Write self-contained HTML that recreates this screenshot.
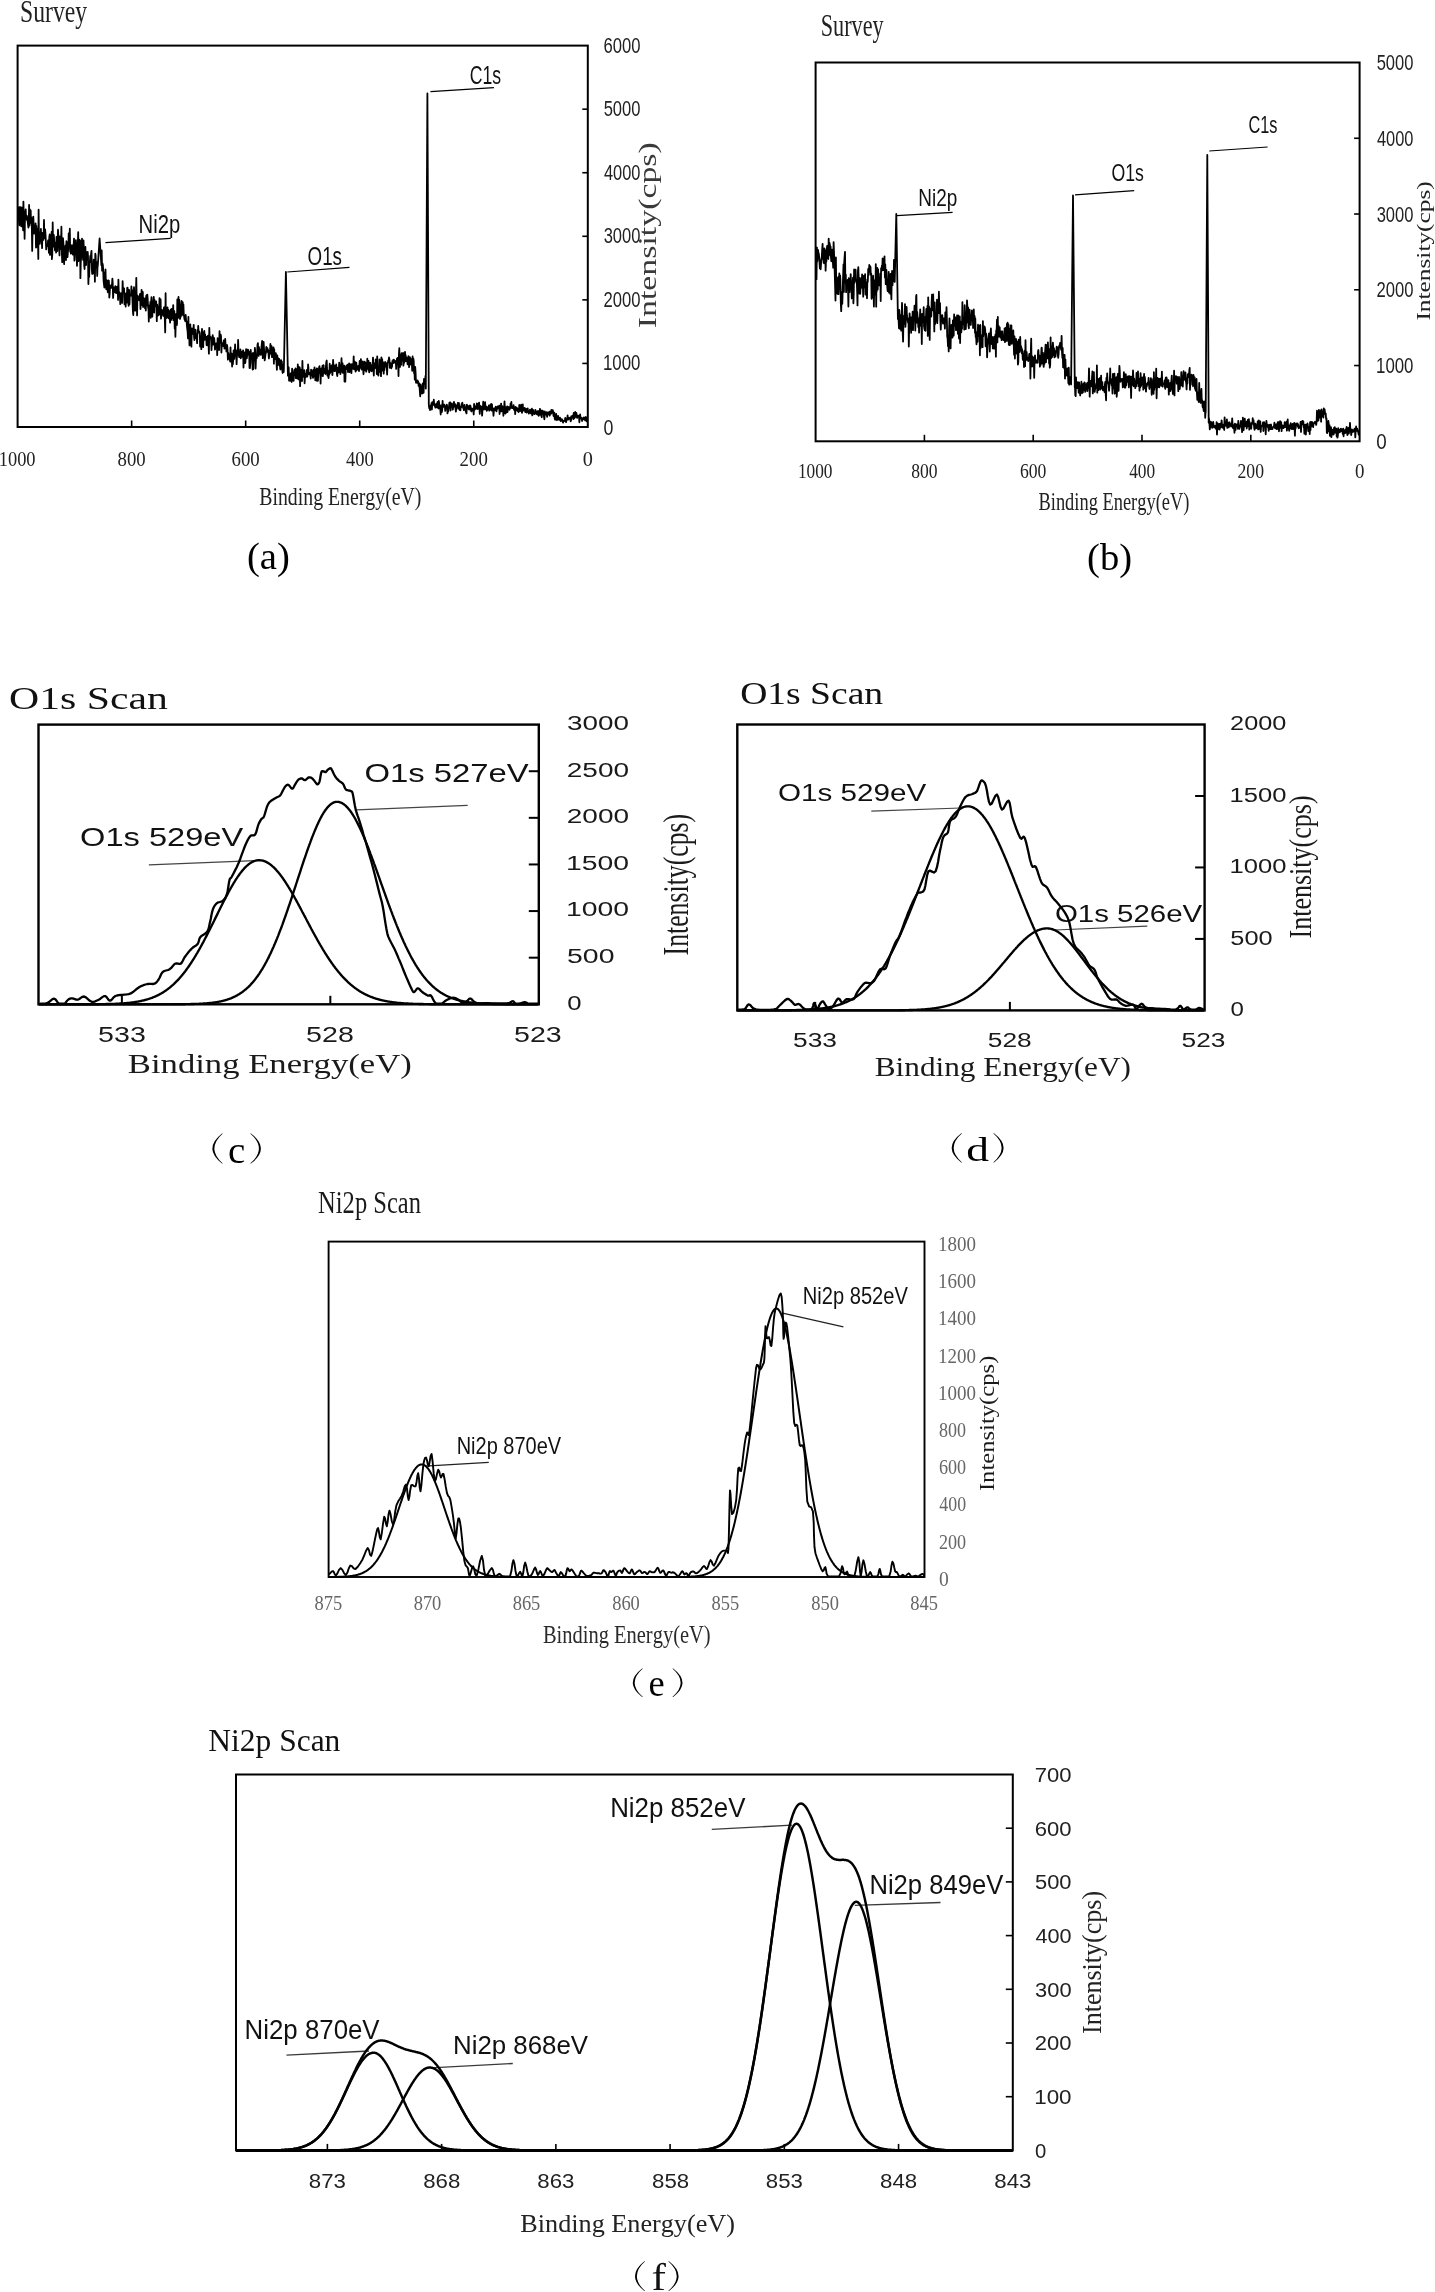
<!DOCTYPE html>
<html><head><meta charset="utf-8"><title>XPS spectra</title>
<style>
html,body{margin:0;padding:0;background:#fff;}
body{width:1435px;height:2292px;overflow:hidden;}
svg{display:block;}
text{font-kerning:none;}
svg{will-change:transform;}
</style></head>
<body>
<svg width="1435" height="2292" viewBox="0 0 1435 2292">
<rect x="0" y="0" width="1435" height="2292" fill="#fff"/>
<rect x="17.60" y="45.60" width="570.20" height="381.40" fill="none" stroke="#000" stroke-width="2.00"/>
<line x1="131.64" y1="427.00" x2="131.64" y2="420.50" stroke="#000" stroke-width="1.60"/>
<line x1="245.68" y1="427.00" x2="245.68" y2="420.50" stroke="#000" stroke-width="1.60"/>
<line x1="359.72" y1="427.00" x2="359.72" y2="420.50" stroke="#000" stroke-width="1.60"/>
<line x1="473.76" y1="427.00" x2="473.76" y2="420.50" stroke="#000" stroke-width="1.60"/>
<line x1="587.80" y1="363.43" x2="582.30" y2="363.43" stroke="#000" stroke-width="1.60"/>
<line x1="587.80" y1="299.87" x2="582.30" y2="299.87" stroke="#000" stroke-width="1.60"/>
<line x1="587.80" y1="236.30" x2="582.30" y2="236.30" stroke="#000" stroke-width="1.60"/>
<line x1="587.80" y1="172.73" x2="582.30" y2="172.73" stroke="#000" stroke-width="1.60"/>
<line x1="587.80" y1="109.17" x2="582.30" y2="109.17" stroke="#000" stroke-width="1.60"/>
<text x="603.46" y="52.60" font-family='"Liberation Sans", sans-serif' font-size="22.00" textLength="36.99" lengthAdjust="spacingAndGlyphs" fill="#222">6000</text>
<text x="603.64" y="116.17" font-family='"Liberation Sans", sans-serif' font-size="22.00" textLength="36.81" lengthAdjust="spacingAndGlyphs" fill="#222">5000</text>
<text x="603.92" y="179.73" font-family='"Liberation Sans", sans-serif' font-size="22.00" textLength="36.52" lengthAdjust="spacingAndGlyphs" fill="#222">4000</text>
<text x="603.67" y="243.30" font-family='"Liberation Sans", sans-serif' font-size="22.00" textLength="36.78" lengthAdjust="spacingAndGlyphs" fill="#222">3000</text>
<text x="603.46" y="306.87" font-family='"Liberation Sans", sans-serif' font-size="22.00" textLength="36.99" lengthAdjust="spacingAndGlyphs" fill="#222">2000</text>
<text x="603.02" y="370.43" font-family='"Liberation Sans", sans-serif' font-size="22.00" textLength="37.44" lengthAdjust="spacingAndGlyphs" fill="#222">1000</text>
<text x="603.61" y="435.20" font-family='"Liberation Sans", sans-serif' font-size="22.00" textLength="9.89" lengthAdjust="spacingAndGlyphs" fill="#222">0</text>
<text x="-1.27" y="466.00" font-family='"Liberation Serif", serif' font-size="21.56" textLength="36.82" lengthAdjust="spacingAndGlyphs" fill="#222">1000</text>
<text x="117.58" y="466.00" font-family='"Liberation Serif", serif' font-size="21.56" textLength="28.13" lengthAdjust="spacingAndGlyphs" fill="#222">800</text>
<text x="231.52" y="466.00" font-family='"Liberation Serif", serif' font-size="21.56" textLength="28.23" lengthAdjust="spacingAndGlyphs" fill="#222">600</text>
<text x="346.01" y="466.00" font-family='"Liberation Serif", serif' font-size="21.56" textLength="27.77" lengthAdjust="spacingAndGlyphs" fill="#222">400</text>
<text x="459.58" y="466.00" font-family='"Liberation Serif", serif' font-size="21.56" textLength="28.24" lengthAdjust="spacingAndGlyphs" fill="#222">200</text>
<text x="582.73" y="466.00" font-family='"Liberation Serif", serif' font-size="21.56" textLength="10.15" lengthAdjust="spacingAndGlyphs" fill="#222">0</text>
<text x="259.23" y="505.40" font-family='"Liberation Serif", serif' font-size="25.19" textLength="162.24" lengthAdjust="spacingAndGlyphs" fill="#222">Binding Energy(eV)</text>
<text transform="translate(655.60 328.22) rotate(-90)" x="0" y="0" font-family='"Liberation Serif", serif' font-size="25.34" textLength="186.01" lengthAdjust="spacingAndGlyphs" fill="#3a3a3a">Intensity(cps)</text>
<text x="20.02" y="22.30" font-family='"Liberation Serif", serif' font-size="30.69" textLength="67.08" lengthAdjust="spacingAndGlyphs" fill="#222">Survey</text>
<text x="246.90" y="569.30" font-family='"Liberation Serif", serif' font-size="37.10" textLength="42.90" lengthAdjust="spacingAndGlyphs" fill="#000">(a)</text>
<text x="138.54" y="233.40" font-family='"Liberation Sans", sans-serif' font-size="26.16" textLength="41.61" lengthAdjust="spacingAndGlyphs" fill="#111">Ni2p</text>
<text x="307.61" y="264.90" font-family='"Liberation Sans", sans-serif' font-size="24.85" textLength="34.36" lengthAdjust="spacingAndGlyphs" fill="#111">O1s</text>
<text x="469.81" y="84.20" font-family='"Liberation Sans", sans-serif' font-size="26.45" textLength="31.33" lengthAdjust="spacingAndGlyphs" fill="#111">C1s</text>
<line x1="105.40" y1="242.70" x2="170.70" y2="238.30" stroke="#000" stroke-width="1.20"/>
<line x1="287.30" y1="272.00" x2="349.50" y2="267.30" stroke="#000" stroke-width="1.20"/>
<line x1="430.50" y1="91.70" x2="494.00" y2="87.60" stroke="#000" stroke-width="1.20"/>
<path d="M18.5 207.3 L18.9 220.3 L19.3 225.3 L19.6 213.2 L20.0 206.8 L20.4 217.0 L20.8 221.4 L21.2 226.4 L21.5 207.9 L21.9 207.4 L22.3 223.5 L22.7 221.7 L23.1 230.3 L23.4 201.6 L23.8 217.3 L24.2 216.0 L24.6 238.8 L25.0 216.0 L25.3 212.1 L25.7 209.3 L26.1 219.3 L26.5 219.7 L26.9 215.9 L27.2 218.2 L27.6 220.9 L28.0 224.4 L28.4 227.7 L28.8 220.6 L29.1 205.0 L29.5 225.6 L29.9 209.4 L30.3 220.0 L30.7 210.4 L31.0 222.8 L31.4 217.3 L31.8 225.9 L32.2 250.9 L32.6 225.2 L32.9 232.9 L33.3 216.6 L33.7 225.5 L34.1 233.6 L34.5 228.4 L34.8 232.7 L35.2 231.4 L35.6 223.4 L36.0 247.5 L36.4 225.9 L36.7 246.9 L37.1 228.7 L37.5 238.2 L37.9 233.1 L38.3 258.9 L38.6 209.7 L39.0 241.4 L39.4 233.0 L39.8 243.9 L40.2 239.2 L40.5 235.7 L40.9 228.8 L41.3 240.9 L41.7 238.8 L42.1 248.1 L42.4 232.8 L42.8 240.2 L43.2 240.0 L43.6 238.5 L44.0 219.9 L44.3 238.2 L44.7 232.4 L45.1 229.4 L45.5 234.4 L45.9 242.1 L46.2 249.4 L46.6 245.5 L47.0 246.3 L47.4 244.4 L47.8 244.0 L48.1 240.3 L48.5 245.0 L48.9 252.8 L49.3 237.1 L49.7 234.5 L50.0 254.9 L50.4 242.0 L50.8 247.7 L51.2 247.1 L51.6 232.0 L51.9 259.2 L52.3 254.3 L52.7 222.5 L53.1 246.9 L53.5 242.3 L53.8 234.8 L54.2 240.8 L54.6 244.6 L55.0 250.4 L55.4 247.5 L55.7 242.7 L56.1 252.6 L56.5 236.8 L56.9 248.7 L57.3 251.2 L57.6 240.8 L58.0 229.7 L58.4 236.5 L58.8 245.2 L59.2 247.6 L59.5 255.4 L59.9 236.4 L60.3 244.1 L60.7 249.1 L61.1 243.2 L61.4 226.7 L61.8 250.7 L62.2 262.1 L62.6 252.5 L63.0 238.2 L63.3 242.2 L63.7 247.0 L64.1 264.1 L64.5 250.3 L64.9 246.6 L65.2 257.5 L65.6 245.4 L66.0 260.0 L66.4 241.2 L66.8 242.8 L67.1 251.9 L67.5 257.2 L67.9 251.6 L68.3 249.1 L68.7 233.4 L69.0 241.8 L69.4 242.7 L69.8 228.7 L70.2 251.8 L70.6 245.1 L70.9 253.6 L71.3 248.5 L71.7 245.5 L72.1 249.0 L72.5 251.4 L72.8 254.7 L73.2 244.9 L73.6 246.9 L74.0 238.6 L74.4 260.7 L74.7 259.7 L75.1 247.8 L75.5 245.7 L75.9 240.2 L76.3 250.7 L76.6 251.1 L77.0 265.8 L77.4 251.6 L77.8 244.2 L78.2 232.1 L78.5 261.0 L78.9 252.4 L79.3 239.6 L79.7 253.2 L80.1 240.5 L80.4 278.2 L80.8 261.3 L81.2 257.7 L81.6 252.6 L82.0 238.7 L82.3 253.8 L82.7 243.8 L83.1 259.9 L83.5 240.5 L83.9 249.8 L84.2 265.6 L84.6 269.1 L85.0 249.1 L85.4 247.0 L85.8 264.8 L86.1 265.0 L86.5 252.2 L86.9 254.7 L87.3 255.2 L87.7 252.0 L88.0 256.1 L88.4 284.0 L88.8 266.7 L89.2 276.8 L89.6 261.7 L89.9 261.6 L90.3 255.8 L90.7 262.1 L91.1 253.9 L91.5 250.8 L91.8 268.6 L92.2 274.0 L92.6 270.0 L93.0 273.7 L93.4 266.3 L93.7 259.6 L94.1 265.5 L94.5 262.5 L94.9 281.7 L95.3 253.6 L95.6 255.4 L96.0 266.0 L96.4 267.0 L96.8 262.5 L97.2 275.9 L97.5 267.0 L97.8 265.7 L99.6 238.5 L101.4 265.1 L101.7 250.4 L102.1 270.7 L102.5 263.5 L102.9 265.5 L103.2 270.3 L103.6 281.0 L104.0 284.3 L104.4 287.6 L104.8 272.4 L105.1 281.1 L105.5 269.4 L105.9 284.6 L106.3 289.3 L106.7 280.4 L107.0 287.1 L107.4 287.1 L107.8 292.3 L108.2 280.4 L108.6 280.4 L108.9 281.0 L109.3 297.6 L109.7 293.4 L110.1 285.5 L110.5 287.8 L110.8 287.2 L111.2 287.9 L111.6 285.3 L112.0 284.5 L112.4 278.6 L112.7 282.7 L113.1 298.0 L113.5 291.2 L113.9 288.7 L114.3 287.4 L114.6 289.8 L115.0 292.2 L115.4 286.2 L115.8 292.2 L116.2 293.1 L116.5 287.2 L116.9 287.5 L117.3 286.7 L117.7 286.9 L118.1 299.9 L118.4 279.7 L118.8 293.6 L119.2 292.0 L119.6 292.5 L120.0 297.6 L120.3 304.2 L120.7 297.5 L121.1 296.2 L121.5 293.2 L121.9 296.3 L122.2 302.9 L122.6 281.1 L123.0 290.0 L123.4 289.3 L123.8 290.3 L124.1 288.5 L124.5 304.3 L124.9 299.6 L125.3 295.9 L125.7 306.6 L126.0 293.3 L126.4 302.2 L126.8 302.5 L127.2 287.8 L127.6 287.7 L127.9 291.7 L128.3 303.3 L128.7 305.8 L129.1 289.9 L129.5 304.3 L129.8 295.3 L130.2 295.2 L130.6 294.3 L131.0 295.7 L131.4 286.3 L131.7 291.5 L132.1 290.1 L132.5 301.0 L132.9 311.1 L133.3 315.2 L133.6 295.9 L134.0 287.2 L134.4 295.5 L134.8 292.3 L135.2 310.7 L135.5 301.9 L135.9 293.9 L136.3 277.8 L136.7 302.0 L137.1 315.4 L137.4 295.5 L137.8 297.4 L138.2 299.1 L138.6 299.9 L139.0 297.0 L139.3 300.4 L139.7 295.6 L140.1 293.8 L140.5 309.0 L140.9 301.8 L141.2 302.4 L141.6 289.8 L142.0 298.8 L142.4 305.1 L142.8 292.0 L143.1 307.0 L143.5 297.8 L143.9 302.8 L144.3 299.5 L144.7 301.8 L145.0 308.1 L145.4 298.1 L145.8 310.5 L146.2 295.9 L146.6 295.1 L146.9 305.4 L147.3 294.6 L147.7 299.2 L148.1 307.4 L148.5 309.5 L148.8 321.5 L149.2 305.7 L149.6 314.5 L150.0 310.5 L150.4 301.9 L150.7 317.8 L151.1 302.1 L151.5 297.1 L151.9 302.9 L152.3 316.7 L152.6 304.1 L153.0 312.5 L153.4 304.2 L153.8 296.9 L154.2 312.5 L154.5 299.9 L154.9 303.9 L155.3 306.1 L155.7 305.1 L156.1 301.4 L156.4 306.2 L156.8 321.2 L157.2 304.6 L157.6 307.7 L158.0 315.6 L158.3 313.6 L158.7 314.0 L159.1 314.8 L159.5 298.1 L159.9 305.0 L160.2 311.2 L160.6 299.3 L161.0 318.7 L161.4 314.0 L161.8 309.9 L162.1 311.7 L162.5 310.4 L162.9 313.2 L163.3 315.9 L163.7 310.0 L164.0 307.4 L164.4 307.3 L164.8 319.0 L165.2 332.4 L165.6 293.2 L165.9 318.1 L166.3 318.1 L166.7 313.3 L167.1 317.4 L167.5 307.4 L167.8 312.5 L168.2 309.6 L168.6 318.3 L169.0 310.8 L169.4 313.7 L169.7 316.9 L170.1 322.6 L170.5 310.1 L170.9 309.4 L171.3 319.9 L171.6 308.8 L172.0 318.1 L172.4 312.2 L172.8 315.1 L173.2 305.2 L173.5 320.2 L173.9 313.2 L174.3 311.1 L174.7 328.6 L175.1 320.7 L175.4 336.8 L175.8 318.5 L176.2 313.9 L176.6 316.3 L177.0 324.9 L177.3 299.5 L177.7 317.7 L178.1 317.9 L178.5 297.0 L178.9 315.1 L179.2 299.6 L179.6 306.6 L180.0 318.9 L180.4 317.4 L180.8 313.7 L181.1 307.7 L181.5 301.0 L181.9 315.5 L182.3 311.8 L182.7 302.2 L183.0 311.8 L183.4 304.5 L183.8 314.6 L184.2 317.0 L184.6 319.5 L184.9 320.0 L185.3 321.1 L185.7 315.0 L186.1 320.6 L186.5 321.2 L186.8 324.1 L187.2 328.3 L187.6 331.5 L188.0 338.4 L188.4 316.8 L188.7 334.3 L189.1 332.0 L189.5 345.4 L189.9 338.3 L190.3 324.5 L190.6 335.7 L191.0 330.9 L191.4 346.7 L191.8 328.3 L192.2 333.5 L192.5 333.5 L192.9 333.8 L193.3 331.3 L193.7 324.8 L194.1 337.1 L194.4 340.1 L194.8 334.6 L195.2 329.7 L195.6 336.3 L196.0 338.3 L196.3 334.5 L196.7 335.5 L197.1 343.2 L197.5 329.9 L197.9 333.0 L198.2 326.0 L198.6 332.6 L199.0 332.6 L199.4 331.6 L199.8 333.2 L200.1 346.5 L200.5 336.2 L200.9 336.9 L201.3 349.2 L201.7 337.5 L202.0 328.9 L202.4 340.3 L202.8 333.5 L203.2 347.1 L203.6 332.3 L203.9 335.9 L204.3 330.8 L204.7 339.9 L205.1 334.3 L205.5 339.4 L205.8 338.0 L206.2 336.9 L206.6 345.2 L207.0 345.3 L207.4 341.0 L207.7 336.2 L208.1 335.6 L208.5 342.6 L208.9 353.7 L209.3 327.8 L209.6 337.8 L210.0 338.4 L210.4 336.6 L210.8 337.4 L211.2 341.5 L211.5 350.1 L211.9 343.0 L212.3 340.6 L212.7 335.1 L213.1 344.6 L213.4 343.6 L213.8 337.7 L214.2 338.6 L214.6 344.1 L215.0 349.6 L215.3 347.8 L215.7 345.9 L216.1 343.3 L216.5 346.3 L216.9 344.3 L217.2 355.1 L217.6 338.1 L218.0 341.7 L218.4 349.7 L218.8 341.7 L219.1 350.0 L219.5 331.2 L219.9 343.0 L220.3 340.0 L220.7 334.6 L221.0 336.4 L221.4 352.5 L221.8 344.2 L222.2 343.7 L222.6 345.2 L222.9 343.0 L223.3 346.1 L223.7 340.4 L224.1 341.6 L224.5 348.6 L224.8 342.8 L225.2 338.9 L225.6 345.4 L226.0 344.8 L226.4 351.4 L226.7 345.8 L227.1 345.1 L227.5 349.6 L227.9 359.6 L228.3 352.9 L228.6 354.9 L229.0 355.0 L229.4 356.4 L229.8 359.4 L230.2 361.6 L230.5 347.4 L230.9 361.5 L231.3 355.1 L231.7 353.7 L232.1 366.5 L232.4 354.4 L232.8 364.4 L233.2 359.8 L233.6 350.5 L234.0 357.6 L234.3 358.8 L234.7 354.8 L235.1 344.5 L235.5 353.8 L235.9 354.6 L236.2 350.3 L236.6 364.1 L237.0 354.4 L237.4 353.8 L237.8 354.2 L238.1 339.9 L238.5 352.0 L238.9 356.1 L239.3 357.2 L239.7 353.4 L240.0 355.4 L240.4 349.3 L240.8 358.3 L241.2 352.4 L241.6 356.9 L241.9 351.7 L242.3 353.5 L242.7 357.0 L243.1 350.3 L243.5 367.5 L243.8 355.7 L244.2 355.5 L244.6 352.3 L245.0 363.2 L245.4 362.1 L245.7 357.0 L246.1 349.1 L246.5 353.1 L246.9 358.3 L247.3 352.9 L247.6 349.7 L248.0 349.6 L248.4 351.5 L248.8 355.2 L249.2 352.0 L249.5 367.9 L249.9 368.1 L250.3 363.2 L250.7 349.9 L251.1 356.4 L251.4 355.1 L251.8 354.0 L252.2 359.5 L252.6 369.5 L253.0 352.9 L253.3 369.1 L253.7 353.9 L254.1 360.4 L254.5 357.9 L254.9 347.8 L255.2 352.0 L255.6 368.5 L256.0 357.9 L256.4 355.0 L256.8 358.1 L257.1 353.5 L257.5 344.7 L257.9 343.1 L258.3 354.7 L258.7 355.9 L259.0 347.2 L259.4 353.7 L259.8 350.0 L260.2 349.9 L260.6 354.8 L260.9 354.8 L261.3 348.7 L261.7 344.8 L262.1 341.0 L262.5 350.0 L262.8 358.1 L263.2 352.4 L263.6 341.8 L264.0 348.4 L264.4 354.5 L264.7 360.4 L265.1 357.9 L265.5 354.0 L265.9 353.1 L266.3 347.0 L266.6 349.8 L267.0 350.3 L267.4 348.1 L267.8 352.1 L268.2 349.8 L268.5 353.3 L268.9 358.5 L269.3 355.1 L269.7 353.5 L270.1 350.2 L270.4 344.0 L270.8 350.7 L271.2 353.8 L271.6 346.2 L272.0 357.1 L272.3 349.9 L272.7 353.9 L273.1 351.2 L273.5 347.4 L273.9 363.7 L274.2 349.1 L274.6 359.5 L275.0 353.1 L275.4 357.6 L275.8 353.2 L276.1 355.6 L276.5 362.4 L276.9 369.8 L277.3 355.5 L277.7 360.0 L278.0 364.8 L278.4 358.3 L278.8 364.9 L279.2 358.8 L279.6 365.6 L279.9 365.5 L280.3 369.5 L280.7 366.3 L281.1 360.1 L281.5 368.8 L281.8 361.4 L282.2 369.5 L282.6 373.0 L283.0 369.2 L283.4 364.4 L283.7 372.0 L283.9 367.0 L285.9 272.0 L287.9 374.8 L287.9 375.7 L288.3 374.9 L288.7 367.5 L289.1 380.7 L289.4 378.7 L289.8 379.8 L290.2 380.8 L290.6 373.8 L291.0 373.1 L291.3 376.7 L291.7 382.0 L292.1 368.6 L292.5 374.3 L292.9 372.3 L293.2 377.3 L293.6 380.9 L294.0 373.7 L294.4 369.9 L294.8 375.0 L295.1 373.6 L295.5 368.4 L295.9 378.1 L296.3 372.4 L296.7 377.2 L297.0 369.0 L297.4 378.7 L297.8 364.3 L298.2 378.4 L298.6 366.7 L298.9 379.5 L299.3 372.4 L299.7 367.5 L300.1 386.2 L300.5 375.0 L300.8 369.6 L301.2 371.5 L301.6 374.5 L302.0 381.0 L302.4 360.8 L302.7 371.5 L303.1 374.9 L303.5 374.3 L303.9 377.1 L304.3 370.1 L304.6 383.3 L305.0 376.1 L305.4 374.0 L305.8 377.1 L306.2 376.5 L306.5 372.9 L306.9 369.9 L307.3 376.6 L307.7 374.1 L308.1 364.5 L308.4 367.7 L308.8 374.1 L309.2 372.6 L309.6 373.3 L310.0 374.7 L310.3 372.7 L310.7 378.5 L311.1 369.6 L311.5 370.3 L311.9 373.2 L312.2 374.9 L312.6 375.1 L313.0 377.9 L313.4 369.8 L313.8 376.5 L314.1 373.6 L314.5 367.3 L314.9 371.0 L315.3 380.2 L315.7 374.8 L316.0 369.6 L316.4 380.7 L316.8 368.4 L317.2 368.5 L317.6 371.7 L317.9 380.9 L318.3 374.4 L318.7 372.5 L319.1 367.3 L319.5 366.2 L319.8 370.3 L320.2 369.1 L320.6 383.5 L321.0 369.3 L321.4 368.4 L321.7 375.6 L322.1 371.2 L322.5 365.7 L322.9 376.2 L323.3 369.5 L323.6 365.2 L324.0 372.0 L324.4 372.7 L324.8 369.2 L325.2 373.5 L325.5 374.0 L325.9 366.8 L326.3 361.9 L326.7 360.5 L327.1 369.9 L327.4 375.5 L327.8 374.5 L328.2 376.1 L328.6 378.0 L329.0 370.3 L329.3 374.6 L329.7 363.7 L330.1 373.0 L330.5 371.7 L330.9 369.6 L331.2 368.1 L331.6 365.3 L332.0 370.5 L332.4 375.2 L332.8 368.3 L333.1 359.9 L333.5 367.0 L333.9 370.8 L334.3 365.4 L334.7 371.2 L335.0 368.7 L335.4 370.9 L335.8 367.0 L336.2 364.5 L336.6 368.1 L336.9 373.8 L337.3 376.0 L337.7 368.0 L338.1 372.7 L338.5 372.5 L338.8 370.9 L339.2 362.6 L339.6 370.5 L340.0 365.0 L340.4 374.0 L340.7 372.4 L341.1 371.6 L341.5 358.2 L341.9 371.5 L342.3 371.8 L342.6 363.4 L343.0 372.9 L343.4 369.1 L343.8 367.9 L344.2 365.7 L344.5 381.6 L344.9 366.8 L345.3 381.7 L345.7 369.4 L346.1 369.4 L346.4 365.7 L346.8 365.8 L347.2 366.0 L347.6 364.6 L348.0 372.0 L348.3 367.1 L348.7 371.9 L349.1 363.3 L349.5 372.1 L349.9 368.0 L350.2 370.9 L350.6 367.6 L351.0 364.2 L351.4 373.1 L351.8 366.1 L352.1 367.3 L352.5 364.1 L352.9 368.7 L353.3 366.1 L353.7 356.4 L354.0 369.2 L354.4 364.7 L354.8 361.6 L355.2 369.4 L355.6 371.5 L355.9 370.5 L356.3 362.6 L356.7 370.0 L357.1 369.0 L357.5 368.6 L357.8 369.2 L358.2 365.9 L358.6 368.2 L359.0 371.2 L359.4 365.0 L359.7 360.9 L360.1 366.6 L360.5 367.9 L360.9 359.1 L361.3 364.1 L361.6 369.5 L362.0 366.2 L362.4 367.2 L362.8 361.4 L363.2 370.7 L363.5 374.3 L363.9 365.8 L364.3 363.5 L364.7 361.6 L365.1 370.4 L365.4 367.0 L365.8 363.0 L366.2 371.7 L366.6 369.7 L367.0 368.9 L367.3 358.7 L367.7 365.8 L368.1 368.9 L368.5 360.9 L368.9 370.1 L369.2 372.3 L369.6 370.5 L370.0 362.9 L370.4 362.9 L370.8 370.0 L371.1 370.2 L371.5 371.2 L371.9 371.0 L372.3 365.3 L372.7 363.9 L373.0 357.6 L373.4 369.0 L373.8 375.5 L374.2 363.5 L374.6 363.4 L374.9 368.3 L375.3 367.0 L375.7 359.4 L376.1 362.2 L376.5 360.5 L376.8 374.1 L377.2 356.4 L377.6 368.9 L378.0 373.5 L378.4 375.7 L378.7 371.3 L379.1 372.1 L379.5 359.5 L379.9 363.4 L380.3 361.7 L380.6 363.5 L381.0 376.2 L381.4 357.4 L381.8 367.1 L382.2 359.2 L382.5 370.5 L382.9 370.3 L383.3 362.3 L383.7 373.6 L384.1 364.8 L384.4 370.1 L384.8 365.7 L385.2 361.9 L385.6 362.6 L386.0 363.7 L386.3 366.9 L386.7 364.7 L387.1 374.5 L387.5 363.2 L387.9 362.0 L388.2 360.8 L388.6 360.5 L389.0 357.5 L389.4 359.5 L389.8 367.8 L390.1 364.0 L390.5 363.0 L390.9 365.2 L391.3 368.3 L391.7 366.3 L392.0 367.0 L392.4 361.0 L392.8 362.3 L393.2 360.0 L393.6 363.0 L393.9 359.7 L394.3 361.6 L394.7 362.5 L395.1 362.3 L395.5 362.0 L395.8 360.9 L396.2 368.9 L396.6 361.5 L397.0 358.5 L397.4 363.8 L397.7 358.0 L398.1 358.0 L398.5 376.1 L398.9 355.2 L399.3 348.2 L399.6 363.8 L400.0 367.0 L400.4 354.9 L400.8 358.2 L401.2 364.7 L401.5 353.2 L401.9 358.1 L402.3 356.6 L402.7 361.0 L403.1 353.0 L403.4 365.7 L403.8 361.0 L404.2 362.9 L404.6 360.0 L405.0 351.9 L405.3 360.6 L405.7 355.2 L406.1 361.2 L406.5 357.3 L406.9 359.6 L407.2 360.0 L407.6 364.4 L408.0 364.3 L408.4 356.2 L408.8 360.6 L409.1 367.2 L409.5 362.7 L409.9 357.1 L410.3 359.8 L410.7 358.7 L411.0 364.5 L411.4 360.3 L411.8 361.7 L412.2 370.8 L412.6 356.4 L412.9 359.8 L413.3 358.5 L413.7 361.0 L414.1 373.1 L414.5 372.5 L414.8 379.6 L415.2 366.8 L415.6 372.7 L416.0 382.7 L416.4 381.9 L416.7 382.1 L417.1 382.9 L417.5 380.5 L417.9 381.2 L418.3 382.1 L418.6 386.0 L419.0 383.1 L419.4 385.7 L419.8 390.5 L420.2 396.3 L420.5 384.4 L420.9 389.8 L421.3 386.6 L421.7 386.3 L422.1 393.6 L422.4 387.0 L422.8 383.4 L423.2 388.2 L423.6 392.8 L424.0 378.8 L424.3 379.8 L424.7 383.6 L425.1 382.8 L425.5 375.9 L425.8 388.6 L427.4 93.4 L428.8 404.0 L428.9 405.6 L429.3 408.5 L429.7 407.0 L430.0 410.1 L430.4 406.3 L430.8 405.5 L431.2 404.9 L431.6 403.0 L431.9 409.5 L432.3 402.2 L432.7 405.0 L433.1 404.0 L433.5 403.4 L433.8 399.7 L434.2 404.5 L434.6 405.8 L435.0 405.9 L435.4 407.7 L435.7 405.2 L436.1 404.0 L436.5 406.4 L436.9 407.4 L437.3 403.4 L437.6 401.9 L438.0 403.2 L438.4 408.5 L438.8 401.0 L439.2 403.6 L439.5 406.2 L439.9 408.1 L440.3 409.4 L440.7 414.5 L441.1 405.4 L441.4 409.7 L441.8 412.2 L442.2 410.0 L442.6 400.9 L443.0 407.4 L443.3 405.5 L443.7 406.1 L444.1 404.6 L444.5 405.1 L444.9 406.4 L445.2 410.9 L445.6 408.2 L446.0 407.5 L446.4 406.5 L446.8 404.6 L447.1 405.9 L447.5 413.4 L447.9 408.6 L448.3 411.5 L448.7 407.2 L449.0 406.5 L449.4 402.6 L449.8 407.6 L450.2 402.3 L450.6 410.5 L450.9 405.1 L451.3 406.7 L451.7 403.3 L452.1 405.5 L452.5 404.4 L452.8 409.6 L453.2 407.4 L453.6 403.9 L454.0 402.0 L454.4 406.7 L454.7 405.7 L455.1 404.1 L455.5 408.4 L455.9 411.6 L456.3 407.2 L456.6 405.5 L457.0 405.6 L457.4 405.9 L457.8 403.0 L458.2 408.6 L458.5 408.0 L458.9 402.8 L459.3 407.3 L459.7 410.0 L460.1 407.7 L460.4 410.3 L460.8 406.5 L461.2 407.2 L461.6 404.0 L462.0 405.0 L462.3 402.7 L462.7 405.0 L463.1 407.9 L463.5 408.6 L463.9 410.2 L464.2 407.6 L464.6 404.9 L465.0 408.4 L465.4 407.0 L465.8 411.8 L466.1 412.2 L466.5 413.4 L466.9 404.7 L467.3 406.2 L467.7 408.0 L468.0 405.8 L468.4 408.8 L468.8 409.2 L469.2 409.6 L469.6 408.1 L469.9 405.4 L470.3 405.5 L470.7 407.3 L471.1 410.8 L471.5 411.4 L471.8 410.0 L472.2 408.5 L472.6 409.3 L473.0 409.6 L473.4 410.8 L473.7 414.5 L474.1 403.8 L474.5 409.9 L474.9 408.5 L475.3 406.5 L475.6 408.9 L476.0 408.3 L476.4 407.5 L476.8 403.5 L477.2 407.9 L477.5 409.0 L477.9 407.5 L478.3 403.7 L478.7 408.7 L479.1 402.6 L479.4 408.0 L479.8 413.9 L480.2 406.7 L480.6 406.0 L481.0 408.9 L481.3 406.7 L481.7 408.0 L482.1 415.6 L482.5 409.3 L482.9 407.9 L483.2 401.7 L483.6 407.8 L484.0 409.5 L484.4 405.9 L484.8 407.0 L485.1 402.1 L485.5 409.0 L485.9 406.1 L486.3 409.3 L486.7 410.9 L487.0 407.2 L487.4 410.0 L487.8 408.2 L488.2 407.1 L488.6 406.9 L488.9 405.5 L489.3 410.7 L489.7 409.8 L490.1 405.1 L490.5 409.7 L490.8 405.8 L491.2 403.9 L491.6 410.5 L492.0 404.5 L492.4 410.5 L492.7 408.1 L493.1 409.8 L493.5 415.8 L493.9 410.4 L494.3 408.4 L494.6 409.0 L495.0 408.2 L495.4 410.3 L495.8 406.7 L496.2 410.1 L496.5 411.4 L496.9 407.6 L497.3 408.8 L497.7 406.5 L498.1 407.1 L498.4 408.4 L498.8 407.0 L499.2 405.7 L499.6 414.0 L500.0 408.3 L500.3 408.7 L500.7 409.6 L501.1 403.6 L501.5 411.4 L501.9 407.6 L502.2 406.1 L502.6 407.1 L503.0 409.1 L503.4 415.8 L503.8 407.2 L504.1 408.5 L504.5 401.5 L504.9 408.6 L505.3 413.6 L505.7 407.2 L506.0 410.3 L506.4 412.5 L506.8 410.7 L507.2 406.4 L507.6 412.0 L507.9 407.5 L508.3 408.2 L508.7 407.0 L509.1 409.5 L509.5 409.7 L509.8 408.8 L510.2 408.0 L510.6 403.4 L511.0 407.5 L511.4 402.0 L511.7 407.3 L512.1 408.2 L512.5 408.1 L512.9 406.8 L513.3 408.1 L513.6 405.2 L514.0 409.6 L514.4 410.0 L514.8 408.0 L515.2 414.1 L515.5 406.8 L515.9 410.1 L516.3 409.9 L516.7 407.6 L517.1 408.3 L517.4 411.0 L517.8 409.0 L518.2 409.6 L518.6 412.2 L519.0 409.5 L519.3 405.0 L519.7 407.3 L520.1 411.0 L520.5 408.8 L520.9 406.7 L521.2 404.6 L521.6 410.1 L522.0 412.9 L522.4 406.6 L522.8 404.5 L523.1 410.8 L523.5 408.4 L523.9 409.1 L524.3 409.1 L524.7 407.9 L525.0 411.0 L525.4 412.1 L525.8 411.0 L526.2 408.9 L526.6 412.6 L526.9 410.1 L527.3 411.7 L527.7 408.4 L528.1 412.0 L528.5 412.3 L528.8 413.6 L529.2 410.9 L529.6 411.9 L530.0 409.7 L530.4 413.0 L530.7 412.8 L531.1 413.5 L531.5 410.4 L531.9 408.7 L532.3 415.4 L532.6 411.0 L533.0 409.9 L533.4 412.9 L533.8 413.7 L534.2 412.6 L534.5 414.2 L534.9 412.8 L535.3 409.9 L535.7 410.8 L536.1 411.4 L536.4 413.7 L536.8 414.2 L537.2 412.6 L537.6 414.6 L538.0 410.8 L538.3 412.3 L538.7 415.8 L539.1 413.6 L539.5 414.9 L539.9 408.8 L540.2 409.3 L540.6 411.0 L541.0 414.8 L541.4 416.1 L541.8 417.2 L542.1 410.7 L542.5 410.7 L542.9 411.0 L543.3 413.9 L543.7 412.2 L544.0 416.7 L544.4 419.3 L544.8 411.4 L545.2 413.3 L545.6 412.5 L545.9 414.5 L546.3 414.7 L546.7 412.2 L547.1 416.8 L547.5 414.1 L547.8 412.7 L548.2 413.4 L548.6 414.3 L549.0 412.3 L549.4 411.6 L549.7 415.6 L550.1 413.0 L550.5 411.8 L550.9 413.9 L551.3 410.0 L551.6 413.1 L552.0 410.2 L552.4 412.5 L552.8 410.1 L553.2 412.5 L553.5 416.0 L553.9 414.2 L554.3 412.6 L554.7 418.5 L555.1 419.7 L555.4 418.5 L555.8 415.2 L556.2 413.9 L556.6 420.0 L557.0 416.4 L557.3 418.7 L557.7 419.7 L558.1 415.9 L558.5 418.5 L558.9 417.8 L559.2 419.9 L559.6 419.3 L560.0 417.7 L560.4 420.0 L560.8 421.1 L561.1 419.5 L561.5 420.7 L561.9 419.1 L562.3 419.8 L562.7 420.3 L563.0 422.7 L563.4 421.6 L563.8 421.1 L564.2 420.9 L564.6 420.7 L564.9 419.8 L565.3 417.8 L565.7 421.1 L566.1 422.1 L566.5 419.8 L566.8 419.0 L567.2 419.3 L567.6 415.3 L568.0 419.7 L568.4 417.7 L568.7 418.9 L569.1 418.0 L569.5 418.8 L569.9 417.7 L570.3 417.7 L570.6 421.3 L571.0 420.4 L571.4 416.1 L571.8 416.8 L572.2 417.5 L572.5 417.4 L572.9 415.5 L573.3 419.1 L573.7 413.0 L574.1 418.4 L574.4 418.2 L574.8 416.2 L575.2 412.0 L575.6 416.5 L576.0 416.8 L576.3 413.0 L576.7 414.6 L577.1 417.8 L577.5 416.8 L577.9 416.4 L578.2 415.6 L578.6 416.2 L579.0 416.2 L579.4 422.3 L579.8 415.7 L580.1 414.4 L580.5 418.7 L580.9 418.4 L581.3 418.5 L581.7 417.7 L582.0 421.0 L582.4 419.4 L582.8 418.6 L583.2 418.6 L583.6 419.2 L583.9 417.3 L584.3 418.7 L584.7 418.3 L585.1 420.3 L585.5 420.4 L585.8 416.9 L586.2 419.4 L586.6 421.3 L587.0 418.1" fill="none" stroke="#000" stroke-width="1.80" stroke-linejoin="round" stroke-linecap="round"/>
<rect x="815.60" y="62.50" width="544.00" height="378.80" fill="none" stroke="#000" stroke-width="2.00"/>
<line x1="924.40" y1="441.30" x2="924.40" y2="434.80" stroke="#000" stroke-width="1.60"/>
<line x1="1033.20" y1="441.30" x2="1033.20" y2="434.80" stroke="#000" stroke-width="1.60"/>
<line x1="1142.00" y1="441.30" x2="1142.00" y2="434.80" stroke="#000" stroke-width="1.60"/>
<line x1="1250.80" y1="441.30" x2="1250.80" y2="434.80" stroke="#000" stroke-width="1.60"/>
<line x1="1359.60" y1="365.54" x2="1354.10" y2="365.54" stroke="#000" stroke-width="1.60"/>
<line x1="1359.60" y1="289.78" x2="1354.10" y2="289.78" stroke="#000" stroke-width="1.60"/>
<line x1="1359.60" y1="214.02" x2="1354.10" y2="214.02" stroke="#000" stroke-width="1.60"/>
<line x1="1359.60" y1="138.26" x2="1354.10" y2="138.26" stroke="#000" stroke-width="1.60"/>
<text x="1376.64" y="70.10" font-family='"Liberation Sans", sans-serif' font-size="21.71" textLength="36.81" lengthAdjust="spacingAndGlyphs" fill="#222">5000</text>
<text x="1376.92" y="145.86" font-family='"Liberation Sans", sans-serif' font-size="21.71" textLength="36.52" lengthAdjust="spacingAndGlyphs" fill="#222">4000</text>
<text x="1376.67" y="221.62" font-family='"Liberation Sans", sans-serif' font-size="21.71" textLength="36.78" lengthAdjust="spacingAndGlyphs" fill="#222">3000</text>
<text x="1376.46" y="297.38" font-family='"Liberation Sans", sans-serif' font-size="21.71" textLength="36.99" lengthAdjust="spacingAndGlyphs" fill="#222">2000</text>
<text x="1376.02" y="373.14" font-family='"Liberation Sans", sans-serif' font-size="21.71" textLength="37.44" lengthAdjust="spacingAndGlyphs" fill="#222">1000</text>
<text x="1376.36" y="449.10" font-family='"Liberation Sans", sans-serif' font-size="22.29" textLength="10.47" lengthAdjust="spacingAndGlyphs" fill="#222">0</text>
<text x="797.88" y="477.50" font-family='"Liberation Serif", serif' font-size="20.21" textLength="34.58" lengthAdjust="spacingAndGlyphs" fill="#222">1000</text>
<text x="911.23" y="477.50" font-family='"Liberation Serif", serif' font-size="20.21" textLength="26.34" lengthAdjust="spacingAndGlyphs" fill="#222">800</text>
<text x="1019.94" y="477.50" font-family='"Liberation Serif", serif' font-size="20.21" textLength="26.43" lengthAdjust="spacingAndGlyphs" fill="#222">600</text>
<text x="1129.16" y="477.50" font-family='"Liberation Serif", serif' font-size="20.21" textLength="26.00" lengthAdjust="spacingAndGlyphs" fill="#222">400</text>
<text x="1237.53" y="477.50" font-family='"Liberation Serif", serif' font-size="20.21" textLength="26.45" lengthAdjust="spacingAndGlyphs" fill="#222">200</text>
<text x="1354.88" y="477.50" font-family='"Liberation Serif", serif' font-size="20.21" textLength="9.44" lengthAdjust="spacingAndGlyphs" fill="#222">0</text>
<text x="1038.47" y="509.60" font-family='"Liberation Serif", serif' font-size="25.65" textLength="150.94" lengthAdjust="spacingAndGlyphs" fill="#222">Binding Energy(eV)</text>
<text transform="translate(1430.30 320.62) rotate(-90)" x="0" y="0" font-family='"Liberation Serif", serif' font-size="18.63" textLength="139.43" lengthAdjust="spacingAndGlyphs" fill="#222">Intensity(cps)</text>
<text x="820.72" y="36.00" font-family='"Liberation Serif", serif' font-size="31.30" textLength="62.87" lengthAdjust="spacingAndGlyphs" fill="#222">Survey</text>
<text x="1087.10" y="569.50" font-family='"Liberation Serif", serif' font-size="37.40" textLength="44.99" lengthAdjust="spacingAndGlyphs" fill="#000">(b)</text>
<text x="918.25" y="205.50" font-family='"Liberation Sans", sans-serif' font-size="23.69" textLength="38.95" lengthAdjust="spacingAndGlyphs" fill="#111">Ni2p</text>
<text x="1111.46" y="180.80" font-family='"Liberation Sans", sans-serif' font-size="23.40" textLength="32.37" lengthAdjust="spacingAndGlyphs" fill="#111">O1s</text>
<text x="1248.47" y="132.80" font-family='"Liberation Sans", sans-serif' font-size="23.84" textLength="29.02" lengthAdjust="spacingAndGlyphs" fill="#111">C1s</text>
<line x1="896.80" y1="215.60" x2="952.60" y2="212.40" stroke="#000" stroke-width="1.20"/>
<line x1="1075.00" y1="194.80" x2="1134.20" y2="190.60" stroke="#000" stroke-width="1.20"/>
<line x1="1209.30" y1="151.00" x2="1267.60" y2="147.00" stroke="#000" stroke-width="1.20"/>
<path d="M816.5 279.2 L816.9 247.5 L817.3 261.4 L817.6 255.8 L818.0 249.9 L818.4 252.9 L818.8 253.5 L819.2 257.6 L819.5 262.4 L819.9 268.5 L820.3 260.7 L820.7 269.3 L821.1 262.9 L821.4 259.5 L821.8 256.5 L822.2 249.4 L822.6 243.8 L823.0 258.5 L823.3 257.9 L823.7 262.9 L824.1 263.2 L824.5 248.3 L824.9 253.8 L825.2 250.2 L825.6 270.7 L826.0 260.3 L826.4 261.4 L826.8 250.5 L827.1 245.8 L827.5 251.2 L827.9 254.7 L828.3 259.0 L828.7 238.6 L829.0 255.4 L829.4 242.7 L829.8 244.8 L830.2 246.6 L830.6 246.6 L830.9 256.3 L831.3 261.3 L831.7 257.1 L832.1 249.7 L832.5 259.9 L832.8 260.5 L833.2 267.7 L833.6 242.1 L834.0 252.1 L834.4 264.0 L834.7 271.1 L835.1 286.8 L835.5 300.5 L835.9 257.5 L836.3 290.3 L836.6 277.8 L837.0 289.1 L837.4 293.9 L837.8 293.1 L838.2 277.2 L838.5 294.2 L838.9 286.0 L839.3 273.3 L839.7 287.1 L840.1 275.3 L840.4 280.4 L840.8 303.0 L841.2 311.1 L841.6 298.1 L842.0 291.8 L842.3 303.8 L842.7 289.4 L843.1 276.9 L843.5 264.4 L843.9 291.9 L844.2 263.1 L844.6 256.8 L845.0 251.8 L845.4 282.5 L845.8 274.7 L846.1 292.2 L846.5 282.6 L846.9 285.8 L847.3 288.4 L847.7 279.8 L848.0 287.3 L848.4 306.5 L848.8 278.2 L849.2 288.5 L849.6 292.1 L849.9 283.3 L850.3 288.1 L850.7 274.1 L851.1 285.6 L851.5 289.4 L851.8 298.4 L852.2 296.6 L852.6 282.8 L853.0 277.7 L853.4 303.3 L853.7 294.6 L854.1 269.5 L854.5 283.0 L854.9 277.6 L855.3 279.9 L855.6 269.6 L856.0 280.8 L856.4 279.5 L856.8 281.6 L857.2 292.7 L857.5 305.4 L857.9 271.7 L858.3 267.1 L858.7 278.1 L859.1 293.3 L859.4 291.6 L859.8 278.1 L860.2 293.9 L860.6 287.6 L861.0 278.4 L861.3 287.9 L861.7 283.5 L862.1 274.4 L862.5 280.7 L862.9 286.2 L863.2 296.7 L863.6 275.8 L864.0 287.4 L864.4 285.6 L864.8 285.1 L865.1 274.1 L865.5 294.6 L865.9 293.2 L866.3 294.2 L866.7 282.2 L867.0 298.3 L867.4 279.4 L867.8 281.9 L868.2 269.0 L868.6 275.1 L868.9 270.9 L869.3 265.0 L869.7 271.6 L870.1 266.2 L870.5 267.1 L870.8 274.7 L871.2 273.6 L871.6 298.8 L872.0 297.0 L872.4 291.5 L872.7 289.7 L873.1 275.7 L873.5 286.8 L873.9 306.6 L874.3 280.5 L874.6 282.7 L875.0 284.5 L875.4 294.5 L875.8 264.1 L876.2 306.7 L876.5 279.5 L876.9 290.9 L877.3 267.9 L877.7 289.6 L878.1 269.2 L878.4 281.4 L878.8 278.6 L879.2 285.3 L879.6 282.4 L880.0 279.5 L880.3 273.4 L880.7 301.1 L881.1 268.1 L881.5 271.3 L881.9 265.6 L882.2 270.1 L882.6 258.5 L883.0 262.5 L883.4 270.1 L883.8 258.6 L884.1 267.4 L884.5 256.3 L884.9 277.4 L885.3 264.4 L885.7 284.2 L886.0 274.1 L886.4 270.0 L886.8 282.0 L887.2 285.8 L887.6 290.9 L887.9 291.4 L888.3 288.7 L888.7 271.8 L889.1 292.7 L889.5 284.8 L889.8 287.6 L890.2 293.7 L890.6 274.0 L891.0 291.1 L891.4 299.3 L891.7 280.7 L892.1 271.0 L892.5 285.1 L892.9 272.3 L893.3 278.8 L893.6 281.3 L894.0 259.8 L894.4 281.2 L894.7 281.9 L896.3 214.0 L897.9 319.0 L898.2 318.4 L898.6 319.9 L899.0 328.3 L899.3 310.0 L899.7 317.7 L900.1 328.9 L900.5 316.7 L900.9 315.2 L901.2 330.7 L901.6 320.9 L902.0 303.0 L902.4 314.1 L902.8 335.0 L903.1 341.6 L903.5 316.1 L903.9 323.5 L904.3 323.9 L904.7 320.8 L905.0 304.1 L905.4 326.9 L905.8 321.4 L906.2 317.7 L906.6 307.0 L906.9 315.2 L907.3 319.6 L907.7 318.8 L908.1 322.9 L908.5 318.4 L908.8 346.5 L909.2 327.0 L909.6 313.3 L910.0 318.0 L910.4 325.7 L910.7 317.8 L911.1 332.8 L911.5 317.3 L911.9 323.2 L912.3 325.7 L912.6 311.7 L913.0 330.2 L913.4 318.4 L913.8 314.1 L914.2 314.0 L914.5 305.7 L914.9 308.1 L915.3 330.5 L915.7 317.3 L916.1 296.8 L916.4 295.0 L916.8 322.5 L917.2 311.8 L917.6 316.8 L918.0 320.9 L918.3 327.0 L918.7 321.3 L919.1 332.6 L919.5 318.1 L919.9 317.4 L920.2 309.4 L920.6 320.3 L921.0 325.9 L921.4 319.2 L921.8 344.0 L922.1 314.0 L922.5 317.4 L922.9 318.7 L923.3 321.8 L923.7 307.2 L924.0 326.0 L924.4 328.7 L924.8 330.4 L925.2 317.0 L925.6 330.8 L925.9 320.1 L926.3 308.9 L926.7 314.1 L927.1 317.8 L927.5 305.8 L927.8 335.9 L928.2 297.3 L928.6 323.5 L929.0 306.5 L929.4 316.5 L929.7 339.9 L930.1 308.7 L930.5 316.4 L930.9 313.9 L931.3 316.5 L931.6 303.2 L932.0 294.6 L932.4 310.2 L932.8 305.5 L933.2 294.5 L933.5 310.7 L933.9 309.2 L934.3 331.4 L934.7 302.3 L935.1 324.1 L935.4 322.1 L935.8 315.2 L936.2 313.8 L936.6 315.8 L937.0 299.6 L937.3 323.1 L937.7 309.5 L938.1 306.7 L938.5 313.2 L938.9 291.7 L939.2 303.8 L939.6 305.6 L940.0 303.1 L940.4 320.9 L940.8 329.6 L941.1 317.5 L941.5 315.5 L941.9 321.2 L942.3 315.2 L942.7 320.8 L943.0 323.6 L943.4 319.2 L943.8 318.4 L944.2 322.7 L944.6 323.2 L944.9 328.6 L945.3 312.3 L945.7 315.9 L946.1 321.4 L946.5 307.1 L946.8 316.4 L947.2 336.2 L947.6 338.5 L948.0 346.2 L948.4 337.2 L948.7 351.4 L949.1 329.1 L949.5 318.4 L949.9 339.1 L950.3 338.0 L950.6 348.4 L951.0 328.5 L951.4 325.0 L951.8 336.2 L952.2 329.0 L952.5 337.6 L952.9 320.4 L953.3 335.2 L953.7 335.6 L954.1 314.4 L954.4 321.6 L954.8 325.5 L955.2 326.0 L955.6 317.3 L956.0 330.1 L956.3 321.2 L956.7 328.8 L957.1 315.3 L957.5 319.9 L957.9 333.8 L958.2 315.3 L958.6 327.6 L959.0 338.5 L959.4 333.1 L959.8 316.4 L960.1 343.1 L960.5 321.4 L960.9 332.4 L961.3 332.2 L961.7 321.9 L962.0 328.8 L962.4 302.1 L962.8 323.7 L963.2 323.8 L963.6 319.5 L963.9 322.7 L964.3 329.6 L964.7 305.2 L965.1 315.5 L965.5 326.3 L965.8 329.2 L966.2 320.8 L966.6 322.8 L967.0 300.4 L967.4 307.2 L967.7 322.4 L968.1 307.5 L968.5 325.9 L968.9 328.3 L969.3 311.2 L969.6 309.7 L970.0 317.2 L970.4 320.4 L970.8 325.0 L971.2 316.6 L971.5 318.6 L971.9 310.3 L972.3 320.3 L972.7 313.0 L973.1 328.0 L973.4 326.7 L973.8 309.5 L974.2 326.0 L974.6 315.9 L975.0 332.8 L975.3 318.5 L975.7 337.1 L976.1 336.6 L976.5 344.3 L976.9 333.1 L977.2 332.0 L977.6 341.8 L978.0 324.7 L978.4 334.5 L978.8 333.5 L979.1 336.5 L979.5 325.6 L979.9 355.3 L980.3 324.9 L980.7 348.0 L981.0 335.0 L981.4 342.1 L981.8 336.7 L982.2 336.0 L982.6 347.2 L982.9 321.1 L983.3 336.3 L983.7 332.3 L984.1 331.4 L984.5 326.5 L984.8 327.2 L985.2 329.7 L985.6 346.3 L986.0 333.5 L986.4 335.2 L986.7 337.4 L987.1 357.3 L987.5 346.3 L987.9 340.3 L988.3 339.0 L988.6 342.8 L989.0 333.4 L989.4 340.8 L989.8 351.5 L990.2 334.7 L990.5 333.3 L990.9 328.5 L991.3 340.0 L991.7 344.2 L992.1 336.8 L992.4 337.6 L992.8 348.4 L993.2 340.3 L993.6 344.8 L994.0 337.0 L994.3 348.7 L994.7 345.6 L995.1 337.8 L995.5 334.3 L995.9 356.7 L996.2 330.4 L996.6 330.9 L997.0 319.6 L997.4 342.4 L997.8 317.0 L998.1 336.3 L998.5 325.6 L998.9 336.5 L999.3 330.4 L999.7 327.4 L1000.0 333.9 L1000.4 337.7 L1000.8 334.1 L1001.2 331.3 L1001.6 340.1 L1001.9 336.2 L1002.3 331.5 L1002.7 338.2 L1003.1 335.9 L1003.5 340.2 L1003.8 339.3 L1004.2 338.4 L1004.6 328.4 L1005.0 342.2 L1005.4 339.7 L1005.7 328.0 L1006.1 341.0 L1006.5 332.2 L1006.9 323.8 L1007.3 331.3 L1007.6 322.7 L1008.0 341.1 L1008.4 324.2 L1008.8 344.8 L1009.2 328.4 L1009.5 334.3 L1009.9 345.2 L1010.3 339.1 L1010.7 325.3 L1011.1 336.8 L1011.4 325.3 L1011.8 343.8 L1012.2 332.3 L1012.6 339.5 L1013.0 339.7 L1013.3 330.5 L1013.7 344.1 L1014.1 354.8 L1014.5 336.4 L1014.9 358.6 L1015.2 346.5 L1015.6 352.9 L1016.0 339.0 L1016.4 347.0 L1016.8 348.6 L1017.1 353.9 L1017.5 341.6 L1017.9 364.6 L1018.3 362.2 L1018.7 339.6 L1019.0 344.0 L1019.4 352.2 L1019.8 345.7 L1020.2 337.0 L1020.6 350.7 L1020.9 346.0 L1021.3 347.1 L1021.7 353.0 L1022.1 349.2 L1022.5 354.6 L1022.8 359.4 L1023.2 360.2 L1023.6 353.7 L1024.0 367.0 L1024.4 351.1 L1024.7 359.9 L1025.1 366.2 L1025.5 340.2 L1025.9 360.3 L1026.3 352.2 L1026.6 351.9 L1027.0 357.2 L1027.4 359.3 L1027.8 358.9 L1028.2 361.1 L1028.5 359.2 L1028.9 356.9 L1029.3 353.8 L1029.7 357.4 L1030.1 358.7 L1030.4 378.5 L1030.8 352.1 L1031.2 338.7 L1031.6 366.5 L1032.0 361.0 L1032.3 356.3 L1032.7 366.3 L1033.1 357.7 L1033.5 357.5 L1033.9 362.7 L1034.2 377.8 L1034.6 359.5 L1035.0 355.5 L1035.4 362.3 L1035.8 361.0 L1036.1 362.8 L1036.5 360.9 L1036.9 360.1 L1037.3 360.3 L1037.7 362.8 L1038.0 351.5 L1038.4 350.0 L1038.8 357.9 L1039.2 358.3 L1039.6 355.6 L1039.9 366.7 L1040.3 359.9 L1040.7 364.9 L1041.1 357.3 L1041.5 347.8 L1041.8 347.7 L1042.2 363.3 L1042.6 356.5 L1043.0 353.0 L1043.4 364.3 L1043.7 366.9 L1044.1 358.3 L1044.5 363.9 L1044.9 353.5 L1045.3 349.3 L1045.6 344.6 L1046.0 362.2 L1046.4 345.1 L1046.8 352.3 L1047.2 355.3 L1047.5 358.4 L1047.9 342.5 L1048.3 352.9 L1048.7 349.0 L1049.1 363.6 L1049.4 352.8 L1049.8 367.7 L1050.2 364.9 L1050.6 337.4 L1051.0 358.4 L1051.3 355.1 L1051.7 351.6 L1052.1 357.2 L1052.5 347.3 L1052.9 342.6 L1053.2 347.0 L1053.6 355.2 L1054.0 348.2 L1054.4 357.4 L1054.8 354.8 L1055.1 351.1 L1055.5 356.7 L1055.9 351.6 L1056.3 350.9 L1056.7 346.6 L1057.0 347.4 L1057.4 347.3 L1057.8 354.5 L1058.2 357.8 L1058.6 354.1 L1058.9 348.2 L1059.3 345.4 L1059.7 347.6 L1060.1 342.8 L1060.5 347.7 L1060.8 346.8 L1061.2 349.9 L1061.6 335.8 L1062.0 352.5 L1062.4 357.9 L1062.7 348.0 L1063.1 367.2 L1063.5 358.1 L1063.9 354.8 L1064.3 368.4 L1064.6 354.8 L1065.0 378.6 L1065.4 359.4 L1065.8 371.1 L1066.2 375.7 L1066.5 373.1 L1066.9 371.6 L1067.3 368.5 L1067.7 373.5 L1068.1 377.4 L1068.4 383.3 L1068.8 367.7 L1069.2 384.7 L1069.6 377.0 L1070.0 380.0 L1070.3 383.1 L1070.7 380.7 L1071.1 384.5 L1073.0 195.4 L1074.8 387.8 L1074.9 383.2 L1075.3 395.4 L1075.7 396.1 L1076.0 377.3 L1076.4 385.7 L1076.8 383.4 L1077.2 388.2 L1077.6 386.8 L1077.9 382.1 L1078.3 384.9 L1078.7 392.7 L1079.1 382.3 L1079.5 388.1 L1079.8 390.1 L1080.2 395.5 L1080.6 388.9 L1081.0 387.9 L1081.4 381.7 L1081.7 387.8 L1082.1 393.2 L1082.5 388.7 L1082.9 392.5 L1083.3 383.8 L1083.6 390.1 L1084.0 384.7 L1084.4 382.4 L1084.8 382.7 L1085.2 391.9 L1085.5 388.7 L1085.9 384.7 L1086.3 384.3 L1086.7 389.7 L1087.1 383.1 L1087.4 391.2 L1087.8 386.9 L1088.2 382.3 L1088.6 384.2 L1089.0 368.4 L1089.3 379.4 L1089.7 396.7 L1090.1 382.3 L1090.5 382.9 L1090.9 380.8 L1091.2 381.2 L1091.6 386.4 L1092.0 377.7 L1092.4 371.5 L1092.8 393.4 L1093.1 385.1 L1093.5 385.5 L1093.9 372.1 L1094.3 390.3 L1094.7 391.9 L1095.0 389.3 L1095.4 388.3 L1095.8 386.8 L1096.2 383.6 L1096.6 383.6 L1096.9 365.5 L1097.3 392.7 L1097.7 383.5 L1098.1 378.9 L1098.5 390.0 L1098.8 380.3 L1099.2 385.9 L1099.6 379.4 L1100.0 377.8 L1100.4 389.7 L1100.7 384.5 L1101.1 375.6 L1101.5 387.2 L1101.9 388.4 L1102.3 382.1 L1102.6 387.3 L1103.0 390.4 L1103.4 389.7 L1103.8 386.8 L1104.2 387.5 L1104.5 392.0 L1104.9 384.5 L1105.3 381.9 L1105.7 394.0 L1106.1 400.3 L1106.4 377.9 L1106.8 383.3 L1107.2 373.4 L1107.6 382.9 L1108.0 382.1 L1108.3 382.6 L1108.7 387.1 L1109.1 390.8 L1109.5 384.1 L1109.9 378.7 L1110.2 368.5 L1110.6 382.9 L1111.0 379.0 L1111.4 382.4 L1111.8 385.6 L1112.1 383.9 L1112.5 393.5 L1112.9 373.9 L1113.3 383.4 L1113.7 388.3 L1114.0 376.8 L1114.4 373.6 L1114.8 393.7 L1115.2 387.7 L1115.6 385.4 L1115.9 388.9 L1116.3 377.2 L1116.7 396.8 L1117.1 390.8 L1117.5 383.1 L1117.8 373.8 L1118.2 381.7 L1118.6 390.8 L1119.0 376.7 L1119.4 365.9 L1119.7 369.9 L1120.1 381.5 L1120.5 381.8 L1120.9 378.8 L1121.3 379.2 L1121.6 380.7 L1122.0 378.8 L1122.4 379.1 L1122.8 387.4 L1123.2 382.3 L1123.5 384.9 L1123.9 372.2 L1124.3 377.2 L1124.7 387.5 L1125.1 382.8 L1125.4 387.5 L1125.8 374.2 L1126.2 385.4 L1126.6 378.9 L1127.0 382.0 L1127.3 378.2 L1127.7 376.8 L1128.1 376.2 L1128.5 381.1 L1128.9 387.4 L1129.2 376.1 L1129.6 378.6 L1130.0 376.5 L1130.4 377.3 L1130.8 385.4 L1131.1 397.9 L1131.5 376.7 L1131.9 385.6 L1132.3 383.8 L1132.7 383.8 L1133.0 370.5 L1133.4 378.8 L1133.8 386.3 L1134.2 378.7 L1134.6 383.2 L1134.9 382.9 L1135.3 388.2 L1135.7 381.2 L1136.1 386.4 L1136.5 373.0 L1136.8 382.8 L1137.2 383.2 L1137.6 382.7 L1138.0 371.4 L1138.4 386.2 L1138.7 378.9 L1139.1 378.6 L1139.5 390.6 L1139.9 381.1 L1140.3 387.3 L1140.6 373.2 L1141.0 386.1 L1141.4 383.4 L1141.8 384.0 L1142.2 377.3 L1142.5 384.3 L1142.9 381.4 L1143.3 389.7 L1143.7 379.8 L1144.1 374.0 L1144.4 388.2 L1144.8 376.8 L1145.2 381.4 L1145.6 386.6 L1146.0 391.6 L1146.3 385.6 L1146.7 386.5 L1147.1 383.7 L1147.5 383.4 L1147.9 382.4 L1148.2 384.5 L1148.6 378.0 L1149.0 383.9 L1149.4 389.0 L1149.8 383.7 L1150.1 382.1 L1150.5 386.8 L1150.9 378.2 L1151.3 381.7 L1151.7 394.8 L1152.0 387.1 L1152.4 386.8 L1152.8 382.1 L1153.2 378.9 L1153.6 393.8 L1153.9 372.2 L1154.3 389.6 L1154.7 382.3 L1155.1 387.1 L1155.5 381.1 L1155.8 383.2 L1156.2 368.7 L1156.6 398.3 L1157.0 383.3 L1157.4 377.8 L1157.7 387.5 L1158.1 382.5 L1158.5 385.4 L1158.9 378.7 L1159.3 387.3 L1159.6 378.8 L1160.0 384.6 L1160.4 380.3 L1160.8 378.5 L1161.2 385.6 L1161.5 384.6 L1161.9 371.6 L1162.3 386.1 L1162.7 386.6 L1163.1 383.3 L1163.4 384.1 L1163.8 383.8 L1164.2 383.9 L1164.6 380.4 L1165.0 387.8 L1165.3 388.8 L1165.7 377.7 L1166.1 382.5 L1166.5 377.3 L1166.9 379.7 L1167.2 387.2 L1167.6 382.2 L1168.0 383.2 L1168.4 380.1 L1168.8 394.6 L1169.1 388.2 L1169.5 384.1 L1169.9 383.1 L1170.3 391.2 L1170.7 388.3 L1171.0 383.4 L1171.4 380.8 L1171.8 375.6 L1172.2 388.8 L1172.6 390.6 L1172.9 394.0 L1173.3 382.9 L1173.7 386.0 L1174.1 370.7 L1174.5 395.4 L1174.8 377.0 L1175.2 376.6 L1175.6 376.4 L1176.0 376.1 L1176.4 378.0 L1176.7 383.6 L1177.1 376.8 L1177.5 378.6 L1177.9 379.6 L1178.3 391.2 L1178.6 384.5 L1179.0 376.8 L1179.4 384.4 L1179.8 389.0 L1180.2 379.2 L1180.5 383.8 L1180.9 385.6 L1181.3 372.1 L1181.7 380.5 L1182.1 378.9 L1182.4 384.0 L1182.8 386.6 L1183.2 376.8 L1183.6 371.1 L1184.0 376.5 L1184.3 379.2 L1184.7 375.5 L1185.1 380.3 L1185.5 372.5 L1185.9 381.6 L1186.2 382.6 L1186.6 389.4 L1187.0 377.8 L1187.4 383.8 L1187.8 374.4 L1188.1 374.3 L1188.5 373.6 L1188.9 377.2 L1189.3 370.7 L1189.7 367.8 L1190.0 389.8 L1190.4 375.7 L1190.8 377.3 L1191.2 378.2 L1191.6 374.7 L1191.9 376.4 L1192.3 384.6 L1192.7 380.9 L1193.1 386.3 L1193.5 375.0 L1193.8 384.7 L1194.2 378.4 L1194.6 377.4 L1195.0 388.8 L1195.4 387.2 L1195.7 390.4 L1196.1 391.0 L1196.5 379.0 L1196.9 392.4 L1197.3 399.8 L1197.6 392.2 L1198.0 396.8 L1198.4 399.8 L1198.8 402.2 L1199.2 383.0 L1199.5 394.0 L1199.9 395.6 L1200.3 396.0 L1200.7 402.9 L1201.1 393.2 L1201.4 388.8 L1201.8 401.6 L1202.2 400.1 L1202.6 406.6 L1203.0 407.6 L1203.3 405.7 L1203.7 411.0 L1204.1 401.5 L1204.5 407.8 L1204.9 404.3 L1205.2 417.8 L1205.6 411.1 L1205.7 412.3 L1207.3 155.0 L1208.7 422.7 L1209.0 418.5 L1209.4 422.7 L1209.8 429.4 L1210.2 427.0 L1210.6 421.7 L1210.9 422.1 L1211.3 422.2 L1211.7 424.4 L1212.1 427.8 L1212.5 425.4 L1212.8 427.6 L1213.2 422.0 L1213.6 425.2 L1214.0 425.9 L1214.4 426.6 L1214.7 427.4 L1215.1 425.8 L1215.5 427.7 L1215.9 428.8 L1216.3 426.8 L1216.6 422.2 L1217.0 434.5 L1217.4 423.2 L1217.8 429.7 L1218.2 427.6 L1218.5 425.7 L1218.9 423.9 L1219.3 423.9 L1219.7 429.5 L1220.1 425.0 L1220.4 423.9 L1220.8 423.4 L1221.2 427.3 L1221.6 420.4 L1222.0 424.0 L1222.3 427.2 L1222.7 427.7 L1223.1 427.1 L1223.5 424.7 L1223.9 427.7 L1224.2 430.0 L1224.6 417.3 L1225.0 423.2 L1225.4 424.5 L1225.8 425.8 L1226.1 424.1 L1226.5 423.8 L1226.9 419.4 L1227.3 427.9 L1227.7 422.7 L1228.0 425.6 L1228.4 424.1 L1228.8 427.4 L1229.2 422.2 L1229.6 422.5 L1229.9 425.7 L1230.3 425.7 L1230.7 424.1 L1231.1 426.5 L1231.5 424.1 L1231.8 424.5 L1232.2 418.3 L1232.6 425.4 L1233.0 428.0 L1233.4 425.1 L1233.7 425.3 L1234.1 428.1 L1234.5 432.8 L1234.9 423.7 L1235.3 425.7 L1235.6 430.0 L1236.0 424.4 L1236.4 425.3 L1236.8 426.3 L1237.2 424.3 L1237.5 424.5 L1237.9 428.9 L1238.3 420.8 L1238.7 426.8 L1239.1 428.0 L1239.4 428.8 L1239.8 426.1 L1240.2 426.8 L1240.6 423.9 L1241.0 420.8 L1241.3 426.1 L1241.7 426.0 L1242.1 432.2 L1242.5 429.0 L1242.9 417.6 L1243.2 426.9 L1243.6 430.2 L1244.0 426.0 L1244.4 426.4 L1244.8 418.7 L1245.1 426.2 L1245.5 423.9 L1245.9 426.1 L1246.3 421.8 L1246.7 428.5 L1247.0 421.4 L1247.4 426.8 L1247.8 420.0 L1248.2 425.5 L1248.6 426.2 L1248.9 419.1 L1249.3 429.7 L1249.7 422.2 L1250.1 425.1 L1250.5 424.9 L1250.8 425.6 L1251.2 428.8 L1251.6 423.8 L1252.0 422.6 L1252.4 423.8 L1252.7 418.2 L1253.1 423.4 L1253.5 420.1 L1253.9 424.3 L1254.3 428.7 L1254.6 429.8 L1255.0 423.7 L1255.4 423.7 L1255.8 427.5 L1256.2 428.3 L1256.5 425.5 L1256.9 425.7 L1257.3 427.6 L1257.7 421.3 L1258.1 429.4 L1258.4 422.7 L1258.8 420.3 L1259.2 429.0 L1259.6 425.6 L1260.0 427.7 L1260.3 421.3 L1260.7 431.9 L1261.1 426.3 L1261.5 426.1 L1261.9 426.0 L1262.2 425.4 L1262.6 425.4 L1263.0 422.4 L1263.4 431.0 L1263.8 424.2 L1264.1 422.2 L1264.5 426.4 L1264.9 424.9 L1265.3 423.6 L1265.7 434.3 L1266.0 426.8 L1266.4 420.8 L1266.8 424.4 L1267.2 424.6 L1267.6 425.5 L1267.9 427.4 L1268.3 427.0 L1268.7 430.9 L1269.1 424.7 L1269.5 425.0 L1269.8 428.8 L1270.2 429.1 L1270.6 425.2 L1271.0 424.5 L1271.4 429.0 L1271.7 427.7 L1272.1 429.1 L1272.5 429.0 L1272.9 427.4 L1273.3 426.6 L1273.6 426.5 L1274.0 426.1 L1274.4 422.7 L1274.8 427.5 L1275.2 428.4 L1275.5 428.0 L1275.9 424.3 L1276.3 425.6 L1276.7 429.2 L1277.1 429.1 L1277.4 423.7 L1277.8 422.2 L1278.2 426.8 L1278.6 422.2 L1279.0 431.3 L1279.3 425.9 L1279.7 428.1 L1280.1 421.2 L1280.5 426.6 L1280.9 426.8 L1281.2 422.2 L1281.6 431.2 L1282.0 426.3 L1282.4 427.5 L1282.8 425.5 L1283.1 426.9 L1283.5 428.1 L1283.9 427.4 L1284.3 427.4 L1284.7 422.1 L1285.0 426.3 L1285.4 423.0 L1285.8 427.1 L1286.2 424.4 L1286.6 421.6 L1286.9 430.7 L1287.3 425.7 L1287.7 419.3 L1288.1 426.5 L1288.5 426.0 L1288.8 428.2 L1289.2 430.8 L1289.6 425.4 L1290.0 428.2 L1290.4 428.3 L1290.7 423.1 L1291.1 428.4 L1291.5 429.0 L1291.9 426.1 L1292.3 425.7 L1292.6 423.9 L1293.0 429.2 L1293.4 424.8 L1293.8 427.0 L1294.2 423.0 L1294.5 425.7 L1294.9 435.7 L1295.3 424.3 L1295.7 428.5 L1296.1 423.5 L1296.4 423.7 L1296.8 424.5 L1297.2 425.3 L1297.6 423.4 L1298.0 426.9 L1298.3 424.9 L1298.7 428.3 L1299.1 427.7 L1299.5 427.1 L1299.9 427.4 L1300.2 427.7 L1300.6 421.8 L1301.0 431.9 L1301.4 421.9 L1301.8 421.4 L1302.1 424.4 L1302.5 421.0 L1302.9 422.9 L1303.3 421.3 L1303.7 427.2 L1304.0 425.8 L1304.4 433.8 L1304.8 427.0 L1305.2 424.7 L1305.6 430.2 L1305.9 434.5 L1306.3 424.6 L1306.7 424.5 L1307.1 426.5 L1307.5 423.4 L1307.8 424.7 L1308.2 431.0 L1308.6 429.7 L1309.0 429.7 L1309.4 427.0 L1309.7 434.0 L1310.1 422.2 L1310.5 430.1 L1310.9 422.0 L1311.3 423.1 L1311.6 426.4 L1312.0 421.8 L1312.4 425.4 L1312.8 425.2 L1313.2 427.1 L1313.5 423.4 L1313.9 423.7 L1314.3 422.3 L1314.7 422.5 L1315.1 421.7 L1315.4 421.9 L1315.8 423.4 L1316.2 424.9 L1316.6 422.0 L1317.0 410.7 L1317.3 421.1 L1317.7 413.9 L1318.1 415.7 L1318.5 420.5 L1318.9 409.8 L1319.2 415.2 L1319.6 417.7 L1320.0 416.3 L1320.4 414.2 L1320.8 410.4 L1321.1 421.7 L1321.5 409.3 L1321.9 411.1 L1322.3 416.2 L1322.7 413.8 L1323.0 415.8 L1323.4 417.6 L1323.8 408.4 L1324.2 414.2 L1324.6 409.3 L1324.9 412.1 L1325.3 413.4 L1325.7 413.4 L1326.1 418.9 L1326.5 418.4 L1326.8 432.3 L1327.2 433.1 L1327.6 428.1 L1328.0 424.0 L1328.4 421.0 L1328.7 423.6 L1329.1 431.4 L1329.5 425.1 L1329.9 435.8 L1330.3 427.1 L1330.6 427.1 L1331.0 427.3 L1331.4 437.1 L1331.8 432.7 L1332.2 429.6 L1332.5 434.4 L1332.9 429.8 L1333.3 429.7 L1333.7 434.5 L1334.1 427.6 L1334.4 432.8 L1334.8 427.1 L1335.2 432.5 L1335.6 430.0 L1336.0 431.0 L1336.3 428.7 L1336.7 436.4 L1337.1 431.5 L1337.5 437.7 L1337.9 435.2 L1338.2 428.2 L1338.6 431.9 L1339.0 432.5 L1339.4 430.4 L1339.8 432.1 L1340.1 429.4 L1340.5 431.6 L1340.9 428.6 L1341.3 429.2 L1341.7 429.4 L1342.0 431.3 L1342.4 429.7 L1342.8 434.2 L1343.2 428.7 L1343.6 436.3 L1343.9 430.6 L1344.3 430.6 L1344.7 430.3 L1345.1 433.1 L1345.5 429.4 L1345.8 432.5 L1346.2 430.3 L1346.6 426.9 L1347.0 430.6 L1347.4 435.2 L1347.7 428.4 L1348.1 432.8 L1348.5 427.9 L1348.9 433.5 L1349.3 428.1 L1349.6 429.2 L1350.0 422.9 L1350.4 431.4 L1350.8 430.3 L1351.2 435.1 L1351.5 432.7 L1351.9 429.5 L1352.3 432.0 L1352.7 431.4 L1353.1 431.8 L1353.4 430.2 L1353.8 429.9 L1354.2 431.2 L1354.6 428.6 L1355.0 430.8 L1355.3 437.4 L1355.7 430.1 L1356.1 426.5 L1356.5 430.8 L1356.9 429.7 L1357.2 428.6 L1357.6 431.0 L1358.0 430.3 L1358.4 433.1 L1358.8 434.7" fill="none" stroke="#000" stroke-width="1.80" stroke-linejoin="round" stroke-linecap="round"/>
<rect x="38.50" y="724.60" width="500.30" height="279.70" fill="none" stroke="#000" stroke-width="2.40"/>
<line x1="121.88" y1="1004.30" x2="121.88" y2="995.80" stroke="#000" stroke-width="2.00"/>
<line x1="330.34" y1="1004.30" x2="330.34" y2="995.80" stroke="#000" stroke-width="2.00"/>
<line x1="538.80" y1="957.68" x2="528.80" y2="957.68" stroke="#000" stroke-width="2.00"/>
<line x1="538.80" y1="911.07" x2="528.80" y2="911.07" stroke="#000" stroke-width="2.00"/>
<line x1="538.80" y1="864.45" x2="528.80" y2="864.45" stroke="#000" stroke-width="2.00"/>
<line x1="538.80" y1="817.83" x2="528.80" y2="817.83" stroke="#000" stroke-width="2.00"/>
<line x1="538.80" y1="771.22" x2="528.80" y2="771.22" stroke="#000" stroke-width="2.00"/>
<text x="567.14" y="730.00" font-family='"Liberation Sans", sans-serif' font-size="20.86" textLength="61.95" lengthAdjust="spacingAndGlyphs" fill="#1a1a1a">3000</text>
<text x="566.79" y="776.62" font-family='"Liberation Sans", sans-serif' font-size="20.86" textLength="62.30" lengthAdjust="spacingAndGlyphs" fill="#1a1a1a">2500</text>
<text x="566.79" y="823.23" font-family='"Liberation Sans", sans-serif' font-size="20.86" textLength="62.30" lengthAdjust="spacingAndGlyphs" fill="#1a1a1a">2000</text>
<text x="566.04" y="869.85" font-family='"Liberation Sans", sans-serif' font-size="20.86" textLength="63.07" lengthAdjust="spacingAndGlyphs" fill="#1a1a1a">1500</text>
<text x="566.04" y="916.47" font-family='"Liberation Sans", sans-serif' font-size="20.86" textLength="63.07" lengthAdjust="spacingAndGlyphs" fill="#1a1a1a">1000</text>
<text x="567.06" y="963.08" font-family='"Liberation Sans", sans-serif' font-size="20.86" textLength="47.45" lengthAdjust="spacingAndGlyphs" fill="#1a1a1a">500</text>
<text x="567.19" y="1009.70" font-family='"Liberation Sans", sans-serif' font-size="20.86" textLength="14.31" lengthAdjust="spacingAndGlyphs" fill="#1a1a1a">0</text>
<text x="98.11" y="1041.60" font-family='"Liberation Sans", sans-serif' font-size="21.43" textLength="47.70" lengthAdjust="spacingAndGlyphs" fill="#1a1a1a">533</text>
<text x="306.11" y="1041.60" font-family='"Liberation Sans", sans-serif' font-size="21.43" textLength="47.69" lengthAdjust="spacingAndGlyphs" fill="#1a1a1a">528</text>
<text x="514.01" y="1041.60" font-family='"Liberation Sans", sans-serif' font-size="21.43" textLength="47.70" lengthAdjust="spacingAndGlyphs" fill="#1a1a1a">523</text>
<text x="127.80" y="1072.60" font-family='"Liberation Serif", serif' font-size="27.63" textLength="284.02" lengthAdjust="spacingAndGlyphs" fill="#1a1a1a">Binding Energy(eV)</text>
<text transform="translate(687.80 955.43) rotate(-90)" x="0" y="0" font-family='"Liberation Serif", serif' font-size="35.11" textLength="141.56" lengthAdjust="spacingAndGlyphs" fill="#1a1a1a">Intensity(cps)</text>
<text x="9.09" y="709.20" font-family='"Liberation Serif", serif' font-size="31.15" textLength="158.74" lengthAdjust="spacingAndGlyphs" fill="#111">O1s Scan</text>
<path d="M222.00 1133.60 Q202.80 1148.60 222.00 1163.60 L222.80 1163.60 Q206.00 1148.60 222.80 1133.60 Z" fill="#000"/>
<text x="227.92" y="1162.50" font-family='"Liberation Serif", serif' font-size="38.51" textLength="17.28" lengthAdjust="spacingAndGlyphs" fill="#000">c</text>
<path d="M251.00 1133.60 Q270.80 1148.60 251.00 1163.60 L250.20 1163.60 Q267.60 1148.60 250.20 1133.60 Z" fill="#000"/>
<text x="80.06" y="846.30" font-family='"Liberation Sans", sans-serif' font-size="25.29" textLength="163.09" lengthAdjust="spacingAndGlyphs" fill="#111">O1s 529eV</text>
<text x="364.44" y="781.80" font-family='"Liberation Sans", sans-serif' font-size="26.31" textLength="164.30" lengthAdjust="spacingAndGlyphs" fill="#111">O1s 527eV</text>
<line x1="148.90" y1="864.90" x2="255.00" y2="860.60" stroke="#444" stroke-width="1.25"/>
<line x1="356.20" y1="809.90" x2="467.70" y2="805.40" stroke="#444" stroke-width="1.25"/>
<path d="M39.5 1004.3 L87.0 1004.3 L87.5 1004.2 L88.0 1004.2 L88.5 1004.2 L89.0 1004.2 L89.5 1004.2 L90.0 1004.2 L90.5 1004.2 L91.0 1004.2 L91.5 1004.2 L92.0 1004.2 L92.5 1004.2 L93.0 1004.2 L93.5 1004.2 L94.0 1004.2 L94.5 1004.2 L95.0 1004.2 L95.5 1004.2 L96.0 1004.2 L96.5 1004.2 L97.0 1004.2 L97.5 1004.2 L98.0 1004.2 L98.5 1004.2 L99.0 1004.2 L99.5 1004.2 L100.0 1004.1 L100.5 1004.1 L101.0 1004.1 L101.5 1004.1 L102.0 1004.1 L102.5 1004.1 L103.0 1004.1 L103.5 1004.1 L104.0 1004.1 L104.5 1004.1 L105.0 1004.1 L105.5 1004.1 L106.0 1004.0 L106.5 1004.0 L107.0 1004.0 L107.5 1004.0 L108.0 1004.0 L108.5 1004.0 L109.0 1004.0 L109.5 1004.0 L110.0 1003.9 L110.5 1003.9 L111.0 1003.9 L111.5 1003.9 L112.0 1003.9 L112.5 1003.9 L113.0 1003.8 L113.5 1003.8 L114.0 1003.8 L114.5 1003.8 L115.0 1003.8 L115.5 1003.8 L116.0 1003.7 L116.5 1003.7 L117.0 1003.7 L117.5 1003.7 L118.0 1003.6 L118.5 1003.6 L119.0 1003.6 L119.5 1003.6 L120.0 1003.5 L120.5 1003.5 L121.0 1003.5 L121.5 1003.4 L122.0 1003.4 L122.5 1003.4 L123.0 1003.3 L123.5 1003.3 L124.0 1003.3 L124.5 1003.2 L125.0 1003.2 L125.5 1003.1 L126.0 1003.1 L126.5 1003.1 L127.0 1003.0 L127.5 1003.0 L128.0 1002.9 L128.5 1002.9 L129.0 1002.8 L129.5 1002.8 L130.0 1002.7 L130.5 1002.6 L131.0 1002.6 L131.5 1002.5 L132.0 1002.5 L132.5 1002.4 L133.0 1002.3 L133.5 1002.3 L134.0 1002.2 L134.5 1002.1 L135.0 1002.0 L135.5 1002.0 L136.0 1001.9 L136.5 1001.8 L137.0 1001.7 L137.5 1001.6 L138.0 1001.6 L138.5 1001.5 L139.0 1001.4 L139.5 1001.3 L140.0 1001.2 L140.5 1001.1 L141.0 1001.0 L141.5 1000.9 L142.0 1000.7 L142.5 1000.6 L143.0 1000.5 L143.5 1000.4 L144.0 1000.3 L144.5 1000.1 L145.0 1000.0 L145.5 999.9 L146.0 999.7 L146.5 999.6 L147.0 999.5 L147.5 999.3 L148.0 999.2 L148.5 999.0 L149.0 998.8 L149.5 998.7 L150.0 998.5 L150.5 998.3 L151.0 998.2 L151.5 998.0 L152.0 997.8 L152.5 997.6 L153.0 997.4 L153.5 997.2 L154.0 997.0 L154.5 996.8 L155.0 996.6 L155.5 996.3 L156.0 996.1 L156.5 995.9 L157.0 995.7 L157.5 995.4 L158.0 995.2 L158.5 994.9 L159.0 994.7 L159.5 994.4 L160.0 994.1 L160.5 993.8 L161.0 993.6 L161.5 993.3 L162.0 993.0 L162.5 992.7 L163.0 992.4 L163.5 992.1 L164.0 991.7 L164.5 991.4 L165.0 991.1 L165.5 990.7 L166.0 990.4 L166.5 990.1 L167.0 989.7 L167.5 989.3 L168.0 988.9 L168.5 988.6 L169.0 988.2 L169.5 987.8 L170.0 987.4 L170.5 987.0 L171.0 986.5 L171.5 986.1 L172.0 985.7 L172.5 985.2 L173.0 984.8 L173.5 984.3 L174.0 983.9 L174.5 983.4 L175.0 982.9 L175.5 982.4 L176.0 981.9 L176.5 981.4 L177.0 980.9 L177.5 980.4 L178.0 979.9 L178.5 979.3 L179.0 978.8 L179.5 978.2 L180.0 977.6 L180.5 977.1 L181.0 976.5 L181.5 975.9 L182.0 975.3 L182.5 974.7 L183.0 974.1 L183.5 973.5 L184.0 972.8 L184.5 972.2 L185.0 971.5 L185.5 970.9 L186.0 970.2 L186.5 969.5 L187.0 968.8 L187.5 968.1 L188.0 967.4 L188.5 966.7 L189.0 966.0 L189.5 965.3 L190.0 964.5 L190.5 963.8 L191.0 963.0 L191.5 962.3 L192.0 961.5 L192.5 960.7 L193.0 959.9 L193.5 959.1 L194.0 958.3 L194.5 957.5 L195.0 956.7 L195.5 955.9 L196.0 955.0 L196.5 954.2 L197.0 953.3 L197.5 952.5 L198.0 951.6 L198.5 950.7 L199.0 949.9 L199.5 949.0 L200.0 948.1 L200.5 947.2 L201.0 946.3 L201.5 945.4 L202.0 944.4 L202.5 943.5 L203.0 942.6 L203.5 941.7 L204.0 940.7 L204.5 939.8 L205.0 938.8 L205.5 937.8 L206.0 936.9 L206.5 935.9 L207.0 934.9 L207.5 934.0 L208.0 933.0 L208.5 932.0 L209.0 931.0 L209.5 930.0 L210.0 929.0 L210.5 928.0 L211.0 927.0 L211.5 926.0 L212.0 925.0 L212.5 924.0 L213.0 923.0 L213.5 922.0 L214.0 921.0 L214.5 919.9 L215.0 918.9 L215.5 917.9 L216.0 916.9 L216.5 915.9 L217.0 914.9 L217.5 913.9 L218.0 912.8 L218.5 911.8 L219.0 910.8 L219.5 909.8 L220.0 908.8 L220.5 907.8 L221.0 906.8 L221.5 905.8 L222.0 904.8 L222.5 903.8 L223.0 902.8 L223.5 901.8 L224.0 900.8 L224.5 899.9 L225.0 898.9 L225.5 897.9 L226.0 897.0 L226.5 896.0 L227.0 895.1 L227.5 894.1 L228.0 893.2 L228.5 892.2 L229.0 891.3 L229.5 890.4 L230.0 889.5 L230.5 888.6 L231.0 887.7 L231.5 886.9 L232.0 886.0 L232.5 885.1 L233.0 884.3 L233.5 883.4 L234.0 882.6 L234.5 881.8 L235.0 881.0 L235.5 880.2 L236.0 879.4 L236.5 878.6 L237.0 877.9 L237.5 877.1 L238.0 876.4 L238.5 875.7 L239.0 875.0 L239.5 874.3 L240.0 873.6 L240.5 872.9 L241.0 872.3 L241.5 871.7 L242.0 871.0 L242.5 870.4 L243.0 869.8 L243.5 869.3 L244.0 868.7 L244.5 868.2 L245.0 867.6 L245.5 867.1 L246.0 866.6 L246.5 866.2 L247.0 865.7 L247.5 865.3 L248.0 864.8 L248.5 864.4 L249.0 864.0 L249.5 863.7 L250.0 863.3 L250.5 863.0 L251.0 862.7 L251.5 862.4 L252.0 862.1 L252.5 861.8 L253.0 861.6 L253.5 861.4 L254.0 861.2 L254.5 861.0 L255.0 860.8 L255.5 860.7 L256.0 860.6 L256.5 860.4 L257.0 860.4 L257.5 860.3 L258.0 860.2 L258.5 860.2 L259.0 860.2 L259.5 860.2 L260.0 860.2 L260.5 860.3 L261.0 860.3 L261.5 860.4 L262.0 860.5 L262.5 860.6 L263.0 860.7 L263.5 860.9 L264.0 861.0 L264.5 861.2 L265.0 861.4 L265.5 861.6 L266.0 861.9 L266.5 862.1 L267.0 862.4 L267.5 862.6 L268.0 862.9 L268.5 863.2 L269.0 863.6 L269.5 863.9 L270.0 864.3 L270.5 864.6 L271.0 865.0 L271.5 865.4 L272.0 865.8 L272.5 866.3 L273.0 866.7 L273.5 867.2 L274.0 867.7 L274.5 868.2 L275.0 868.7 L275.5 869.2 L276.0 869.7 L276.5 870.3 L277.0 870.8 L277.5 871.4 L278.0 872.0 L278.5 872.6 L279.0 873.2 L279.5 873.8 L280.0 874.5 L280.5 875.1 L281.0 875.8 L281.5 876.4 L282.0 877.1 L282.5 877.8 L283.0 878.5 L283.5 879.3 L284.0 880.0 L284.5 880.7 L285.0 881.5 L285.5 882.2 L286.0 883.0 L286.5 883.8 L287.0 884.6 L287.5 885.4 L288.0 886.2 L288.5 887.0 L289.0 887.8 L289.5 888.6 L290.0 889.5 L290.5 890.3 L291.0 891.2 L291.5 892.0 L292.0 892.9 L292.5 893.8 L293.0 894.6 L293.5 895.5 L294.0 896.4 L294.5 897.3 L295.0 898.2 L295.5 899.1 L296.0 900.0 L296.5 900.9 L297.0 901.9 L297.5 902.8 L298.0 903.7 L298.5 904.6 L299.0 905.6 L299.5 906.5 L300.0 907.4 L300.5 908.4 L301.0 909.3 L301.5 910.3 L302.0 911.2 L302.5 912.2 L303.0 913.1 L303.5 914.0 L304.0 915.0 L304.5 915.9 L305.0 916.9 L305.5 917.8 L306.0 918.8 L306.5 919.7 L307.0 920.7 L307.5 921.6 L308.0 922.6 L308.5 923.5 L309.0 924.5 L309.5 925.4 L310.0 926.4 L310.5 927.3 L311.0 928.2 L311.5 929.2 L312.0 930.1 L312.5 931.0 L313.0 932.0 L313.5 932.9 L314.0 933.8 L314.5 934.7 L315.0 935.6 L315.5 936.5 L316.0 937.4 L316.5 938.3 L317.0 939.2 L317.5 940.1 L318.0 941.0 L318.5 941.9 L319.0 942.8 L319.5 943.6 L320.0 944.5 L320.5 945.3 L321.0 946.2 L321.5 947.0 L322.0 947.9 L322.5 948.7 L323.0 949.6 L323.5 950.4 L324.0 951.2 L324.5 952.0 L325.0 952.8 L325.5 953.6 L326.0 954.4 L326.5 955.2 L327.0 956.0 L327.5 956.8 L328.0 957.5 L328.5 958.3 L329.0 959.0 L329.5 959.8 L330.0 960.5 L330.5 961.2 L331.0 962.0 L331.5 962.7 L332.0 963.4 L332.5 964.1 L333.0 964.8 L333.5 965.5 L334.0 966.2 L334.5 966.8 L335.0 967.5 L335.5 968.2 L336.0 968.8 L336.5 969.4 L337.0 970.1 L337.5 970.7 L338.0 971.3 L338.5 971.9 L339.0 972.5 L339.5 973.1 L340.0 973.7 L340.5 974.3 L341.0 974.9 L341.5 975.4 L342.0 976.0 L342.5 976.6 L343.0 977.1 L343.5 977.6 L344.0 978.2 L344.5 978.7 L345.0 979.2 L345.5 979.7 L346.0 980.2 L346.5 980.7 L347.0 981.2 L347.5 981.7 L348.0 982.1 L348.5 982.6 L349.0 983.0 L349.5 983.5 L350.0 983.9 L350.5 984.4 L351.0 984.8 L351.5 985.2 L352.0 985.6 L352.5 986.0 L353.0 986.4 L353.5 986.8 L354.0 987.2 L354.5 987.6 L355.0 988.0 L355.5 988.3 L356.0 988.7 L356.5 989.1 L357.0 989.4 L357.5 989.7 L358.0 990.1 L358.5 990.4 L359.0 990.7 L359.5 991.1 L360.0 991.4 L360.5 991.7 L361.0 992.0 L361.5 992.3 L362.0 992.6 L362.5 992.8 L363.0 993.1 L363.5 993.4 L364.0 993.7 L364.5 993.9 L365.0 994.2 L365.5 994.4 L366.0 994.7 L366.5 994.9 L367.0 995.1 L367.5 995.4 L368.0 995.6 L368.5 995.8 L369.0 996.0 L369.5 996.3 L370.0 996.5 L370.5 996.7 L371.0 996.9 L371.5 997.1 L372.0 997.2 L372.5 997.4 L373.0 997.6 L373.5 997.8 L374.0 998.0 L374.5 998.1 L375.0 998.3 L375.5 998.5 L376.0 998.6 L376.5 998.8 L377.0 998.9 L377.5 999.1 L378.0 999.2 L378.5 999.4 L379.0 999.5 L379.5 999.6 L380.0 999.8 L380.5 999.9 L381.0 1000.0 L381.5 1000.1 L382.0 1000.3 L382.5 1000.4 L383.0 1000.5 L383.5 1000.6 L384.0 1000.7 L384.5 1000.8 L385.0 1000.9 L385.5 1001.0 L386.0 1001.1 L386.5 1001.2 L387.0 1001.3 L387.5 1001.4 L388.0 1001.5 L388.5 1001.6 L389.0 1001.6 L389.5 1001.7 L390.0 1001.8 L390.5 1001.9 L391.0 1002.0 L391.5 1002.0 L392.0 1002.1 L392.5 1002.2 L393.0 1002.2 L393.5 1002.3 L394.0 1002.4 L394.5 1002.4 L395.0 1002.5 L395.5 1002.5 L396.0 1002.6 L396.5 1002.6 L397.0 1002.7 L397.5 1002.8 L398.0 1002.8 L398.5 1002.8 L399.0 1002.9 L399.5 1002.9 L400.0 1003.0 L400.5 1003.0 L401.0 1003.1 L401.5 1003.1 L402.0 1003.2 L402.5 1003.2 L403.0 1003.2 L403.5 1003.3 L404.0 1003.3 L404.5 1003.3 L405.0 1003.4 L405.5 1003.4 L406.0 1003.4 L406.5 1003.5 L407.0 1003.5 L407.5 1003.5 L408.0 1003.5 L408.5 1003.6 L409.0 1003.6 L409.5 1003.6 L410.0 1003.6 L410.5 1003.7 L411.0 1003.7 L411.5 1003.7 L412.0 1003.7 L412.5 1003.7 L413.0 1003.8 L413.5 1003.8 L414.0 1003.8 L414.5 1003.8 L415.0 1003.8 L415.5 1003.9 L416.0 1003.9 L416.5 1003.9 L417.0 1003.9 L417.5 1003.9 L418.0 1003.9 L418.5 1003.9 L419.0 1004.0 L419.5 1004.0 L420.0 1004.0 L420.5 1004.0 L421.0 1004.0 L421.5 1004.0 L422.0 1004.0 L422.5 1004.0 L423.0 1004.0 L423.5 1004.1 L424.0 1004.1 L424.5 1004.1 L425.0 1004.1 L425.5 1004.1 L426.0 1004.1 L426.5 1004.1 L427.0 1004.1 L427.5 1004.1 L428.0 1004.1 L428.5 1004.1 L429.0 1004.1 L429.5 1004.2 L430.0 1004.2 L430.5 1004.2 L431.0 1004.2 L431.5 1004.2 L432.0 1004.2 L432.5 1004.2 L433.0 1004.2 L433.5 1004.2 L434.0 1004.2 L434.5 1004.2 L435.0 1004.2 L435.5 1004.2 L436.0 1004.2 L436.5 1004.2 L437.0 1004.2 L437.5 1004.2 L438.0 1004.2 L438.5 1004.2 L439.0 1004.2 L439.5 1004.2 L440.0 1004.2 L440.5 1004.2 L441.0 1004.2 L441.5 1004.2 L442.0 1004.2 L442.5 1004.2 L443.0 1004.3 L537.5 1004.3" fill="none" stroke="#000" stroke-width="2.35" stroke-linejoin="round" stroke-linecap="round"/>
<path d="M39.5 1004.3 L173.5 1004.3 L174.0 1004.2 L174.5 1004.2 L175.0 1004.2 L175.5 1004.2 L176.0 1004.2 L176.5 1004.2 L177.0 1004.2 L177.5 1004.2 L178.0 1004.2 L178.5 1004.2 L179.0 1004.2 L179.5 1004.2 L180.0 1004.2 L180.5 1004.2 L181.0 1004.2 L181.5 1004.2 L182.0 1004.2 L182.5 1004.2 L183.0 1004.2 L183.5 1004.2 L184.0 1004.2 L184.5 1004.2 L185.0 1004.2 L185.5 1004.1 L186.0 1004.1 L186.5 1004.1 L187.0 1004.1 L187.5 1004.1 L188.0 1004.1 L188.5 1004.1 L189.0 1004.1 L189.5 1004.1 L190.0 1004.1 L190.5 1004.1 L191.0 1004.0 L191.5 1004.0 L192.0 1004.0 L192.5 1004.0 L193.0 1004.0 L193.5 1004.0 L194.0 1004.0 L194.5 1003.9 L195.0 1003.9 L195.5 1003.9 L196.0 1003.9 L196.5 1003.9 L197.0 1003.9 L197.5 1003.8 L198.0 1003.8 L198.5 1003.8 L199.0 1003.8 L199.5 1003.7 L200.0 1003.7 L200.5 1003.7 L201.0 1003.7 L201.5 1003.6 L202.0 1003.6 L202.5 1003.6 L203.0 1003.6 L203.5 1003.5 L204.0 1003.5 L204.5 1003.5 L205.0 1003.4 L205.5 1003.4 L206.0 1003.4 L206.5 1003.3 L207.0 1003.3 L207.5 1003.2 L208.0 1003.2 L208.5 1003.1 L209.0 1003.1 L209.5 1003.0 L210.0 1003.0 L210.5 1002.9 L211.0 1002.9 L211.5 1002.8 L212.0 1002.8 L212.5 1002.7 L213.0 1002.6 L213.5 1002.6 L214.0 1002.5 L214.5 1002.4 L215.0 1002.4 L215.5 1002.3 L216.0 1002.2 L216.5 1002.1 L217.0 1002.1 L217.5 1002.0 L218.0 1001.9 L218.5 1001.8 L219.0 1001.7 L219.5 1001.6 L220.0 1001.5 L220.5 1001.4 L221.0 1001.3 L221.5 1001.2 L222.0 1001.1 L222.5 1000.9 L223.0 1000.8 L223.5 1000.7 L224.0 1000.6 L224.5 1000.4 L225.0 1000.3 L225.5 1000.1 L226.0 1000.0 L226.5 999.8 L227.0 999.7 L227.5 999.5 L228.0 999.4 L228.5 999.2 L229.0 999.0 L229.5 998.8 L230.0 998.6 L230.5 998.5 L231.0 998.3 L231.5 998.1 L232.0 997.8 L232.5 997.6 L233.0 997.4 L233.5 997.2 L234.0 996.9 L234.5 996.7 L235.0 996.5 L235.5 996.2 L236.0 995.9 L236.5 995.7 L237.0 995.4 L237.5 995.1 L238.0 994.8 L238.5 994.5 L239.0 994.2 L239.5 993.9 L240.0 993.6 L240.5 993.3 L241.0 992.9 L241.5 992.6 L242.0 992.2 L242.5 991.9 L243.0 991.5 L243.5 991.1 L244.0 990.7 L244.5 990.3 L245.0 989.9 L245.5 989.5 L246.0 989.1 L246.5 988.6 L247.0 988.2 L247.5 987.7 L248.0 987.3 L248.5 986.8 L249.0 986.3 L249.5 985.8 L250.0 985.3 L250.5 984.8 L251.0 984.2 L251.5 983.7 L252.0 983.1 L252.5 982.6 L253.0 982.0 L253.5 981.4 L254.0 980.8 L254.5 980.2 L255.0 979.5 L255.5 978.9 L256.0 978.2 L256.5 977.6 L257.0 976.9 L257.5 976.2 L258.0 975.5 L258.5 974.8 L259.0 974.1 L259.5 973.3 L260.0 972.5 L260.5 971.8 L261.0 971.0 L261.5 970.2 L262.0 969.4 L262.5 968.6 L263.0 967.7 L263.5 966.9 L264.0 966.0 L264.5 965.1 L265.0 964.2 L265.5 963.3 L266.0 962.4 L266.5 961.5 L267.0 960.5 L267.5 959.5 L268.0 958.6 L268.5 957.6 L269.0 956.6 L269.5 955.5 L270.0 954.5 L270.5 953.5 L271.0 952.4 L271.5 951.3 L272.0 950.2 L272.5 949.1 L273.0 948.0 L273.5 946.9 L274.0 945.7 L274.5 944.6 L275.0 943.4 L275.5 942.2 L276.0 941.0 L276.5 939.8 L277.0 938.6 L277.5 937.3 L278.0 936.1 L278.5 934.8 L279.0 933.5 L279.5 932.2 L280.0 930.9 L280.5 929.6 L281.0 928.3 L281.5 927.0 L282.0 925.6 L282.5 924.3 L283.0 922.9 L283.5 921.5 L284.0 920.1 L284.5 918.7 L285.0 917.3 L285.5 915.9 L286.0 914.5 L286.5 913.0 L287.0 911.6 L287.5 910.1 L288.0 908.7 L288.5 907.2 L289.0 905.7 L289.5 904.3 L290.0 902.8 L290.5 901.3 L291.0 899.8 L291.5 898.3 L292.0 896.8 L292.5 895.2 L293.0 893.7 L293.5 892.2 L294.0 890.7 L294.5 889.1 L295.0 887.6 L295.5 886.1 L296.0 884.5 L296.5 883.0 L297.0 881.5 L297.5 879.9 L298.0 878.4 L298.5 876.9 L299.0 875.3 L299.5 873.8 L300.0 872.3 L300.5 870.8 L301.0 869.2 L301.5 867.7 L302.0 866.2 L302.5 864.7 L303.0 863.2 L303.5 861.7 L304.0 860.2 L304.5 858.7 L305.0 857.3 L305.5 855.8 L306.0 854.3 L306.5 852.9 L307.0 851.4 L307.5 850.0 L308.0 848.6 L308.5 847.2 L309.0 845.8 L309.5 844.4 L310.0 843.1 L310.5 841.7 L311.0 840.4 L311.5 839.0 L312.0 837.7 L312.5 836.4 L313.0 835.2 L313.5 833.9 L314.0 832.7 L314.5 831.4 L315.0 830.2 L315.5 829.0 L316.0 827.9 L316.5 826.7 L317.0 825.6 L317.5 824.5 L318.0 823.4 L318.5 822.3 L319.0 821.3 L319.5 820.3 L320.0 819.3 L320.5 818.3 L321.0 817.4 L321.5 816.4 L322.0 815.5 L322.5 814.7 L323.0 813.8 L323.5 813.0 L324.0 812.2 L324.5 811.5 L325.0 810.7 L325.5 810.0 L326.0 809.3 L326.5 808.7 L327.0 808.0 L327.5 807.4 L328.0 806.9 L328.5 806.3 L329.0 805.8 L329.5 805.3 L330.0 804.9 L330.5 804.5 L331.0 804.1 L331.5 803.7 L332.0 803.4 L332.5 803.1 L333.0 802.8 L333.5 802.6 L334.0 802.4 L334.5 802.2 L335.0 802.1 L335.5 801.9 L336.0 801.9 L336.5 801.8 L337.0 801.8 L337.5 801.8 L338.0 801.9 L338.5 801.9 L339.0 802.0 L339.5 802.1 L340.0 802.3 L340.5 802.5 L341.0 802.7 L341.5 802.9 L342.0 803.1 L342.5 803.4 L343.0 803.7 L343.5 804.0 L344.0 804.4 L344.5 804.8 L345.0 805.2 L345.5 805.6 L346.0 806.1 L346.5 806.6 L347.0 807.1 L347.5 807.6 L348.0 808.2 L348.5 808.8 L349.0 809.4 L349.5 810.0 L350.0 810.6 L350.5 811.3 L351.0 812.0 L351.5 812.7 L352.0 813.5 L352.5 814.3 L353.0 815.0 L353.5 815.9 L354.0 816.7 L354.5 817.5 L355.0 818.4 L355.5 819.3 L356.0 820.2 L356.5 821.2 L357.0 822.1 L357.5 823.1 L358.0 824.1 L358.5 825.1 L359.0 826.1 L359.5 827.2 L360.0 828.2 L360.5 829.3 L361.0 830.4 L361.5 831.5 L362.0 832.6 L362.5 833.8 L363.0 834.9 L363.5 836.1 L364.0 837.3 L364.5 838.5 L365.0 839.7 L365.5 840.9 L366.0 842.2 L366.5 843.4 L367.0 844.7 L367.5 845.9 L368.0 847.2 L368.5 848.5 L369.0 849.8 L369.5 851.1 L370.0 852.4 L370.5 853.8 L371.0 855.1 L371.5 856.4 L372.0 857.8 L372.5 859.2 L373.0 860.5 L373.5 861.9 L374.0 863.3 L374.5 864.6 L375.0 866.0 L375.5 867.4 L376.0 868.8 L376.5 870.2 L377.0 871.6 L377.5 873.0 L378.0 874.4 L378.5 875.8 L379.0 877.2 L379.5 878.7 L380.0 880.1 L380.5 881.5 L381.0 882.9 L381.5 884.3 L382.0 885.7 L382.5 887.1 L383.0 888.5 L383.5 889.9 L384.0 891.3 L384.5 892.7 L385.0 894.1 L385.5 895.5 L386.0 896.9 L386.5 898.3 L387.0 899.7 L387.5 901.1 L388.0 902.5 L388.5 903.8 L389.0 905.2 L389.5 906.5 L390.0 907.9 L390.5 909.2 L391.0 910.6 L391.5 911.9 L392.0 913.2 L392.5 914.6 L393.0 915.9 L393.5 917.2 L394.0 918.5 L394.5 919.8 L395.0 921.0 L395.5 922.3 L396.0 923.6 L396.5 924.8 L397.0 926.1 L397.5 927.3 L398.0 928.5 L398.5 929.8 L399.0 931.0 L399.5 932.2 L400.0 933.3 L400.5 934.5 L401.0 935.7 L401.5 936.8 L402.0 938.0 L402.5 939.1 L403.0 940.2 L403.5 941.4 L404.0 942.5 L404.5 943.5 L405.0 944.6 L405.5 945.7 L406.0 946.7 L406.5 947.8 L407.0 948.8 L407.5 949.8 L408.0 950.9 L408.5 951.8 L409.0 952.8 L409.5 953.8 L410.0 954.8 L410.5 955.7 L411.0 956.7 L411.5 957.6 L412.0 958.5 L412.5 959.4 L413.0 960.3 L413.5 961.2 L414.0 962.0 L414.5 962.9 L415.0 963.7 L415.5 964.6 L416.0 965.4 L416.5 966.2 L417.0 967.0 L417.5 967.8 L418.0 968.5 L418.5 969.3 L419.0 970.0 L419.5 970.8 L420.0 971.5 L420.5 972.2 L421.0 972.9 L421.5 973.6 L422.0 974.3 L422.5 975.0 L423.0 975.6 L423.5 976.3 L424.0 976.9 L424.5 977.5 L425.0 978.1 L425.5 978.7 L426.0 979.3 L426.5 979.9 L427.0 980.5 L427.5 981.0 L428.0 981.6 L428.5 982.1 L429.0 982.7 L429.5 983.2 L430.0 983.7 L430.5 984.2 L431.0 984.7 L431.5 985.2 L432.0 985.6 L432.5 986.1 L433.0 986.6 L433.5 987.0 L434.0 987.4 L434.5 987.9 L435.0 988.3 L435.5 988.7 L436.0 989.1 L436.5 989.5 L437.0 989.9 L437.5 990.3 L438.0 990.6 L438.5 991.0 L439.0 991.3 L439.5 991.7 L440.0 992.0 L440.5 992.4 L441.0 992.7 L441.5 993.0 L442.0 993.3 L442.5 993.6 L443.0 993.9 L443.5 994.2 L444.0 994.5 L444.5 994.7 L445.0 995.0 L445.5 995.3 L446.0 995.5 L446.5 995.8 L447.0 996.0 L447.5 996.3 L448.0 996.5 L448.5 996.7 L449.0 996.9 L449.5 997.2 L450.0 997.4 L450.5 997.6 L451.0 997.8 L451.5 998.0 L452.0 998.2 L452.5 998.3 L453.0 998.5 L453.5 998.7 L454.0 998.9 L454.5 999.0 L455.0 999.2 L455.5 999.3 L456.0 999.5 L456.5 999.6 L457.0 999.8 L457.5 999.9 L458.0 1000.1 L458.5 1000.2 L459.0 1000.3 L459.5 1000.5 L460.0 1000.6 L460.5 1000.7 L461.0 1000.8 L461.5 1000.9 L462.0 1001.0 L462.5 1001.1 L463.0 1001.2 L463.5 1001.3 L464.0 1001.4 L464.5 1001.5 L465.0 1001.6 L465.5 1001.7 L466.0 1001.8 L466.5 1001.9 L467.0 1002.0 L467.5 1002.1 L468.0 1002.1 L468.5 1002.2 L469.0 1002.3 L469.5 1002.3 L470.0 1002.4 L470.5 1002.5 L471.0 1002.5 L471.5 1002.6 L472.0 1002.7 L472.5 1002.7 L473.0 1002.8 L473.5 1002.8 L474.0 1002.9 L474.5 1002.9 L475.0 1003.0 L475.5 1003.0 L476.0 1003.1 L476.5 1003.1 L477.0 1003.2 L477.5 1003.2 L478.0 1003.2 L478.5 1003.3 L479.0 1003.3 L479.5 1003.4 L480.0 1003.4 L480.5 1003.4 L481.0 1003.5 L481.5 1003.5 L482.0 1003.5 L482.5 1003.5 L483.0 1003.6 L483.5 1003.6 L484.0 1003.6 L484.5 1003.7 L485.0 1003.7 L485.5 1003.7 L486.0 1003.7 L486.5 1003.7 L487.0 1003.8 L487.5 1003.8 L488.0 1003.8 L488.5 1003.8 L489.0 1003.8 L489.5 1003.9 L490.0 1003.9 L490.5 1003.9 L491.0 1003.9 L491.5 1003.9 L492.0 1003.9 L492.5 1004.0 L493.0 1004.0 L493.5 1004.0 L494.0 1004.0 L494.5 1004.0 L495.0 1004.0 L495.5 1004.0 L496.0 1004.0 L496.5 1004.1 L497.0 1004.1 L497.5 1004.1 L498.0 1004.1 L498.5 1004.1 L499.0 1004.1 L499.5 1004.1 L500.0 1004.1 L500.5 1004.1 L501.0 1004.1 L501.5 1004.1 L502.0 1004.1 L502.5 1004.2 L503.0 1004.2 L503.5 1004.2 L504.0 1004.2 L504.5 1004.2 L505.0 1004.2 L505.5 1004.2 L506.0 1004.2 L506.5 1004.2 L507.0 1004.2 L507.5 1004.2 L508.0 1004.2 L508.5 1004.2 L509.0 1004.2 L509.5 1004.2 L510.0 1004.2 L510.5 1004.2 L511.0 1004.2 L511.5 1004.2 L512.0 1004.2 L512.5 1004.2 L513.0 1004.2 L513.5 1004.2 L514.0 1004.2 L514.5 1004.3 L537.5 1004.3" fill="none" stroke="#000" stroke-width="2.35" stroke-linejoin="round" stroke-linecap="round"/>
<path d="M40.5 1003.7 L41.7 1003.7 L43.4 1003.7 L45.3 1003.7 L47.1 1003.2 L48.9 1002.1 L50.7 1000.6 L52.5 999.2 L54.1 998.7 L55.5 999.4 L56.7 1001.0 L57.8 1002.7 L59.0 1003.7 L60.2 1003.7 L61.5 1003.7 L62.7 1003.7 L63.9 1003.7 L65.0 1003.4 L66.0 1002.1 L67.1 1000.7 L68.1 999.7 L69.1 999.1 L70.1 998.6 L71.1 998.4 L72.2 998.3 L73.5 998.6 L74.9 999.1 L76.3 999.6 L77.8 999.7 L79.3 999.0 L80.8 997.9 L82.4 996.8 L84.1 996.5 L85.9 997.4 L87.9 999.1 L89.8 1000.8 L91.7 1001.8 L93.5 1001.8 L95.3 1001.3 L97.0 1000.5 L98.7 999.7 L100.4 998.7 L102.0 997.4 L103.5 996.4 L105.0 996.0 L106.3 996.8 L107.5 998.4 L108.7 1000.0 L109.9 1000.7 L111.2 1000.1 L112.5 998.7 L113.9 997.1 L115.4 996.0 L117.0 995.5 L118.7 995.2 L120.5 995.0 L122.4 994.8 L124.4 994.6 L126.5 994.4 L128.7 994.1 L130.8 993.4 L132.9 992.1 L135.0 990.4 L137.0 988.7 L139.1 987.2 L141.2 986.1 L143.4 985.2 L145.5 984.5 L147.5 984.0 L149.4 983.8 L151.3 983.9 L153.0 984.0 L154.5 983.7 L155.7 983.0 L156.7 982.1 L157.6 980.9 L158.6 979.5 L159.6 977.7 L160.5 975.7 L161.5 973.6 L162.7 972.0 L164.3 971.0 L166.1 970.5 L168.0 970.0 L169.7 969.2 L171.2 967.9 L172.6 966.2 L173.9 964.7 L175.3 963.6 L176.7 963.4 L178.1 963.7 L179.5 964.0 L180.8 963.6 L181.9 962.4 L182.8 960.7 L183.8 958.7 L185.0 956.7 L186.6 954.6 L188.4 952.3 L190.3 950.1 L192.0 948.3 L193.6 947.0 L195.1 946.1 L196.4 945.2 L197.6 944.1 L198.4 942.5 L198.9 940.7 L199.4 938.8 L200.3 937.1 L201.8 935.7 L203.8 934.5 L205.7 933.2 L207.3 931.6 L208.3 929.5 L209.0 927.1 L209.5 924.5 L210.1 921.8 L210.8 918.7 L211.4 915.3 L212.1 912.1 L212.9 909.3 L213.8 907.2 L214.8 905.5 L215.9 904.1 L217.1 903.0 L218.4 902.3 L219.8 902.0 L221.3 901.6 L222.6 900.9 L223.8 899.8 L224.9 898.5 L225.9 896.8 L226.8 894.5 L227.6 891.2 L228.3 887.0 L228.9 883.0 L229.5 880.0 L230.0 878.6 L230.3 878.3 L230.8 878.1 L231.7 876.8 L233.1 874.2 L234.8 870.9 L236.7 867.2 L238.5 863.2 L240.3 858.7 L242.1 853.7 L243.9 848.8 L245.5 844.8 L246.9 841.8 L248.1 839.3 L249.2 837.5 L250.4 836.0 L251.6 835.3 L252.9 835.3 L254.1 835.3 L255.2 834.5 L256.1 832.6 L256.8 830.1 L257.5 827.5 L258.2 825.2 L258.9 823.4 L259.7 821.9 L260.4 820.6 L261.1 819.4 L261.8 818.6 L262.5 818.2 L263.3 817.6 L264.0 816.5 L264.7 814.4 L265.5 811.7 L266.3 809.0 L267.0 806.7 L267.7 805.1 L268.3 803.9 L269.0 802.8 L269.9 801.8 L271.2 800.7 L272.7 799.7 L274.3 798.7 L275.7 797.9 L276.9 797.2 L278.1 796.7 L279.2 796.2 L280.1 795.5 L280.8 794.6 L281.4 793.5 L282.0 792.3 L282.6 791.1 L283.3 789.8 L284.0 788.5 L284.8 787.2 L285.5 786.2 L286.2 785.5 L286.9 785.0 L287.6 784.7 L288.4 784.8 L289.3 785.6 L290.3 786.9 L291.4 788.2 L292.3 788.7 L293.1 788.2 L293.8 787.0 L294.5 785.6 L295.2 784.3 L295.9 783.1 L296.7 781.9 L297.4 780.8 L298.2 779.9 L299.0 779.2 L299.9 778.8 L300.7 778.5 L301.6 778.4 L302.4 778.7 L303.3 779.4 L304.1 780.0 L305.0 780.2 L305.9 779.7 L306.9 778.8 L307.9 777.9 L308.9 777.4 L309.9 777.4 L310.8 777.6 L311.8 778.1 L312.8 778.9 L313.9 780.2 L315.1 781.9 L316.2 783.4 L317.2 784.3 L317.9 784.3 L318.5 783.7 L319.1 782.7 L319.6 781.3 L320.1 779.1 L320.5 776.2 L321.0 773.5 L321.6 771.6 L322.5 771.1 L323.6 771.4 L324.6 771.9 L325.5 772.1 L326.1 771.8 L326.5 771.2 L326.9 770.7 L327.4 770.1 L328.1 769.5 L328.9 768.9 L329.7 768.4 L330.4 768.2 L330.9 768.4 L331.4 768.9 L331.8 769.7 L332.3 770.6 L332.9 771.9 L333.6 773.4 L334.4 775.0 L335.2 776.5 L336.1 777.7 L337.1 778.9 L338.1 779.9 L339.1 780.9 L340.1 781.7 L341.1 782.3 L342.1 782.9 L343.0 783.8 L343.8 785.1 L344.4 786.8 L345.1 788.4 L346.0 789.6 L347.2 790.2 L348.5 790.5 L349.8 790.7 L350.9 791.1 L351.6 791.4 L352.0 791.7 L352.3 792.3 L352.8 794.0 L353.4 797.1 L354.1 801.2 L354.9 805.7 L355.7 809.6 L356.6 812.7 L357.5 815.4 L358.5 818.1 L359.6 821.3 L360.8 825.3 L362.2 829.9 L363.4 834.3 L364.5 837.9 L365.1 839.9 L365.4 840.8 L365.8 842.0 L366.6 844.9 L368.1 850.3 L370.1 857.4 L372.2 864.8 L373.9 871.2 L375.2 876.2 L376.3 880.6 L377.3 884.6 L378.3 888.8 L379.4 893.1 L380.5 897.3 L381.7 901.6 L382.7 906.3 L383.7 911.8 L384.6 917.8 L385.5 923.6 L386.3 928.3 L386.9 931.4 L387.3 933.3 L387.7 935.0 L388.5 937.1 L389.7 939.8 L391.2 942.7 L392.8 945.7 L394.4 948.8 L395.9 952.0 L397.3 955.2 L398.7 958.6 L400.2 962.0 L401.7 965.6 L403.1 969.3 L404.6 973.0 L406.1 976.6 L407.7 980.3 L409.3 984.0 L410.8 987.3 L412.0 989.8 L412.8 991.3 L413.2 992.0 L413.6 992.1 L414.2 992.0 L415.0 991.3 L415.9 990.1 L416.8 988.8 L417.8 988.3 L418.8 988.7 L419.9 989.7 L421.0 990.9 L422.2 992.0 L423.6 993.0 L425.2 994.0 L426.8 995.0 L428.1 995.6 L429.0 995.7 L429.6 995.4 L430.2 995.2 L431.0 995.6 L432.0 997.1 L433.0 999.3 L434.2 1001.4 L435.4 1003.0 L436.8 1003.7 L438.3 1003.7 L439.8 1003.7 L441.2 1003.7 L442.4 1003.2 L443.5 1002.4 L444.5 1001.5 L445.6 1000.7 L446.7 1000.1 L447.8 999.5 L448.9 998.9 L450.0 998.5 L451.1 998.2 L452.2 997.9 L453.3 997.7 L454.4 997.8 L455.5 998.1 L456.6 998.7 L457.7 999.3 L458.8 1000.0 L459.9 1000.8 L461.0 1001.8 L462.1 1002.6 L463.2 1003.0 L464.2 1002.9 L465.2 1002.3 L466.1 1001.6 L467.0 1001.0 L467.8 1000.3 L468.6 999.4 L469.5 998.7 L470.5 998.6 L471.7 999.3 L472.9 1000.6 L474.4 1002.0 L476.3 1003.0 L478.7 1003.3 L481.5 1003.4 L484.6 1003.2 L488.0 1003.2 L492.2 1003.3 L496.9 1003.4 L501.5 1003.4 L505.0 1003.4 L507.1 1003.3 L508.4 1003.0 L509.2 1002.8 L510.0 1002.5 L510.9 1002.1 L511.6 1001.6 L512.2 1001.3 L512.9 1001.2 L513.6 1001.6 L514.3 1002.4 L515.1 1003.2 L515.9 1003.7 L516.8 1003.7 L517.8 1003.7 L518.9 1003.7 L520.0 1003.5 L521.1 1003.2 L522.3 1002.7 L523.5 1002.4 L524.6 1002.2 L525.6 1002.4 L526.6 1002.9 L527.6 1003.4 L529.0 1003.7 L531.0 1003.7 L533.5 1003.7 L535.9 1003.7 L537.5 1003.7" fill="none" stroke="#000" stroke-width="2.30" stroke-linejoin="round" stroke-linecap="round"/>
<rect x="737.30" y="724.50" width="467.30" height="285.90" fill="none" stroke="#000" stroke-width="2.40"/>
<line x1="815.18" y1="1010.40" x2="815.18" y2="1001.90" stroke="#000" stroke-width="2.00"/>
<line x1="1009.89" y1="1010.40" x2="1009.89" y2="1001.90" stroke="#000" stroke-width="2.00"/>
<line x1="1204.60" y1="938.92" x2="1195.10" y2="938.92" stroke="#000" stroke-width="2.00"/>
<line x1="1204.60" y1="867.45" x2="1195.10" y2="867.45" stroke="#000" stroke-width="2.00"/>
<line x1="1204.60" y1="795.98" x2="1195.10" y2="795.98" stroke="#000" stroke-width="2.00"/>
<text x="1230.13" y="730.20" font-family='"Liberation Sans", sans-serif' font-size="20.14" textLength="56.26" lengthAdjust="spacingAndGlyphs" fill="#1a1a1a">2000</text>
<text x="1229.45" y="801.68" font-family='"Liberation Sans", sans-serif' font-size="20.14" textLength="56.95" lengthAdjust="spacingAndGlyphs" fill="#1a1a1a">1500</text>
<text x="1229.45" y="873.15" font-family='"Liberation Sans", sans-serif' font-size="20.14" textLength="56.95" lengthAdjust="spacingAndGlyphs" fill="#1a1a1a">1000</text>
<text x="1230.38" y="944.62" font-family='"Liberation Sans", sans-serif' font-size="20.14" textLength="42.31" lengthAdjust="spacingAndGlyphs" fill="#1a1a1a">500</text>
<text x="1230.46" y="1016.10" font-family='"Liberation Sans", sans-serif' font-size="20.14" textLength="13.38" lengthAdjust="spacingAndGlyphs" fill="#1a1a1a">0</text>
<text x="793.10" y="1047.00" font-family='"Liberation Sans", sans-serif' font-size="20.14" textLength="43.91" lengthAdjust="spacingAndGlyphs" fill="#1a1a1a">533</text>
<text x="987.80" y="1047.00" font-family='"Liberation Sans", sans-serif' font-size="20.14" textLength="43.90" lengthAdjust="spacingAndGlyphs" fill="#1a1a1a">528</text>
<text x="1181.50" y="1047.00" font-family='"Liberation Sans", sans-serif' font-size="20.14" textLength="43.91" lengthAdjust="spacingAndGlyphs" fill="#1a1a1a">523</text>
<text x="874.70" y="1076.20" font-family='"Liberation Serif", serif' font-size="26.26" textLength="256.28" lengthAdjust="spacingAndGlyphs" fill="#1a1a1a">Binding Energy(eV)</text>
<text transform="translate(1311.30 938.54) rotate(-90)" x="0" y="0" font-family='"Liberation Serif", serif' font-size="30.84" textLength="143.19" lengthAdjust="spacingAndGlyphs" fill="#1a1a1a">Intensity(cps)</text>
<text x="740.16" y="704.30" font-family='"Liberation Serif", serif' font-size="30.69" textLength="143.01" lengthAdjust="spacingAndGlyphs" fill="#111">O1s Scan</text>
<path d="M961.30 1133.30 Q942.10 1147.90 961.30 1162.50 L962.10 1162.50 Q945.30 1147.90 962.10 1133.30 Z" fill="#000"/>
<text x="966.36" y="1161.00" font-family='"Liberation Serif", serif' font-size="33.67" textLength="22.69" lengthAdjust="spacingAndGlyphs" fill="#000">d</text>
<path d="M994.00 1133.30 Q1013.20 1147.90 994.00 1162.50 L993.20 1162.50 Q1010.00 1147.90 993.20 1133.30 Z" fill="#000"/>
<text x="778.00" y="800.80" font-family='"Liberation Sans", sans-serif' font-size="23.69" textLength="148.33" lengthAdjust="spacingAndGlyphs" fill="#111">O1s 529eV</text>
<text x="1054.91" y="922.40" font-family='"Liberation Sans", sans-serif' font-size="24.13" textLength="147.32" lengthAdjust="spacingAndGlyphs" fill="#111">O1s 526eV</text>
<line x1="871.30" y1="811.10" x2="960.70" y2="808.00" stroke="#444" stroke-width="1.25"/>
<line x1="1054.80" y1="930.00" x2="1147.30" y2="926.20" stroke="#444" stroke-width="1.25"/>
<path d="M738.3 1010.4 L771.8 1010.4 L772.3 1010.3 L772.8 1010.3 L773.3 1010.3 L773.8 1010.3 L774.3 1010.3 L774.8 1010.3 L775.3 1010.3 L775.8 1010.3 L776.3 1010.3 L776.8 1010.3 L777.3 1010.3 L777.8 1010.3 L778.3 1010.3 L778.8 1010.3 L779.3 1010.3 L779.8 1010.3 L780.3 1010.3 L780.8 1010.3 L781.3 1010.3 L781.8 1010.3 L782.3 1010.3 L782.8 1010.3 L783.3 1010.3 L783.8 1010.3 L784.3 1010.3 L784.8 1010.3 L785.3 1010.3 L785.8 1010.2 L786.3 1010.2 L786.8 1010.2 L787.3 1010.2 L787.8 1010.2 L788.3 1010.2 L788.8 1010.2 L789.3 1010.2 L789.8 1010.2 L790.3 1010.2 L790.8 1010.2 L791.3 1010.2 L791.8 1010.2 L792.3 1010.1 L792.8 1010.1 L793.3 1010.1 L793.8 1010.1 L794.3 1010.1 L794.8 1010.1 L795.3 1010.1 L795.8 1010.1 L796.3 1010.1 L796.8 1010.0 L797.3 1010.0 L797.8 1010.0 L798.3 1010.0 L798.8 1010.0 L799.3 1010.0 L799.8 1010.0 L800.3 1009.9 L800.8 1009.9 L801.3 1009.9 L801.8 1009.9 L802.3 1009.9 L802.8 1009.8 L803.3 1009.8 L803.8 1009.8 L804.3 1009.8 L804.8 1009.8 L805.3 1009.7 L805.8 1009.7 L806.3 1009.7 L806.8 1009.7 L807.3 1009.6 L807.8 1009.6 L808.3 1009.6 L808.8 1009.6 L809.3 1009.5 L809.8 1009.5 L810.3 1009.5 L810.8 1009.4 L811.3 1009.4 L811.8 1009.4 L812.3 1009.3 L812.8 1009.3 L813.3 1009.3 L813.8 1009.2 L814.3 1009.2 L814.8 1009.1 L815.3 1009.1 L815.8 1009.0 L816.3 1009.0 L816.8 1009.0 L817.3 1008.9 L817.8 1008.9 L818.3 1008.8 L818.8 1008.8 L819.3 1008.7 L819.8 1008.6 L820.3 1008.6 L820.8 1008.5 L821.3 1008.5 L821.8 1008.4 L822.3 1008.3 L822.8 1008.3 L823.3 1008.2 L823.8 1008.1 L824.3 1008.1 L824.8 1008.0 L825.3 1007.9 L825.8 1007.8 L826.3 1007.8 L826.8 1007.7 L827.3 1007.6 L827.8 1007.5 L828.3 1007.4 L828.8 1007.3 L829.3 1007.2 L829.8 1007.1 L830.3 1007.0 L830.8 1006.9 L831.3 1006.8 L831.8 1006.7 L832.3 1006.6 L832.8 1006.5 L833.3 1006.4 L833.8 1006.3 L834.3 1006.1 L834.8 1006.0 L835.3 1005.9 L835.8 1005.7 L836.3 1005.6 L836.8 1005.5 L837.3 1005.3 L837.8 1005.2 L838.3 1005.0 L838.8 1004.9 L839.3 1004.7 L839.8 1004.6 L840.3 1004.4 L840.8 1004.2 L841.3 1004.1 L841.8 1003.9 L842.3 1003.7 L842.8 1003.5 L843.3 1003.3 L843.8 1003.1 L844.3 1002.9 L844.8 1002.7 L845.3 1002.5 L845.8 1002.3 L846.3 1002.1 L846.8 1001.9 L847.3 1001.7 L847.8 1001.4 L848.3 1001.2 L848.8 1001.0 L849.3 1000.7 L849.8 1000.5 L850.3 1000.2 L850.8 999.9 L851.3 999.7 L851.8 999.4 L852.3 999.1 L852.8 998.8 L853.3 998.5 L853.8 998.2 L854.3 997.9 L854.8 997.6 L855.3 997.3 L855.8 997.0 L856.3 996.7 L856.8 996.3 L857.3 996.0 L857.8 995.6 L858.3 995.3 L858.8 994.9 L859.3 994.5 L859.8 994.2 L860.3 993.8 L860.8 993.4 L861.3 993.0 L861.8 992.6 L862.3 992.2 L862.8 991.7 L863.3 991.3 L863.8 990.9 L864.3 990.4 L864.8 990.0 L865.3 989.5 L865.8 989.1 L866.3 988.6 L866.8 988.1 L867.3 987.6 L867.8 987.1 L868.3 986.6 L868.8 986.1 L869.3 985.5 L869.8 985.0 L870.3 984.5 L870.8 983.9 L871.3 983.3 L871.8 982.8 L872.3 982.2 L872.8 981.6 L873.3 981.0 L873.8 980.4 L874.3 979.8 L874.8 979.2 L875.3 978.5 L875.8 977.9 L876.3 977.2 L876.8 976.6 L877.3 975.9 L877.8 975.2 L878.3 974.5 L878.8 973.8 L879.3 973.1 L879.8 972.4 L880.3 971.7 L880.8 970.9 L881.3 970.2 L881.8 969.4 L882.3 968.6 L882.8 967.8 L883.3 967.1 L883.8 966.3 L884.3 965.5 L884.8 964.6 L885.3 963.8 L885.8 963.0 L886.3 962.1 L886.8 961.3 L887.3 960.4 L887.8 959.5 L888.3 958.6 L888.8 957.7 L889.3 956.8 L889.8 955.9 L890.3 955.0 L890.8 954.0 L891.3 953.1 L891.8 952.1 L892.3 951.2 L892.8 950.2 L893.3 949.2 L893.8 948.2 L894.3 947.2 L894.8 946.2 L895.3 945.2 L895.8 944.1 L896.3 943.1 L896.8 942.0 L897.3 941.0 L897.8 939.9 L898.3 938.9 L898.8 937.8 L899.3 936.7 L899.8 935.6 L900.3 934.5 L900.8 933.4 L901.3 932.2 L901.8 931.1 L902.3 930.0 L902.8 928.8 L903.3 927.7 L903.8 926.5 L904.3 925.3 L904.8 924.1 L905.3 923.0 L905.8 921.8 L906.3 920.6 L906.8 919.4 L907.3 918.2 L907.8 917.0 L908.3 915.7 L908.8 914.5 L909.3 913.3 L909.8 912.0 L910.3 910.8 L910.8 909.6 L911.3 908.3 L911.8 907.1 L912.3 905.8 L912.8 904.5 L913.3 903.3 L913.8 902.0 L914.3 900.7 L914.8 899.5 L915.3 898.2 L915.8 896.9 L916.3 895.6 L916.8 894.3 L917.3 893.0 L917.8 891.8 L918.3 890.5 L918.8 889.2 L919.3 887.9 L919.8 886.6 L920.3 885.3 L920.8 884.0 L921.3 882.7 L921.8 881.5 L922.3 880.2 L922.8 878.9 L923.3 877.6 L923.8 876.3 L924.3 875.0 L924.8 873.8 L925.3 872.5 L925.8 871.2 L926.3 869.9 L926.8 868.7 L927.3 867.4 L927.8 866.2 L928.3 864.9 L928.8 863.7 L929.3 862.4 L929.8 861.2 L930.3 860.0 L930.8 858.8 L931.3 857.5 L931.8 856.3 L932.3 855.1 L932.8 853.9 L933.3 852.8 L933.8 851.6 L934.3 850.4 L934.8 849.3 L935.3 848.1 L935.8 847.0 L936.3 845.8 L936.8 844.7 L937.3 843.6 L937.8 842.5 L938.3 841.4 L938.8 840.3 L939.3 839.3 L939.8 838.2 L940.3 837.2 L940.8 836.2 L941.3 835.2 L941.8 834.1 L942.3 833.2 L942.8 832.2 L943.3 831.2 L943.8 830.3 L944.3 829.4 L944.8 828.4 L945.3 827.5 L945.8 826.7 L946.3 825.8 L946.8 824.9 L947.3 824.1 L947.8 823.3 L948.3 822.5 L948.8 821.7 L949.3 820.9 L949.8 820.2 L950.3 819.4 L950.8 818.7 L951.3 818.0 L951.8 817.3 L952.3 816.7 L952.8 816.0 L953.3 815.4 L953.8 814.8 L954.3 814.2 L954.8 813.6 L955.3 813.1 L955.8 812.6 L956.3 812.1 L956.8 811.6 L957.3 811.1 L957.8 810.7 L958.3 810.3 L958.8 809.9 L959.3 809.5 L959.8 809.1 L960.3 808.8 L960.8 808.5 L961.3 808.2 L961.8 807.9 L962.3 807.6 L962.8 807.4 L963.3 807.2 L963.8 807.0 L964.3 806.8 L964.8 806.7 L965.3 806.6 L965.8 806.5 L966.3 806.4 L966.8 806.3 L967.3 806.3 L967.8 806.3 L968.3 806.3 L968.8 806.3 L969.3 806.4 L969.8 806.5 L970.3 806.6 L970.8 806.7 L971.3 806.8 L971.8 807.0 L972.3 807.2 L972.8 807.4 L973.3 807.6 L973.8 807.8 L974.3 808.1 L974.8 808.4 L975.3 808.7 L975.8 809.0 L976.3 809.3 L976.8 809.7 L977.3 810.1 L977.8 810.5 L978.3 810.9 L978.8 811.4 L979.3 811.8 L979.8 812.3 L980.3 812.8 L980.8 813.4 L981.3 813.9 L981.8 814.5 L982.3 815.0 L982.8 815.6 L983.3 816.3 L983.8 816.9 L984.3 817.5 L984.8 818.2 L985.3 818.9 L985.8 819.6 L986.3 820.3 L986.8 821.1 L987.3 821.8 L987.8 822.6 L988.3 823.4 L988.8 824.2 L989.3 825.0 L989.8 825.9 L990.3 826.7 L990.8 827.6 L991.3 828.5 L991.8 829.4 L992.3 830.3 L992.8 831.2 L993.3 832.1 L993.8 833.1 L994.3 834.1 L994.8 835.0 L995.3 836.0 L995.8 837.0 L996.3 838.1 L996.8 839.1 L997.3 840.1 L997.8 841.2 L998.3 842.2 L998.8 843.3 L999.3 844.4 L999.8 845.5 L1000.3 846.6 L1000.8 847.7 L1001.3 848.8 L1001.8 850.0 L1002.3 851.1 L1002.8 852.3 L1003.3 853.4 L1003.8 854.6 L1004.3 855.7 L1004.8 856.9 L1005.3 858.1 L1005.8 859.3 L1006.3 860.5 L1006.8 861.7 L1007.3 862.9 L1007.8 864.1 L1008.3 865.4 L1008.8 866.6 L1009.3 867.8 L1009.8 869.0 L1010.3 870.3 L1010.8 871.5 L1011.3 872.8 L1011.8 874.0 L1012.3 875.3 L1012.8 876.5 L1013.3 877.8 L1013.8 879.0 L1014.3 880.3 L1014.8 881.6 L1015.3 882.8 L1015.8 884.1 L1016.3 885.3 L1016.8 886.6 L1017.3 887.9 L1017.8 889.1 L1018.3 890.4 L1018.8 891.7 L1019.3 892.9 L1019.8 894.2 L1020.3 895.4 L1020.8 896.7 L1021.3 897.9 L1021.8 899.2 L1022.3 900.4 L1022.8 901.7 L1023.3 902.9 L1023.8 904.2 L1024.3 905.4 L1024.8 906.6 L1025.3 907.9 L1025.8 909.1 L1026.3 910.3 L1026.8 911.5 L1027.3 912.8 L1027.8 914.0 L1028.3 915.2 L1028.8 916.4 L1029.3 917.6 L1029.8 918.7 L1030.3 919.9 L1030.8 921.1 L1031.3 922.3 L1031.8 923.4 L1032.3 924.6 L1032.8 925.7 L1033.3 926.9 L1033.8 928.0 L1034.3 929.1 L1034.8 930.3 L1035.3 931.4 L1035.8 932.5 L1036.3 933.6 L1036.8 934.7 L1037.3 935.8 L1037.8 936.8 L1038.3 937.9 L1038.8 939.0 L1039.3 940.0 L1039.8 941.1 L1040.3 942.1 L1040.8 943.1 L1041.3 944.1 L1041.8 945.1 L1042.3 946.1 L1042.8 947.1 L1043.3 948.1 L1043.8 949.1 L1044.3 950.1 L1044.8 951.0 L1045.3 952.0 L1045.8 952.9 L1046.3 953.8 L1046.8 954.8 L1047.3 955.7 L1047.8 956.6 L1048.3 957.5 L1048.8 958.3 L1049.3 959.2 L1049.8 960.1 L1050.3 960.9 L1050.8 961.8 L1051.3 962.6 L1051.8 963.4 L1052.3 964.3 L1052.8 965.1 L1053.3 965.9 L1053.8 966.7 L1054.3 967.4 L1054.8 968.2 L1055.3 969.0 L1055.8 969.7 L1056.3 970.5 L1056.8 971.2 L1057.3 971.9 L1057.8 972.6 L1058.3 973.3 L1058.8 974.0 L1059.3 974.7 L1059.8 975.4 L1060.3 976.0 L1060.8 976.7 L1061.3 977.3 L1061.8 978.0 L1062.3 978.6 L1062.8 979.2 L1063.3 979.9 L1063.8 980.5 L1064.3 981.0 L1064.8 981.6 L1065.3 982.2 L1065.8 982.8 L1066.3 983.3 L1066.8 983.9 L1067.3 984.4 L1067.8 985.0 L1068.3 985.5 L1068.8 986.0 L1069.3 986.5 L1069.8 987.0 L1070.3 987.5 L1070.8 988.0 L1071.3 988.5 L1071.8 988.9 L1072.3 989.4 L1072.8 989.9 L1073.3 990.3 L1073.8 990.7 L1074.3 991.2 L1074.8 991.6 L1075.3 992.0 L1075.8 992.4 L1076.3 992.8 L1076.8 993.2 L1077.3 993.6 L1077.8 994.0 L1078.3 994.3 L1078.8 994.7 L1079.3 995.1 L1079.8 995.4 L1080.3 995.8 L1080.8 996.1 L1081.3 996.4 L1081.8 996.8 L1082.3 997.1 L1082.8 997.4 L1083.3 997.7 L1083.8 998.0 L1084.3 998.3 L1084.8 998.6 L1085.3 998.9 L1085.8 999.2 L1086.3 999.4 L1086.8 999.7 L1087.3 1000.0 L1087.8 1000.2 L1088.3 1000.5 L1088.8 1000.7 L1089.3 1001.0 L1089.8 1001.2 L1090.3 1001.4 L1090.8 1001.7 L1091.3 1001.9 L1091.8 1002.1 L1092.3 1002.3 L1092.8 1002.5 L1093.3 1002.7 L1093.8 1002.9 L1094.3 1003.1 L1094.8 1003.3 L1095.3 1003.5 L1095.8 1003.7 L1096.3 1003.8 L1096.8 1004.0 L1097.3 1004.2 L1097.8 1004.4 L1098.3 1004.5 L1098.8 1004.7 L1099.3 1004.8 L1099.8 1005.0 L1100.3 1005.1 L1100.8 1005.3 L1101.3 1005.4 L1101.8 1005.5 L1102.3 1005.7 L1102.8 1005.8 L1103.3 1005.9 L1103.8 1006.1 L1104.3 1006.2 L1104.8 1006.3 L1105.3 1006.4 L1105.8 1006.5 L1106.3 1006.6 L1106.8 1006.7 L1107.3 1006.9 L1107.8 1007.0 L1108.3 1007.1 L1108.8 1007.2 L1109.3 1007.2 L1109.8 1007.3 L1110.3 1007.4 L1110.8 1007.5 L1111.3 1007.6 L1111.8 1007.7 L1112.3 1007.8 L1112.8 1007.8 L1113.3 1007.9 L1113.8 1008.0 L1114.3 1008.1 L1114.8 1008.1 L1115.3 1008.2 L1115.8 1008.3 L1116.3 1008.3 L1116.8 1008.4 L1117.3 1008.5 L1117.8 1008.5 L1118.3 1008.6 L1118.8 1008.6 L1119.3 1008.7 L1119.8 1008.7 L1120.3 1008.8 L1120.8 1008.8 L1121.3 1008.9 L1121.8 1008.9 L1122.3 1009.0 L1122.8 1009.0 L1123.3 1009.1 L1123.8 1009.1 L1124.3 1009.2 L1124.8 1009.2 L1125.3 1009.2 L1125.8 1009.3 L1126.3 1009.3 L1126.8 1009.3 L1127.3 1009.4 L1127.8 1009.4 L1128.3 1009.4 L1128.8 1009.5 L1129.3 1009.5 L1129.8 1009.5 L1130.3 1009.6 L1130.8 1009.6 L1131.3 1009.6 L1131.8 1009.6 L1132.3 1009.7 L1132.8 1009.7 L1133.3 1009.7 L1133.8 1009.7 L1134.3 1009.8 L1134.8 1009.8 L1135.3 1009.8 L1135.8 1009.8 L1136.3 1009.8 L1136.8 1009.9 L1137.3 1009.9 L1137.8 1009.9 L1138.3 1009.9 L1138.8 1009.9 L1139.3 1010.0 L1139.8 1010.0 L1140.3 1010.0 L1140.8 1010.0 L1141.3 1010.0 L1141.8 1010.0 L1142.3 1010.0 L1142.8 1010.1 L1143.3 1010.1 L1143.8 1010.1 L1144.3 1010.1 L1144.8 1010.1 L1145.3 1010.1 L1145.8 1010.1 L1146.3 1010.1 L1146.8 1010.1 L1147.3 1010.2 L1147.8 1010.2 L1148.3 1010.2 L1148.8 1010.2 L1149.3 1010.2 L1149.8 1010.2 L1150.3 1010.2 L1150.8 1010.2 L1151.3 1010.2 L1151.8 1010.2 L1152.3 1010.2 L1152.8 1010.2 L1153.3 1010.2 L1153.8 1010.2 L1154.3 1010.3 L1154.8 1010.3 L1155.3 1010.3 L1155.8 1010.3 L1156.3 1010.3 L1156.8 1010.3 L1157.3 1010.3 L1157.8 1010.3 L1158.3 1010.3 L1158.8 1010.3 L1159.3 1010.3 L1159.8 1010.3 L1160.3 1010.3 L1160.8 1010.3 L1161.3 1010.3 L1161.8 1010.3 L1162.3 1010.3 L1162.8 1010.3 L1163.3 1010.3 L1163.8 1010.3 L1164.3 1010.3 L1164.8 1010.3 L1165.3 1010.3 L1165.8 1010.3 L1166.3 1010.3 L1166.8 1010.3 L1167.3 1010.3 L1167.8 1010.4 L1203.3 1010.4" fill="none" stroke="#000" stroke-width="2.35" stroke-linejoin="round" stroke-linecap="round"/>
<path d="M738.3 1010.4 L886.3 1010.4 L886.8 1010.3 L887.3 1010.3 L887.8 1010.3 L888.3 1010.3 L888.8 1010.3 L889.3 1010.3 L889.8 1010.3 L890.3 1010.3 L890.8 1010.3 L891.3 1010.3 L891.8 1010.3 L892.3 1010.3 L892.8 1010.3 L893.3 1010.3 L893.8 1010.3 L894.3 1010.3 L894.8 1010.3 L895.3 1010.3 L895.8 1010.3 L896.3 1010.3 L896.8 1010.3 L897.3 1010.3 L897.8 1010.3 L898.3 1010.3 L898.8 1010.3 L899.3 1010.2 L899.8 1010.2 L900.3 1010.2 L900.8 1010.2 L901.3 1010.2 L901.8 1010.2 L902.3 1010.2 L902.8 1010.2 L903.3 1010.2 L903.8 1010.2 L904.3 1010.2 L904.8 1010.2 L905.3 1010.1 L905.8 1010.1 L906.3 1010.1 L906.8 1010.1 L907.3 1010.1 L907.8 1010.1 L908.3 1010.1 L908.8 1010.1 L909.3 1010.0 L909.8 1010.0 L910.3 1010.0 L910.8 1010.0 L911.3 1010.0 L911.8 1010.0 L912.3 1010.0 L912.8 1009.9 L913.3 1009.9 L913.8 1009.9 L914.3 1009.9 L914.8 1009.9 L915.3 1009.8 L915.8 1009.8 L916.3 1009.8 L916.8 1009.8 L917.3 1009.7 L917.8 1009.7 L918.3 1009.7 L918.8 1009.7 L919.3 1009.6 L919.8 1009.6 L920.3 1009.6 L920.8 1009.6 L921.3 1009.5 L921.8 1009.5 L922.3 1009.5 L922.8 1009.4 L923.3 1009.4 L923.8 1009.4 L924.3 1009.3 L924.8 1009.3 L925.3 1009.2 L925.8 1009.2 L926.3 1009.2 L926.8 1009.1 L927.3 1009.1 L927.8 1009.0 L928.3 1009.0 L928.8 1008.9 L929.3 1008.9 L929.8 1008.8 L930.3 1008.8 L930.8 1008.7 L931.3 1008.7 L931.8 1008.6 L932.3 1008.5 L932.8 1008.5 L933.3 1008.4 L933.8 1008.3 L934.3 1008.3 L934.8 1008.2 L935.3 1008.1 L935.8 1008.1 L936.3 1008.0 L936.8 1007.9 L937.3 1007.8 L937.8 1007.7 L938.3 1007.7 L938.8 1007.6 L939.3 1007.5 L939.8 1007.4 L940.3 1007.3 L940.8 1007.2 L941.3 1007.1 L941.8 1007.0 L942.3 1006.9 L942.8 1006.8 L943.3 1006.7 L943.8 1006.6 L944.3 1006.4 L944.8 1006.3 L945.3 1006.2 L945.8 1006.1 L946.3 1006.0 L946.8 1005.8 L947.3 1005.7 L947.8 1005.6 L948.3 1005.4 L948.8 1005.3 L949.3 1005.1 L949.8 1005.0 L950.3 1004.8 L950.8 1004.7 L951.3 1004.5 L951.8 1004.3 L952.3 1004.2 L952.8 1004.0 L953.3 1003.8 L953.8 1003.7 L954.3 1003.5 L954.8 1003.3 L955.3 1003.1 L955.8 1002.9 L956.3 1002.7 L956.8 1002.5 L957.3 1002.3 L957.8 1002.1 L958.3 1001.9 L958.8 1001.6 L959.3 1001.4 L959.8 1001.2 L960.3 1001.0 L960.8 1000.7 L961.3 1000.5 L961.8 1000.2 L962.3 1000.0 L962.8 999.7 L963.3 999.5 L963.8 999.2 L964.3 998.9 L964.8 998.6 L965.3 998.4 L965.8 998.1 L966.3 997.8 L966.8 997.5 L967.3 997.2 L967.8 996.9 L968.3 996.6 L968.8 996.3 L969.3 995.9 L969.8 995.6 L970.3 995.3 L970.8 995.0 L971.3 994.6 L971.8 994.3 L972.3 993.9 L972.8 993.6 L973.3 993.2 L973.8 992.8 L974.3 992.5 L974.8 992.1 L975.3 991.7 L975.8 991.3 L976.3 990.9 L976.8 990.5 L977.3 990.1 L977.8 989.7 L978.3 989.3 L978.8 988.9 L979.3 988.4 L979.8 988.0 L980.3 987.6 L980.8 987.1 L981.3 986.7 L981.8 986.2 L982.3 985.8 L982.8 985.3 L983.3 984.9 L983.8 984.4 L984.3 983.9 L984.8 983.4 L985.3 983.0 L985.8 982.5 L986.3 982.0 L986.8 981.5 L987.3 981.0 L987.8 980.5 L988.3 980.0 L988.8 979.4 L989.3 978.9 L989.8 978.4 L990.3 977.9 L990.8 977.3 L991.3 976.8 L991.8 976.3 L992.3 975.7 L992.8 975.2 L993.3 974.6 L993.8 974.1 L994.3 973.5 L994.8 972.9 L995.3 972.4 L995.8 971.8 L996.3 971.2 L996.8 970.7 L997.3 970.1 L997.8 969.5 L998.3 968.9 L998.8 968.4 L999.3 967.8 L999.8 967.2 L1000.3 966.6 L1000.8 966.0 L1001.3 965.4 L1001.8 964.8 L1002.3 964.2 L1002.8 963.6 L1003.3 963.0 L1003.8 962.5 L1004.3 961.9 L1004.8 961.3 L1005.3 960.7 L1005.8 960.1 L1006.3 959.5 L1006.8 958.9 L1007.3 958.3 L1007.8 957.7 L1008.3 957.1 L1008.8 956.5 L1009.3 955.9 L1009.8 955.3 L1010.3 954.7 L1010.8 954.1 L1011.3 953.6 L1011.8 953.0 L1012.3 952.4 L1012.8 951.8 L1013.3 951.2 L1013.8 950.7 L1014.3 950.1 L1014.8 949.5 L1015.3 949.0 L1015.8 948.4 L1016.3 947.9 L1016.8 947.3 L1017.3 946.8 L1017.8 946.2 L1018.3 945.7 L1018.8 945.2 L1019.3 944.6 L1019.8 944.1 L1020.3 943.6 L1020.8 943.1 L1021.3 942.6 L1021.8 942.1 L1022.3 941.6 L1022.8 941.1 L1023.3 940.6 L1023.8 940.2 L1024.3 939.7 L1024.8 939.2 L1025.3 938.8 L1025.8 938.3 L1026.3 937.9 L1026.8 937.5 L1027.3 937.1 L1027.8 936.6 L1028.3 936.2 L1028.8 935.8 L1029.3 935.5 L1029.8 935.1 L1030.3 934.7 L1030.8 934.4 L1031.3 934.0 L1031.8 933.7 L1032.3 933.3 L1032.8 933.0 L1033.3 932.7 L1033.8 932.4 L1034.3 932.1 L1034.8 931.8 L1035.3 931.6 L1035.8 931.3 L1036.3 931.1 L1036.8 930.8 L1037.3 930.6 L1037.8 930.4 L1038.3 930.2 L1038.8 930.0 L1039.3 929.8 L1039.8 929.6 L1040.3 929.5 L1040.8 929.3 L1041.3 929.2 L1041.8 929.0 L1042.3 928.9 L1042.8 928.8 L1043.3 928.7 L1043.8 928.6 L1044.3 928.6 L1044.8 928.5 L1045.3 928.5 L1045.8 928.4 L1046.3 928.4 L1046.8 928.4 L1047.3 928.4 L1047.8 928.4 L1048.3 928.5 L1048.8 928.5 L1049.3 928.6 L1049.8 928.6 L1050.3 928.7 L1050.8 928.8 L1051.3 929.0 L1051.8 929.1 L1052.3 929.2 L1052.8 929.4 L1053.3 929.6 L1053.8 929.8 L1054.3 930.0 L1054.8 930.2 L1055.3 930.4 L1055.8 930.7 L1056.3 930.9 L1056.8 931.2 L1057.3 931.5 L1057.8 931.8 L1058.3 932.1 L1058.8 932.5 L1059.3 932.8 L1059.8 933.2 L1060.3 933.5 L1060.8 933.9 L1061.3 934.3 L1061.8 934.7 L1062.3 935.1 L1062.8 935.5 L1063.3 936.0 L1063.8 936.4 L1064.3 936.9 L1064.8 937.4 L1065.3 937.8 L1065.8 938.3 L1066.3 938.8 L1066.8 939.3 L1067.3 939.9 L1067.8 940.4 L1068.3 940.9 L1068.8 941.5 L1069.3 942.0 L1069.8 942.6 L1070.3 943.1 L1070.8 943.7 L1071.3 944.3 L1071.8 944.9 L1072.3 945.5 L1072.8 946.1 L1073.3 946.7 L1073.8 947.3 L1074.3 947.9 L1074.8 948.6 L1075.3 949.2 L1075.8 949.8 L1076.3 950.5 L1076.8 951.1 L1077.3 951.8 L1077.8 952.4 L1078.3 953.1 L1078.8 953.7 L1079.3 954.4 L1079.8 955.0 L1080.3 955.7 L1080.8 956.4 L1081.3 957.0 L1081.8 957.7 L1082.3 958.4 L1082.8 959.1 L1083.3 959.7 L1083.8 960.4 L1084.3 961.1 L1084.8 961.7 L1085.3 962.4 L1085.8 963.1 L1086.3 963.8 L1086.8 964.4 L1087.3 965.1 L1087.8 965.8 L1088.3 966.4 L1088.8 967.1 L1089.3 967.7 L1089.8 968.4 L1090.3 969.1 L1090.8 969.7 L1091.3 970.4 L1091.8 971.0 L1092.3 971.6 L1092.8 972.3 L1093.3 972.9 L1093.8 973.6 L1094.3 974.2 L1094.8 974.8 L1095.3 975.4 L1095.8 976.0 L1096.3 976.6 L1096.8 977.3 L1097.3 977.9 L1097.8 978.4 L1098.3 979.0 L1098.8 979.6 L1099.3 980.2 L1099.8 980.8 L1100.3 981.3 L1100.8 981.9 L1101.3 982.5 L1101.8 983.0 L1102.3 983.6 L1102.8 984.1 L1103.3 984.6 L1103.8 985.2 L1104.3 985.7 L1104.8 986.2 L1105.3 986.7 L1105.8 987.2 L1106.3 987.7 L1106.8 988.2 L1107.3 988.7 L1107.8 989.1 L1108.3 989.6 L1108.8 990.1 L1109.3 990.5 L1109.8 991.0 L1110.3 991.4 L1110.8 991.9 L1111.3 992.3 L1111.8 992.7 L1112.3 993.1 L1112.8 993.5 L1113.3 993.9 L1113.8 994.3 L1114.3 994.7 L1114.8 995.1 L1115.3 995.5 L1115.8 995.8 L1116.3 996.2 L1116.8 996.6 L1117.3 996.9 L1117.8 997.3 L1118.3 997.6 L1118.8 997.9 L1119.3 998.2 L1119.8 998.6 L1120.3 998.9 L1120.8 999.2 L1121.3 999.5 L1121.8 999.8 L1122.3 1000.1 L1122.8 1000.3 L1123.3 1000.6 L1123.8 1000.9 L1124.3 1001.2 L1124.8 1001.4 L1125.3 1001.7 L1125.8 1001.9 L1126.3 1002.2 L1126.8 1002.4 L1127.3 1002.6 L1127.8 1002.8 L1128.3 1003.1 L1128.8 1003.3 L1129.3 1003.5 L1129.8 1003.7 L1130.3 1003.9 L1130.8 1004.1 L1131.3 1004.3 L1131.8 1004.5 L1132.3 1004.6 L1132.8 1004.8 L1133.3 1005.0 L1133.8 1005.2 L1134.3 1005.3 L1134.8 1005.5 L1135.3 1005.6 L1135.8 1005.8 L1136.3 1005.9 L1136.8 1006.1 L1137.3 1006.2 L1137.8 1006.4 L1138.3 1006.5 L1138.8 1006.6 L1139.3 1006.7 L1139.8 1006.9 L1140.3 1007.0 L1140.8 1007.1 L1141.3 1007.2 L1141.8 1007.3 L1142.3 1007.4 L1142.8 1007.5 L1143.3 1007.6 L1143.8 1007.7 L1144.3 1007.8 L1144.8 1007.9 L1145.3 1008.0 L1145.8 1008.1 L1146.3 1008.2 L1146.8 1008.2 L1147.3 1008.3 L1147.8 1008.4 L1148.3 1008.5 L1148.8 1008.5 L1149.3 1008.6 L1149.8 1008.7 L1150.3 1008.7 L1150.8 1008.8 L1151.3 1008.9 L1151.8 1008.9 L1152.3 1009.0 L1152.8 1009.0 L1153.3 1009.1 L1153.8 1009.1 L1154.3 1009.2 L1154.8 1009.2 L1155.3 1009.3 L1155.8 1009.3 L1156.3 1009.4 L1156.8 1009.4 L1157.3 1009.4 L1157.8 1009.5 L1158.3 1009.5 L1158.8 1009.5 L1159.3 1009.6 L1159.8 1009.6 L1160.3 1009.6 L1160.8 1009.7 L1161.3 1009.7 L1161.8 1009.7 L1162.3 1009.8 L1162.8 1009.8 L1163.3 1009.8 L1163.8 1009.8 L1164.3 1009.9 L1164.8 1009.9 L1165.3 1009.9 L1165.8 1009.9 L1166.3 1009.9 L1166.8 1010.0 L1167.3 1010.0 L1167.8 1010.0 L1168.3 1010.0 L1168.8 1010.0 L1169.3 1010.1 L1169.8 1010.1 L1170.3 1010.1 L1170.8 1010.1 L1171.3 1010.1 L1171.8 1010.1 L1172.3 1010.1 L1172.8 1010.1 L1173.3 1010.2 L1173.8 1010.2 L1174.3 1010.2 L1174.8 1010.2 L1175.3 1010.2 L1175.8 1010.2 L1176.3 1010.2 L1176.8 1010.2 L1177.3 1010.2 L1177.8 1010.2 L1178.3 1010.2 L1178.8 1010.3 L1179.3 1010.3 L1179.8 1010.3 L1180.3 1010.3 L1180.8 1010.3 L1181.3 1010.3 L1181.8 1010.3 L1182.3 1010.3 L1182.8 1010.3 L1183.3 1010.3 L1183.8 1010.3 L1184.3 1010.3 L1184.8 1010.3 L1185.3 1010.3 L1185.8 1010.3 L1186.3 1010.3 L1186.8 1010.3 L1187.3 1010.3 L1187.8 1010.3 L1188.3 1010.3 L1188.8 1010.3 L1189.3 1010.3 L1189.8 1010.4 L1203.3 1010.4" fill="none" stroke="#000" stroke-width="2.35" stroke-linejoin="round" stroke-linecap="round"/>
<path d="M738.5 1009.7 L739.7 1009.7 L741.4 1009.6 L743.2 1009.5 L744.8 1009.0 L745.9 1007.9 L746.8 1006.3 L747.7 1005.0 L748.9 1004.4 L750.2 1005.1 L751.5 1006.6 L753.3 1008.3 L755.9 1009.4 L759.9 1009.8 L765.0 1009.8 L770.1 1009.8 L774.0 1009.4 L776.2 1008.8 L777.5 1007.8 L778.4 1006.7 L779.6 1005.5 L781.3 1003.9 L783.2 1002.0 L785.0 1000.3 L786.6 999.2 L787.8 998.9 L788.8 999.2 L789.7 999.9 L790.7 1000.6 L791.7 1001.6 L792.8 1002.8 L793.8 1004.0 L794.9 1004.8 L795.9 1004.8 L796.9 1004.4 L798.0 1004.0 L799.1 1004.1 L800.4 1005.0 L801.7 1006.5 L803.2 1008.0 L804.7 1009.0 L806.5 1009.5 L808.4 1009.7 L810.2 1009.5 L811.7 1009.0 L812.6 1007.6 L813.2 1005.6 L813.6 1003.8 L814.2 1003.0 L814.9 1003.9 L815.7 1005.9 L816.5 1008.0 L817.2 1009.0 L817.9 1008.5 L818.6 1007.0 L819.3 1005.3 L820.0 1004.0 L820.7 1003.0 L821.4 1002.1 L822.1 1001.5 L822.8 1001.3 L823.5 1001.8 L824.1 1002.7 L824.8 1003.9 L825.5 1005.0 L826.2 1006.1 L826.9 1007.4 L827.6 1008.4 L828.4 1009.0 L829.3 1009.1 L830.3 1008.7 L831.4 1008.0 L832.6 1006.9 L833.9 1004.9 L835.4 1002.3 L836.8 999.9 L838.1 998.5 L839.2 998.8 L840.3 1000.3 L841.3 1001.9 L842.3 1002.7 L843.3 1002.3 L844.2 1001.2 L845.3 1000.0 L846.5 999.2 L848.1 999.1 L850.0 999.5 L851.9 999.7 L853.5 999.2 L854.7 997.9 L855.5 995.9 L856.4 993.7 L857.6 991.6 L859.2 989.4 L861.0 986.9 L862.9 984.7 L864.6 983.2 L866.1 982.7 L867.6 982.9 L868.9 983.2 L870.2 983.2 L871.3 982.9 L872.3 982.5 L873.3 981.7 L874.4 980.4 L875.7 978.0 L877.1 974.7 L878.6 971.5 L880.0 969.3 L881.4 968.7 L882.8 969.0 L884.2 969.3 L885.5 968.6 L886.6 966.5 L887.6 963.5 L888.6 960.1 L889.7 956.7 L891.0 953.2 L892.5 949.4 L894.0 945.8 L895.3 942.8 L896.4 940.8 L897.4 939.5 L898.4 938.1 L899.5 936.0 L900.8 932.8 L902.1 929.0 L903.6 924.9 L905.0 921.0 L906.5 917.2 L907.9 913.3 L909.5 909.6 L911.0 906.0 L912.6 902.4 L914.4 898.9 L916.0 895.8 L917.3 893.5 L918.2 892.5 L918.8 892.5 L919.3 892.7 L920.0 892.6 L921.0 892.3 L922.2 892.0 L923.4 891.2 L924.5 889.3 L925.4 885.4 L926.3 880.1 L927.2 875.0 L928.4 871.4 L930.0 870.6 L932.0 871.6 L933.9 872.5 L935.6 871.4 L936.9 867.4 L938.1 861.7 L939.1 855.5 L940.1 850.3 L941.0 846.2 L941.7 842.6 L942.5 839.4 L943.4 836.9 L944.5 835.3 L945.7 834.5 L946.9 833.8 L947.9 832.4 L948.5 829.9 L948.9 826.9 L949.4 823.8 L950.1 821.3 L951.3 819.8 L952.8 819.0 L954.3 818.2 L955.7 816.8 L956.9 814.7 L957.9 812.1 L958.9 809.4 L960.1 806.8 L961.4 804.1 L962.8 801.3 L964.2 798.8 L965.7 796.8 L967.3 795.6 L969.1 794.9 L970.9 794.5 L972.4 794.0 L973.7 793.4 L974.9 793.0 L975.9 792.3 L976.9 791.2 L977.8 789.2 L978.7 786.7 L979.5 784.2 L980.2 782.3 L980.8 781.2 L981.3 780.6 L981.8 780.4 L982.4 780.6 L983.1 781.1 L984.0 781.8 L984.9 783.2 L985.8 785.6 L986.8 790.0 L987.8 796.0 L988.9 801.6 L990.2 804.6 L991.8 803.5 L993.5 799.8 L995.3 795.9 L996.9 794.5 L998.2 797.1 L999.4 802.0 L1000.6 806.9 L1001.9 809.6 L1003.5 808.5 L1005.3 805.0 L1007.1 801.7 L1008.6 800.7 L1009.7 803.1 L1010.5 807.5 L1011.3 812.8 L1012.5 817.9 L1014.3 823.2 L1016.4 829.0 L1018.5 834.3 L1020.3 838.0 L1021.6 838.8 L1022.6 837.6 L1023.6 836.6 L1024.8 838.0 L1026.4 843.4 L1028.2 851.3 L1029.9 859.2 L1031.5 864.8 L1032.7 866.8 L1033.8 866.6 L1034.8 866.1 L1035.9 867.0 L1037.2 870.2 L1038.6 874.6 L1040.1 879.1 L1041.5 882.6 L1042.9 884.5 L1044.4 885.5 L1045.8 886.4 L1047.1 887.6 L1048.2 889.5 L1049.2 891.6 L1050.3 893.9 L1051.5 896.0 L1053.0 898.0 L1054.7 899.9 L1056.5 901.8 L1058.2 903.8 L1059.9 905.9 L1061.7 908.1 L1063.4 910.4 L1064.9 912.7 L1066.2 914.9 L1067.3 916.9 L1068.3 919.4 L1069.4 922.7 L1070.4 927.5 L1071.4 933.4 L1072.5 939.2 L1073.8 943.9 L1075.5 947.0 L1077.4 949.2 L1079.3 950.8 L1080.9 952.5 L1082.2 954.1 L1083.2 955.4 L1084.1 956.7 L1085.1 958.2 L1086.1 960.0 L1087.1 961.9 L1088.2 963.9 L1089.3 965.5 L1090.6 966.7 L1092.0 967.5 L1093.3 968.4 L1094.5 969.7 L1095.3 971.4 L1096.0 973.4 L1096.6 975.7 L1097.6 978.1 L1098.9 980.8 L1100.5 983.8 L1102.2 986.8 L1103.9 989.6 L1105.5 992.3 L1107.1 995.0 L1108.6 997.3 L1110.2 999.0 L1111.8 999.7 L1113.4 999.6 L1115.0 999.4 L1116.4 999.5 L1117.6 1000.2 L1118.6 1001.2 L1119.5 1002.3 L1120.6 1003.2 L1121.8 1004.0 L1123.1 1004.8 L1124.4 1005.4 L1125.9 1005.8 L1127.7 1005.7 L1129.7 1005.1 L1131.6 1004.7 L1133.2 1004.7 L1134.2 1005.6 L1134.9 1007.1 L1135.5 1008.4 L1136.3 1008.9 L1137.5 1008.1 L1138.8 1006.3 L1140.2 1004.6 L1141.5 1003.7 L1142.5 1004.1 L1143.4 1005.2 L1144.4 1006.5 L1145.7 1007.4 L1147.5 1007.9 L1149.5 1008.1 L1151.8 1008.2 L1154.1 1008.4 L1156.5 1008.6 L1159.1 1008.7 L1161.8 1008.8 L1164.5 1008.9 L1167.5 1009.1 L1170.6 1009.4 L1173.6 1009.6 L1176.0 1009.4 L1177.6 1008.6 L1178.6 1007.4 L1179.4 1006.3 L1180.2 1005.8 L1181.0 1006.3 L1181.8 1007.5 L1182.5 1008.7 L1183.3 1009.4 L1184.3 1009.2 L1185.4 1008.5 L1186.5 1007.7 L1187.5 1007.4 L1188.3 1007.7 L1189.0 1008.3 L1189.8 1008.9 L1190.7 1009.4 L1191.9 1009.6 L1193.3 1009.6 L1194.7 1009.6 L1195.9 1009.4 L1196.8 1009.1 L1197.5 1008.6 L1198.2 1008.1 L1199.0 1007.9 L1200.1 1008.1 L1201.4 1008.6 L1202.6 1009.1 L1203.4 1009.4" fill="none" stroke="#000" stroke-width="2.30" stroke-linejoin="round" stroke-linecap="round"/>
<rect x="328.60" y="1241.60" width="595.90" height="335.40" fill="none" stroke="#000" stroke-width="1.90"/>
<text x="938.03" y="1251.00" font-family='"Liberation Serif", serif' font-size="20.96" textLength="37.99" lengthAdjust="spacingAndGlyphs" fill="#666">1800</text>
<text x="938.03" y="1288.20" font-family='"Liberation Serif", serif' font-size="20.96" textLength="37.99" lengthAdjust="spacingAndGlyphs" fill="#666">1600</text>
<text x="938.03" y="1325.40" font-family='"Liberation Serif", serif' font-size="20.96" textLength="37.99" lengthAdjust="spacingAndGlyphs" fill="#666">1400</text>
<text x="938.03" y="1362.60" font-family='"Liberation Serif", serif' font-size="20.96" textLength="37.99" lengthAdjust="spacingAndGlyphs" fill="#666">1200</text>
<text x="938.03" y="1399.80" font-family='"Liberation Serif", serif' font-size="20.96" textLength="37.99" lengthAdjust="spacingAndGlyphs" fill="#666">1000</text>
<text x="939.01" y="1437.00" font-family='"Liberation Serif", serif' font-size="20.96" textLength="27.07" lengthAdjust="spacingAndGlyphs" fill="#666">800</text>
<text x="938.92" y="1474.20" font-family='"Liberation Serif", serif' font-size="20.96" textLength="27.17" lengthAdjust="spacingAndGlyphs" fill="#666">600</text>
<text x="939.35" y="1511.40" font-family='"Liberation Serif", serif' font-size="20.96" textLength="26.73" lengthAdjust="spacingAndGlyphs" fill="#666">400</text>
<text x="938.90" y="1548.60" font-family='"Liberation Serif", serif' font-size="20.96" textLength="27.19" lengthAdjust="spacingAndGlyphs" fill="#666">200</text>
<text x="938.95" y="1585.80" font-family='"Liberation Serif", serif' font-size="20.96" textLength="9.79" lengthAdjust="spacingAndGlyphs" fill="#666">0</text>
<text x="314.45" y="1610.00" font-family='"Liberation Serif", serif' font-size="20.96" textLength="27.73" lengthAdjust="spacingAndGlyphs" fill="#666">875</text>
<text x="413.65" y="1610.00" font-family='"Liberation Serif", serif' font-size="20.96" textLength="27.71" lengthAdjust="spacingAndGlyphs" fill="#666">870</text>
<text x="512.65" y="1610.00" font-family='"Liberation Serif", serif' font-size="20.96" textLength="27.73" lengthAdjust="spacingAndGlyphs" fill="#666">865</text>
<text x="612.15" y="1610.00" font-family='"Liberation Serif", serif' font-size="20.96" textLength="27.71" lengthAdjust="spacingAndGlyphs" fill="#666">860</text>
<text x="711.55" y="1610.00" font-family='"Liberation Serif", serif' font-size="20.96" textLength="27.73" lengthAdjust="spacingAndGlyphs" fill="#666">855</text>
<text x="811.35" y="1610.00" font-family='"Liberation Serif", serif' font-size="20.96" textLength="27.71" lengthAdjust="spacingAndGlyphs" fill="#666">850</text>
<text x="910.25" y="1610.00" font-family='"Liberation Serif", serif' font-size="20.96" textLength="27.73" lengthAdjust="spacingAndGlyphs" fill="#666">845</text>
<text x="542.91" y="1643.00" font-family='"Liberation Serif", serif' font-size="25.04" textLength="167.79" lengthAdjust="spacingAndGlyphs" fill="#2a2a2a">Binding Energy(eV)</text>
<text transform="translate(994.40 1491.09) rotate(-90)" x="0" y="0" font-family='"Liberation Serif", serif' font-size="21.53" textLength="135.47" lengthAdjust="spacingAndGlyphs" fill="#1a1a1a">Intensity(cps)</text>
<text x="318.09" y="1212.80" font-family='"Liberation Serif", serif' font-size="30.53" textLength="102.88" lengthAdjust="spacingAndGlyphs" fill="#1a1a1a">Ni2p Scan</text>
<path d="M642.10 1668.40 Q623.50 1682.65 642.10 1696.90 L642.90 1696.90 Q626.45 1682.65 642.90 1668.40 Z" fill="#000"/>
<text x="648.48" y="1696.30" font-family='"Liberation Serif", serif' font-size="36.94" textLength="16.19" lengthAdjust="spacingAndGlyphs" fill="#000">e</text>
<path d="M673.20 1668.40 Q691.80 1682.65 673.20 1696.90 L672.40 1696.90 Q688.85 1682.65 672.40 1668.40 Z" fill="#000"/>
<text x="802.85" y="1304.30" font-family='"Liberation Sans", sans-serif' font-size="24.13" textLength="105.04" lengthAdjust="spacingAndGlyphs" fill="#111">Ni2p 852eV</text>
<text x="456.66" y="1454.00" font-family='"Liberation Sans", sans-serif' font-size="24.13" textLength="104.43" lengthAdjust="spacingAndGlyphs" fill="#111">Ni2p 870eV</text>
<line x1="782.60" y1="1313.10" x2="843.40" y2="1326.90" stroke="#222" stroke-width="1.30"/>
<line x1="425.20" y1="1466.20" x2="488.80" y2="1462.30" stroke="#222" stroke-width="1.30"/>
<path d="M329.6 1577.0 L331.6 1577.0 L332.1 1576.9 L332.6 1576.9 L333.1 1576.9 L333.6 1576.9 L334.1 1576.9 L334.6 1576.9 L335.1 1576.9 L335.6 1576.9 L336.1 1576.9 L336.6 1576.9 L337.1 1576.9 L337.6 1576.9 L338.1 1576.9 L338.6 1576.8 L339.1 1576.8 L339.6 1576.8 L340.1 1576.8 L340.6 1576.8 L341.1 1576.8 L341.6 1576.8 L342.1 1576.7 L342.6 1576.7 L343.1 1576.7 L343.6 1576.7 L344.1 1576.6 L344.6 1576.6 L345.1 1576.6 L345.6 1576.5 L346.1 1576.5 L346.6 1576.5 L347.1 1576.4 L347.6 1576.4 L348.1 1576.4 L348.6 1576.3 L349.1 1576.3 L349.6 1576.2 L350.1 1576.2 L350.6 1576.1 L351.1 1576.0 L351.6 1576.0 L352.1 1575.9 L352.6 1575.8 L353.1 1575.7 L353.6 1575.6 L354.1 1575.6 L354.6 1575.5 L355.1 1575.4 L355.6 1575.3 L356.1 1575.1 L356.6 1575.0 L357.1 1574.9 L357.6 1574.8 L358.1 1574.6 L358.6 1574.5 L359.1 1574.3 L359.6 1574.2 L360.1 1574.0 L360.6 1573.8 L361.1 1573.6 L361.6 1573.4 L362.1 1573.2 L362.6 1573.0 L363.1 1572.7 L363.6 1572.5 L364.1 1572.2 L364.6 1572.0 L365.1 1571.7 L365.6 1571.4 L366.1 1571.1 L366.6 1570.8 L367.1 1570.4 L367.6 1570.1 L368.1 1569.7 L368.6 1569.3 L369.1 1568.9 L369.6 1568.5 L370.1 1568.1 L370.6 1567.7 L371.1 1567.2 L371.6 1566.7 L372.1 1566.2 L372.6 1565.7 L373.1 1565.2 L373.6 1564.6 L374.1 1564.0 L374.6 1563.4 L375.1 1562.8 L375.6 1562.2 L376.1 1561.5 L376.6 1560.8 L377.1 1560.1 L377.6 1559.4 L378.1 1558.6 L378.6 1557.8 L379.1 1557.0 L379.6 1556.2 L380.1 1555.4 L380.6 1554.5 L381.1 1553.6 L381.6 1552.7 L382.1 1551.8 L382.6 1550.8 L383.1 1549.8 L383.6 1548.8 L384.1 1547.7 L384.6 1546.7 L385.1 1545.6 L385.6 1544.5 L386.1 1543.4 L386.6 1542.2 L387.1 1541.0 L387.6 1539.8 L388.1 1538.6 L388.6 1537.4 L389.1 1536.1 L389.6 1534.8 L390.1 1533.5 L390.6 1532.2 L391.1 1530.9 L391.6 1529.5 L392.1 1528.2 L392.6 1526.8 L393.1 1525.4 L393.6 1524.0 L394.1 1522.5 L394.6 1521.1 L395.1 1519.6 L395.6 1518.2 L396.1 1516.7 L396.6 1515.2 L397.1 1513.8 L397.6 1512.3 L398.1 1510.8 L398.6 1509.3 L399.1 1507.8 L399.6 1506.3 L400.1 1504.8 L400.6 1503.3 L401.1 1501.9 L401.6 1500.4 L402.1 1498.9 L402.6 1497.5 L403.1 1496.0 L403.6 1494.6 L404.1 1493.2 L404.6 1491.8 L405.1 1490.4 L405.6 1489.1 L406.1 1487.7 L406.6 1486.4 L407.1 1485.1 L407.6 1483.8 L408.1 1482.6 L408.6 1481.4 L409.1 1480.2 L409.6 1479.1 L410.1 1478.0 L410.6 1476.9 L411.1 1475.8 L411.6 1474.8 L412.1 1473.9 L412.6 1472.9 L413.1 1472.1 L413.6 1471.2 L414.1 1470.4 L414.6 1469.7 L415.1 1469.0 L415.6 1468.3 L416.1 1467.7 L416.6 1467.2 L417.1 1466.6 L417.6 1466.2 L418.1 1465.8 L418.6 1465.4 L419.1 1465.1 L419.6 1464.9 L420.1 1464.7 L420.6 1464.5 L421.1 1464.4 L421.6 1464.4 L422.1 1464.4 L422.6 1464.5 L423.1 1464.6 L423.6 1464.8 L424.1 1465.0 L424.6 1465.3 L425.1 1465.6 L425.6 1466.0 L426.1 1466.5 L426.6 1466.9 L427.1 1467.5 L427.6 1468.1 L428.1 1468.7 L428.6 1469.4 L429.1 1470.1 L429.6 1470.9 L430.1 1471.7 L430.6 1472.6 L431.1 1473.5 L431.6 1474.4 L432.1 1475.4 L432.6 1476.5 L433.1 1477.5 L433.6 1478.6 L434.1 1479.8 L434.6 1480.9 L435.1 1482.1 L435.6 1483.3 L436.1 1484.6 L436.6 1485.9 L437.1 1487.2 L437.6 1488.5 L438.1 1489.9 L438.6 1491.2 L439.1 1492.6 L439.6 1494.0 L440.1 1495.5 L440.6 1496.9 L441.1 1498.4 L441.6 1499.8 L442.1 1501.3 L442.6 1502.8 L443.1 1504.2 L443.6 1505.7 L444.1 1507.2 L444.6 1508.7 L445.1 1510.2 L445.6 1511.7 L446.1 1513.2 L446.6 1514.7 L447.1 1516.1 L447.6 1517.6 L448.1 1519.1 L448.6 1520.5 L449.1 1522.0 L449.6 1523.4 L450.1 1524.8 L450.6 1526.2 L451.1 1527.6 L451.6 1529.0 L452.1 1530.3 L452.6 1531.7 L453.1 1533.0 L453.6 1534.3 L454.1 1535.6 L454.6 1536.9 L455.1 1538.1 L455.6 1539.4 L456.1 1540.6 L456.6 1541.7 L457.1 1542.9 L457.6 1544.0 L458.1 1545.2 L458.6 1546.3 L459.1 1547.3 L459.6 1548.4 L460.1 1549.4 L460.6 1550.4 L461.1 1551.4 L461.6 1552.3 L462.1 1553.2 L462.6 1554.2 L463.1 1555.0 L463.6 1555.9 L464.1 1556.7 L464.6 1557.5 L465.1 1558.3 L465.6 1559.1 L466.1 1559.8 L466.6 1560.5 L467.1 1561.2 L467.6 1561.9 L468.1 1562.5 L468.6 1563.2 L469.1 1563.8 L469.6 1564.4 L470.1 1564.9 L470.6 1565.5 L471.1 1566.0 L471.6 1566.5 L472.1 1567.0 L472.6 1567.5 L473.1 1567.9 L473.6 1568.4 L474.1 1568.8 L474.6 1569.2 L475.1 1569.6 L475.6 1569.9 L476.1 1570.3 L476.6 1570.6 L477.1 1571.0 L477.6 1571.3 L478.1 1571.6 L478.6 1571.9 L479.1 1572.1 L479.6 1572.4 L480.1 1572.6 L480.6 1572.9 L481.1 1573.1 L481.6 1573.3 L482.1 1573.5 L482.6 1573.7 L483.1 1573.9 L483.6 1574.1 L484.1 1574.3 L484.6 1574.4 L485.1 1574.6 L485.6 1574.7 L486.1 1574.8 L486.6 1575.0 L487.1 1575.1 L487.6 1575.2 L488.1 1575.3 L488.6 1575.4 L489.1 1575.5 L489.6 1575.6 L490.1 1575.7 L490.6 1575.8 L491.1 1575.9 L491.6 1575.9 L492.1 1576.0 L492.6 1576.1 L493.1 1576.1 L493.6 1576.2 L494.1 1576.2 L494.6 1576.3 L495.1 1576.3 L495.6 1576.4 L496.1 1576.4 L496.6 1576.5 L497.1 1576.5 L497.6 1576.5 L498.1 1576.6 L498.6 1576.6 L499.1 1576.6 L499.6 1576.7 L500.1 1576.7 L500.6 1576.7 L501.1 1576.7 L501.6 1576.7 L502.1 1576.8 L502.6 1576.8 L503.1 1576.8 L503.6 1576.8 L504.1 1576.8 L504.6 1576.8 L505.1 1576.9 L505.6 1576.9 L506.1 1576.9 L506.6 1576.9 L507.1 1576.9 L507.6 1576.9 L508.1 1576.9 L508.6 1576.9 L509.1 1576.9 L509.6 1576.9 L510.1 1576.9 L510.6 1576.9 L511.1 1576.9 L511.6 1576.9 L512.1 1577.0 L679.6 1577.0 L680.1 1576.9 L680.6 1576.9 L681.1 1576.9 L681.6 1576.9 L682.1 1576.9 L682.6 1576.9 L683.1 1576.9 L683.6 1576.9 L684.1 1576.9 L684.6 1576.9 L685.1 1576.9 L685.6 1576.9 L686.1 1576.9 L686.6 1576.8 L687.1 1576.8 L687.6 1576.8 L688.1 1576.8 L688.6 1576.8 L689.1 1576.8 L689.6 1576.7 L690.1 1576.7 L690.6 1576.7 L691.1 1576.7 L691.6 1576.6 L692.1 1576.6 L692.6 1576.6 L693.1 1576.5 L693.6 1576.5 L694.1 1576.5 L694.6 1576.4 L695.1 1576.4 L695.6 1576.3 L696.1 1576.3 L696.6 1576.2 L697.1 1576.2 L697.6 1576.1 L698.1 1576.0 L698.6 1576.0 L699.1 1575.9 L699.6 1575.8 L700.1 1575.7 L700.6 1575.6 L701.1 1575.5 L701.6 1575.4 L702.1 1575.3 L702.6 1575.2 L703.1 1575.1 L703.6 1574.9 L704.1 1574.8 L704.6 1574.6 L705.1 1574.5 L705.6 1574.3 L706.1 1574.1 L706.6 1573.9 L707.1 1573.7 L707.6 1573.5 L708.1 1573.3 L708.6 1573.1 L709.1 1572.8 L709.6 1572.5 L710.1 1572.3 L710.6 1572.0 L711.1 1571.6 L711.6 1571.3 L712.1 1571.0 L712.6 1570.6 L713.1 1570.2 L713.6 1569.8 L714.1 1569.4 L714.6 1568.9 L715.1 1568.5 L715.6 1568.0 L716.1 1567.5 L716.6 1566.9 L717.1 1566.4 L717.6 1565.8 L718.1 1565.1 L718.6 1564.5 L719.1 1563.8 L719.6 1563.1 L720.1 1562.4 L720.6 1561.6 L721.1 1560.8 L721.6 1559.9 L722.1 1559.1 L722.6 1558.1 L723.1 1557.2 L723.6 1556.2 L724.1 1555.2 L724.6 1554.1 L725.1 1553.0 L725.6 1551.8 L726.1 1550.6 L726.6 1549.4 L727.1 1548.1 L727.6 1546.8 L728.1 1545.4 L728.6 1544.0 L729.1 1542.5 L729.6 1541.0 L730.1 1539.4 L730.6 1537.8 L731.1 1536.1 L731.6 1534.4 L732.1 1532.6 L732.6 1530.8 L733.1 1528.9 L733.6 1526.9 L734.1 1524.9 L734.6 1522.9 L735.1 1520.8 L735.6 1518.6 L736.1 1516.4 L736.6 1514.1 L737.1 1511.8 L737.6 1509.4 L738.1 1507.0 L738.6 1504.5 L739.1 1501.9 L739.6 1499.3 L740.1 1496.7 L740.6 1494.0 L741.1 1491.2 L741.6 1488.4 L742.1 1485.6 L742.6 1482.7 L743.1 1479.7 L743.6 1476.7 L744.1 1473.7 L744.6 1470.6 L745.1 1467.5 L745.6 1464.3 L746.1 1461.1 L746.6 1457.8 L747.1 1454.6 L747.6 1451.3 L748.1 1447.9 L748.6 1444.6 L749.1 1441.2 L749.6 1437.7 L750.1 1434.3 L750.6 1430.9 L751.1 1427.4 L751.6 1423.9 L752.1 1420.4 L752.6 1416.9 L753.1 1413.4 L753.6 1410.0 L754.1 1406.5 L754.6 1403.0 L755.1 1399.5 L755.6 1396.1 L756.1 1392.6 L756.6 1389.2 L757.1 1385.8 L757.6 1382.4 L758.1 1379.1 L758.6 1375.8 L759.1 1372.5 L759.6 1369.3 L760.1 1366.2 L760.6 1363.0 L761.1 1360.0 L761.6 1357.0 L762.1 1354.0 L762.6 1351.1 L763.1 1348.3 L763.6 1345.6 L764.1 1342.9 L764.6 1340.3 L765.1 1337.8 L765.6 1335.4 L766.1 1333.0 L766.6 1330.8 L767.1 1328.6 L767.6 1326.6 L768.1 1324.6 L768.6 1322.8 L769.1 1321.0 L769.6 1319.4 L770.1 1317.8 L770.6 1316.4 L771.1 1315.1 L771.6 1313.9 L772.1 1312.8 L772.6 1311.9 L773.1 1311.0 L773.6 1310.3 L774.1 1309.7 L774.6 1309.2 L775.1 1308.9 L775.6 1308.6 L776.1 1308.5 L776.6 1308.5 L777.1 1308.7 L777.6 1308.9 L778.1 1309.3 L778.6 1309.8 L779.1 1310.4 L779.6 1311.2 L780.1 1312.0 L780.6 1313.0 L781.1 1314.1 L781.6 1315.4 L782.1 1316.7 L782.6 1318.1 L783.1 1319.7 L783.6 1321.4 L784.1 1323.1 L784.6 1325.0 L785.1 1327.0 L785.6 1329.1 L786.1 1331.2 L786.6 1333.5 L787.1 1335.8 L787.6 1338.3 L788.1 1340.8 L788.6 1343.4 L789.1 1346.1 L789.6 1348.9 L790.1 1351.7 L790.6 1354.6 L791.1 1357.6 L791.6 1360.6 L792.1 1363.7 L792.6 1366.8 L793.1 1370.0 L793.6 1373.2 L794.1 1376.5 L794.6 1379.8 L795.1 1383.1 L795.6 1386.5 L796.1 1389.9 L796.6 1393.3 L797.1 1396.7 L797.6 1400.2 L798.1 1403.7 L798.6 1407.2 L799.1 1410.7 L799.6 1414.1 L800.1 1417.6 L800.6 1421.1 L801.1 1424.6 L801.6 1428.1 L802.1 1431.6 L802.6 1435.0 L803.1 1438.4 L803.6 1441.8 L804.1 1445.2 L804.6 1448.6 L805.1 1451.9 L805.6 1455.2 L806.1 1458.5 L806.6 1461.7 L807.1 1464.9 L807.6 1468.1 L808.1 1471.2 L808.6 1474.3 L809.1 1477.3 L809.6 1480.3 L810.1 1483.2 L810.6 1486.1 L811.1 1489.0 L811.6 1491.8 L812.1 1494.5 L812.6 1497.2 L813.1 1499.9 L813.6 1502.4 L814.1 1505.0 L814.6 1507.5 L815.1 1509.9 L815.6 1512.3 L816.1 1514.6 L816.6 1516.8 L817.1 1519.0 L817.6 1521.2 L818.1 1523.3 L818.6 1525.3 L819.1 1527.3 L819.6 1529.2 L820.1 1531.1 L820.6 1532.9 L821.1 1534.7 L821.6 1536.4 L822.1 1538.1 L822.6 1539.7 L823.1 1541.3 L823.6 1542.8 L824.1 1544.3 L824.6 1545.7 L825.1 1547.0 L825.6 1548.4 L826.1 1549.6 L826.6 1550.9 L827.1 1552.1 L827.6 1553.2 L828.1 1554.3 L828.6 1555.4 L829.1 1556.4 L829.6 1557.4 L830.1 1558.3 L830.6 1559.2 L831.1 1560.1 L831.6 1560.9 L832.1 1561.7 L832.6 1562.5 L833.1 1563.2 L833.6 1563.9 L834.1 1564.6 L834.6 1565.3 L835.1 1565.9 L835.6 1566.5 L836.1 1567.0 L836.6 1567.6 L837.1 1568.1 L837.6 1568.6 L838.1 1569.0 L838.6 1569.5 L839.1 1569.9 L839.6 1570.3 L840.1 1570.7 L840.6 1571.0 L841.1 1571.4 L841.6 1571.7 L842.1 1572.0 L842.6 1572.3 L843.1 1572.6 L843.6 1572.9 L844.1 1573.1 L844.6 1573.3 L845.1 1573.6 L845.6 1573.8 L846.1 1574.0 L846.6 1574.2 L847.1 1574.3 L847.6 1574.5 L848.1 1574.7 L848.6 1574.8 L849.1 1575.0 L849.6 1575.1 L850.1 1575.2 L850.6 1575.3 L851.1 1575.4 L851.6 1575.6 L852.1 1575.6 L852.6 1575.7 L853.1 1575.8 L853.6 1575.9 L854.1 1576.0 L854.6 1576.1 L855.1 1576.1 L855.6 1576.2 L856.1 1576.2 L856.6 1576.3 L857.1 1576.3 L857.6 1576.4 L858.1 1576.4 L858.6 1576.5 L859.1 1576.5 L859.6 1576.5 L860.1 1576.6 L860.6 1576.6 L861.1 1576.6 L861.6 1576.7 L862.1 1576.7 L862.6 1576.7 L863.1 1576.7 L863.6 1576.8 L864.1 1576.8 L864.6 1576.8 L865.1 1576.8 L865.6 1576.8 L866.1 1576.8 L866.6 1576.9 L867.1 1576.9 L867.6 1576.9 L868.1 1576.9 L868.6 1576.9 L869.1 1576.9 L869.6 1576.9 L870.1 1576.9 L870.6 1576.9 L871.1 1576.9 L871.6 1576.9 L872.1 1576.9 L872.6 1576.9 L873.1 1577.0 L923.1 1577.0" fill="none" stroke="#000" stroke-width="2.00" stroke-linejoin="round" stroke-linecap="round"/>
<path d="M329.5 1574.0 L330.4 1572.9 L331.7 1571.6 L333.0 1571.0 L334.0 1572.4 L334.9 1574.6 L336.0 1575.5 L337.4 1573.4 L339.0 1569.9 L340.7 1568.1 L342.4 1569.9 L344.2 1573.4 L345.9 1575.0 L347.4 1572.6 L348.8 1568.3 L350.3 1565.5 L351.9 1566.2 L353.6 1568.3 L355.5 1569.0 L357.8 1566.8 L360.2 1563.2 L362.5 1559.4 L364.4 1555.0 L366.2 1550.4 L367.7 1548.0 L369.0 1550.2 L370.0 1554.6 L371.2 1555.9 L372.6 1551.1 L374.2 1543.3 L375.5 1536.7 L376.5 1532.3 L377.3 1529.0 L378.1 1528.0 L378.9 1531.5 L379.8 1537.3 L380.7 1539.3 L381.8 1533.1 L383.1 1523.1 L384.2 1516.7 L385.1 1518.5 L386.0 1523.8 L386.8 1526.3 L387.7 1521.8 L388.5 1514.6 L389.5 1510.6 L390.6 1514.3 L391.8 1521.2 L393.0 1524.5 L394.1 1520.2 L395.1 1512.3 L396.4 1505.4 L398.1 1501.6 L399.9 1498.8 L401.7 1495.8 L403.3 1491.2 L404.7 1486.3 L406.0 1484.5 L407.0 1488.8 L407.8 1496.2 L408.6 1500.1 L409.4 1496.8 L410.2 1490.2 L411.2 1485.3 L412.6 1485.0 L414.2 1486.4 L415.6 1486.2 L416.6 1481.7 L417.4 1475.7 L418.2 1473.1 L419.0 1478.6 L419.7 1487.5 L420.5 1491.4 L421.4 1485.0 L422.4 1473.6 L423.4 1464.4 L424.3 1460.0 L425.1 1457.9 L426.0 1457.5 L426.9 1460.0 L427.8 1464.3 L428.7 1466.2 L429.6 1462.2 L430.6 1455.9 L431.6 1454.0 L432.6 1461.5 L433.7 1473.4 L434.8 1481.0 L435.9 1479.4 L437.1 1473.5 L438.2 1469.7 L439.2 1471.3 L440.0 1475.0 L440.9 1477.5 L441.7 1476.3 L442.6 1473.9 L443.5 1474.0 L444.6 1479.2 L445.8 1486.9 L447.0 1493.2 L448.1 1495.8 L449.3 1497.1 L450.4 1500.1 L451.6 1506.8 L452.9 1515.2 L453.9 1522.8 L454.6 1529.9 L455.1 1536.2 L455.7 1538.5 L456.5 1533.4 L457.4 1524.2 L458.3 1518.4 L459.1 1518.5 L460.0 1522.0 L460.9 1528.0 L462.0 1538.3 L463.2 1551.1 L464.4 1561.1 L465.6 1565.3 L466.9 1566.7 L467.9 1568.1 L468.5 1571.3 L469.0 1574.6 L469.6 1575.9 L470.6 1573.3 L471.9 1568.7 L473.1 1566.3 L474.2 1569.2 L475.3 1574.2 L476.6 1575.9 L478.3 1569.9 L480.1 1560.7 L481.8 1555.9 L483.0 1560.6 L484.0 1569.8 L485.3 1575.9 L487.3 1574.8 L489.7 1570.5 L491.7 1568.1 L493.0 1570.1 L493.9 1573.9 L495.0 1576.4 L496.3 1576.2 L497.8 1574.7 L499.2 1573.8 L500.4 1574.4 L501.5 1575.6 L503.0 1576.4 L505.2 1576.4 L507.8 1576.4 L510.0 1576.4 L511.4 1571.1 L512.4 1563.8 L513.4 1560.1 L514.5 1563.8 L515.5 1571.0 L516.6 1576.0 L517.8 1575.8 L519.0 1573.3 L520.1 1571.8 L521.0 1573.2 L521.7 1575.6 L522.5 1576.0 L523.4 1571.8 L524.2 1565.7 L525.2 1562.6 L526.2 1565.7 L527.4 1571.7 L528.5 1576.0 L529.7 1576.4 L530.8 1575.6 L532.0 1574.0 L533.1 1571.7 L534.2 1568.9 L535.2 1567.6 L536.1 1569.5 L537.0 1572.9 L537.8 1575.0 L538.6 1574.2 L539.4 1572.1 L540.2 1571.0 L541.1 1572.5 L542.0 1574.9 L543.0 1576.0 L544.3 1574.1 L545.7 1570.8 L546.9 1568.5 L547.7 1568.2 L548.3 1569.0 L549.0 1569.8 L550.0 1570.7 L551.0 1571.6 L552.0 1572.1 L552.9 1571.5 L553.7 1570.4 L554.4 1569.9 L555.0 1570.6 L555.6 1571.8 L556.2 1573.0 L557.0 1574.4 L557.9 1575.7 L558.7 1576.3 L559.4 1575.1 L560.1 1573.2 L560.8 1572.1 L561.7 1572.9 L562.7 1574.6 L563.6 1575.9 L564.3 1576.4 L564.9 1576.4 L565.5 1575.6 L566.2 1573.3 L566.8 1570.1 L567.5 1568.2 L568.2 1568.6 L568.9 1570.2 L569.6 1571.3 L570.2 1570.8 L570.8 1569.8 L571.6 1569.5 L572.5 1570.4 L573.6 1572.0 L574.5 1573.5 L575.2 1574.6 L575.8 1575.6 L576.4 1576.2 L577.2 1576.4 L578.1 1576.4 L579.0 1575.8 L579.7 1574.2 L580.4 1572.0 L581.1 1570.6 L581.8 1570.7 L582.5 1571.7 L583.3 1572.7 L584.2 1573.7 L585.3 1574.9 L586.4 1575.8 L587.4 1576.0 L588.3 1575.9 L589.3 1575.7 L590.0 1575.5 L590.8 1575.3 L591.5 1574.9 L592.1 1574.2 L592.7 1573.4 L593.4 1572.8 L594.3 1572.7 L595.4 1572.9 L596.4 1573.1 L597.3 1573.2 L598.0 1573.2 L598.9 1573.3 L599.8 1573.5 L600.8 1573.6 L601.7 1573.4 L602.3 1572.3 L602.9 1570.9 L603.5 1570.1 L604.2 1570.4 L604.9 1571.3 L605.7 1572.4 L606.4 1573.9 L607.1 1575.7 L607.8 1576.4 L608.5 1575.2 L609.1 1572.9 L609.7 1571.3 L610.3 1571.2 L610.8 1571.8 L611.4 1572.1 L612.1 1571.6 L612.8 1570.8 L613.5 1570.7 L614.2 1572.2 L615.0 1574.4 L615.8 1575.6 L616.3 1574.9 L616.8 1573.3 L617.5 1572.0 L618.3 1571.1 L619.3 1570.6 L620.2 1570.4 L620.9 1571.2 L621.4 1572.5 L622.0 1572.9 L622.7 1571.6 L623.4 1569.4 L624.1 1568.2 L625.1 1568.7 L626.2 1570.1 L627.2 1571.4 L628.1 1572.4 L628.9 1573.2 L629.6 1573.4 L630.4 1572.2 L631.1 1570.3 L631.8 1569.4 L632.6 1570.6 L633.4 1572.8 L634.2 1574.3 L635.1 1574.0 L636.1 1572.9 L637.0 1571.9 L638.0 1571.2 L638.9 1570.5 L639.8 1570.4 L640.6 1571.1 L641.3 1572.3 L642.0 1573.0 L642.9 1572.8 L643.9 1572.1 L644.8 1571.9 L645.7 1572.6 L646.6 1573.6 L647.4 1574.1 L648.1 1573.4 L648.8 1572.1 L649.5 1571.3 L650.3 1571.4 L651.2 1571.9 L652.1 1572.3 L653.0 1572.4 L653.9 1572.3 L654.8 1571.8 L655.8 1570.4 L656.8 1568.6 L657.8 1567.8 L658.6 1569.1 L659.4 1571.4 L660.2 1572.8 L661.2 1572.3 L662.2 1570.9 L663.2 1570.4 L664.2 1571.9 L665.1 1574.3 L666.0 1575.7 L666.8 1575.0 L667.6 1573.3 L668.5 1572.0 L669.4 1572.0 L670.4 1572.4 L671.3 1572.7 L671.9 1572.6 L672.5 1572.3 L673.2 1572.3 L674.0 1572.7 L675.0 1573.4 L675.8 1574.1 L676.6 1575.0 L677.2 1575.9 L677.8 1576.4 L678.5 1576.1 L679.3 1575.3 L680.0 1574.3 L680.8 1573.1 L681.6 1571.8 L682.3 1571.2 L683.0 1572.0 L683.7 1573.4 L684.4 1574.4 L685.0 1574.1 L685.7 1573.4 L686.4 1573.1 L687.2 1574.0 L687.9 1575.3 L688.7 1575.9 L689.2 1575.1 L689.8 1573.7 L690.5 1572.5 L691.4 1571.9 L692.5 1571.5 L693.5 1571.5 L694.4 1572.1 L695.2 1573.0 L696.1 1573.4 L697.3 1572.9 L698.7 1571.8 L700.0 1570.6 L701.4 1568.9 L702.7 1567.0 L704.0 1566.0 L705.1 1566.9 L706.0 1568.6 L707.0 1569.0 L708.1 1566.4 L709.3 1562.4 L710.5 1560.1 L711.6 1561.4 L712.7 1564.4 L713.9 1565.7 L715.2 1563.6 L716.7 1559.9 L718.1 1556.6 L719.5 1554.3 L720.9 1552.4 L722.3 1551.1 L723.8 1550.6 L725.3 1550.6 L726.5 1550.4 L727.3 1551.8 L728.0 1553.0 L728.5 1548.0 L729.0 1529.9 L729.5 1505.6 L730.0 1490.4 L730.5 1493.7 L731.2 1506.0 L732.0 1514.1 L733.3 1512.9 L734.9 1507.6 L736.2 1500.2 L737.0 1489.6 L737.6 1477.0 L738.3 1468.2 L739.2 1467.6 L740.1 1470.9 L741.1 1471.0 L742.2 1464.0 L743.4 1453.7 L744.5 1445.0 L745.4 1439.4 L746.3 1435.2 L747.1 1432.4 L747.8 1433.1 L748.4 1435.0 L749.4 1431.6 L751.0 1417.5 L752.9 1397.9 L754.5 1382.0 L755.5 1373.1 L756.1 1367.7 L756.9 1364.8 L757.9 1365.1 L759.0 1367.9 L760.0 1369.6 L761.0 1368.8 L762.0 1366.9 L762.8 1364.8 L763.4 1363.8 L763.9 1362.7 L764.4 1358.6 L764.8 1348.1 L765.1 1334.8 L765.5 1326.3 L765.8 1327.4 L766.2 1333.5 L766.7 1338.1 L767.4 1338.4 L768.3 1337.3 L769.1 1337.3 L769.9 1340.8 L770.6 1345.4 L771.4 1346.0 L772.2 1339.2 L773.0 1328.5 L773.8 1319.3 L774.5 1314.1 L775.2 1310.4 L776.1 1306.7 L777.6 1301.1 L779.3 1295.4 L780.8 1293.4 L781.7 1297.3 L782.3 1304.8 L782.8 1313.0 L783.1 1322.7 L783.3 1333.1 L783.6 1338.9 L784.1 1336.3 L784.6 1329.1 L785.2 1324.0 L785.8 1322.6 L786.4 1323.3 L787.1 1327.1 L788.1 1335.8 L789.3 1347.6 L790.3 1358.6 L790.9 1366.4 L791.3 1373.3 L791.8 1382.1 L792.5 1395.9 L793.3 1411.6 L794.2 1423.0 L795.2 1426.0 L796.3 1424.7 L797.3 1425.3 L798.1 1431.3 L798.9 1439.2 L799.7 1445.0 L800.7 1446.1 L801.8 1445.2 L802.8 1445.7 L803.7 1448.4 L804.4 1452.6 L805.2 1459.9 L805.8 1472.9 L806.4 1489.0 L807.3 1501.6 L809.1 1506.3 L811.2 1507.4 L812.9 1511.4 L813.7 1522.2 L814.0 1535.9 L814.5 1547.2 L815.5 1553.5 L816.8 1557.3 L818.1 1560.8 L819.6 1565.0 L821.2 1568.9 L822.6 1571.2 L823.7 1570.4 L824.5 1568.0 L825.4 1567.1 L826.0 1569.6 L826.6 1573.6 L828.1 1576.4 L831.4 1576.4 L835.6 1576.4 L839.0 1576.4 L840.6 1573.2 L841.4 1568.7 L842.1 1566.2 L842.9 1567.9 L843.6 1571.7 L844.4 1574.3 L845.3 1573.9 L846.3 1572.3 L847.1 1571.6 L847.6 1572.9 L848.1 1575.0 L848.9 1576.4 L850.5 1576.4 L852.5 1576.4 L854.3 1576.4 L855.8 1570.1 L857.2 1561.5 L858.4 1557.1 L859.3 1561.9 L860.0 1571.0 L860.7 1576.2 L861.5 1572.3 L862.4 1564.5 L863.4 1560.3 L864.5 1564.1 L865.8 1571.5 L867.0 1576.4 L868.1 1576.3 L869.2 1573.7 L870.2 1572.1 L870.9 1573.1 L871.6 1575.1 L872.5 1576.4 L874.0 1576.4 L875.9 1576.4 L877.4 1576.4 L878.4 1574.0 L879.0 1570.6 L879.7 1568.9 L880.3 1570.6 L880.9 1574.0 L882.0 1576.4 L884.2 1576.4 L886.9 1576.4 L889.2 1576.4 L890.6 1571.8 L891.5 1565.4 L892.4 1561.7 L893.4 1563.4 L894.3 1567.8 L895.1 1571.2 L895.7 1572.0 L896.3 1571.9 L896.9 1572.1 L897.7 1573.6 L898.6 1575.4 L899.6 1576.4 L900.7 1576.3 L901.8 1575.4 L902.8 1574.8 L903.6 1575.3 L904.3 1576.2 L905.1 1576.4 L906.2 1575.7 L907.5 1574.2 L908.7 1573.4 L909.6 1574.1 L910.4 1575.6 L911.4 1576.4 L912.9 1576.4 L914.5 1576.0 L915.9 1575.7 L916.6 1576.0 L917.1 1576.4 L917.8 1576.4 L919.2 1575.8 L920.9 1574.6 L922.3 1573.9 L923.1 1574.1 L923.7 1574.8 L924.0 1575.3" fill="none" stroke="#000" stroke-width="1.90" stroke-linejoin="round" stroke-linecap="round"/>
<rect x="236.00" y="1774.50" width="776.80" height="375.90" fill="none" stroke="#000" stroke-width="2.00"/>
<line x1="327.39" y1="2150.40" x2="327.39" y2="2143.90" stroke="#000" stroke-width="1.60"/>
<line x1="441.62" y1="2150.40" x2="441.62" y2="2143.90" stroke="#000" stroke-width="1.60"/>
<line x1="555.86" y1="2150.40" x2="555.86" y2="2143.90" stroke="#000" stroke-width="1.60"/>
<line x1="670.09" y1="2150.40" x2="670.09" y2="2143.90" stroke="#000" stroke-width="1.60"/>
<line x1="784.33" y1="2150.40" x2="784.33" y2="2143.90" stroke="#000" stroke-width="1.60"/>
<line x1="898.56" y1="2150.40" x2="898.56" y2="2143.90" stroke="#000" stroke-width="1.60"/>
<line x1="1012.80" y1="2096.70" x2="1005.80" y2="2096.70" stroke="#000" stroke-width="1.60"/>
<line x1="1012.80" y1="2043.00" x2="1005.80" y2="2043.00" stroke="#000" stroke-width="1.60"/>
<line x1="1012.80" y1="1989.30" x2="1005.80" y2="1989.30" stroke="#000" stroke-width="1.60"/>
<line x1="1012.80" y1="1935.60" x2="1005.80" y2="1935.60" stroke="#000" stroke-width="1.60"/>
<line x1="1012.80" y1="1881.90" x2="1005.80" y2="1881.90" stroke="#000" stroke-width="1.60"/>
<line x1="1012.80" y1="1828.20" x2="1005.80" y2="1828.20" stroke="#000" stroke-width="1.60"/>
<text x="1034.77" y="1781.80" font-family='"Liberation Sans", sans-serif' font-size="20.86" textLength="36.79" lengthAdjust="spacingAndGlyphs" fill="#222">700</text>
<text x="1034.78" y="1835.50" font-family='"Liberation Sans", sans-serif' font-size="20.86" textLength="36.78" lengthAdjust="spacingAndGlyphs" fill="#222">600</text>
<text x="1035.02" y="1889.20" font-family='"Liberation Sans", sans-serif' font-size="20.86" textLength="36.53" lengthAdjust="spacingAndGlyphs" fill="#222">500</text>
<text x="1035.40" y="1942.90" font-family='"Liberation Sans", sans-serif' font-size="20.86" textLength="36.14" lengthAdjust="spacingAndGlyphs" fill="#222">400</text>
<text x="1035.07" y="1996.60" font-family='"Liberation Sans", sans-serif' font-size="20.86" textLength="36.49" lengthAdjust="spacingAndGlyphs" fill="#222">300</text>
<text x="1034.79" y="2050.30" font-family='"Liberation Sans", sans-serif' font-size="20.86" textLength="36.77" lengthAdjust="spacingAndGlyphs" fill="#222">200</text>
<text x="1034.19" y="2104.00" font-family='"Liberation Sans", sans-serif' font-size="20.86" textLength="37.38" lengthAdjust="spacingAndGlyphs" fill="#222">100</text>
<text x="1035.11" y="2157.70" font-family='"Liberation Sans", sans-serif' font-size="20.86" textLength="11.29" lengthAdjust="spacingAndGlyphs" fill="#222">0</text>
<text x="308.89" y="2187.70" font-family='"Liberation Sans", sans-serif' font-size="20.71" textLength="37.04" lengthAdjust="spacingAndGlyphs" fill="#222">873</text>
<text x="423.29" y="2187.70" font-family='"Liberation Sans", sans-serif' font-size="20.71" textLength="37.03" lengthAdjust="spacingAndGlyphs" fill="#222">868</text>
<text x="537.29" y="2187.70" font-family='"Liberation Sans", sans-serif' font-size="20.71" textLength="37.04" lengthAdjust="spacingAndGlyphs" fill="#222">863</text>
<text x="652.09" y="2187.70" font-family='"Liberation Sans", sans-serif' font-size="20.71" textLength="37.03" lengthAdjust="spacingAndGlyphs" fill="#222">858</text>
<text x="765.89" y="2187.70" font-family='"Liberation Sans", sans-serif' font-size="20.71" textLength="37.04" lengthAdjust="spacingAndGlyphs" fill="#222">853</text>
<text x="880.09" y="2187.70" font-family='"Liberation Sans", sans-serif' font-size="20.71" textLength="37.03" lengthAdjust="spacingAndGlyphs" fill="#222">848</text>
<text x="994.29" y="2187.70" font-family='"Liberation Sans", sans-serif' font-size="20.71" textLength="37.04" lengthAdjust="spacingAndGlyphs" fill="#222">843</text>
<text x="520.35" y="2232.40" font-family='"Liberation Serif", serif' font-size="25.19" textLength="214.61" lengthAdjust="spacingAndGlyphs" fill="#222">Binding Energy(eV)</text>
<text transform="translate(1100.90 2034.04) rotate(-90)" x="0" y="0" font-family='"Liberation Serif", serif' font-size="26.56" textLength="143.19" lengthAdjust="spacingAndGlyphs" fill="#222">Intensity(cps)</text>
<text x="208.29" y="1751.30" font-family='"Liberation Serif", serif' font-size="31.15" textLength="132.08" lengthAdjust="spacingAndGlyphs" fill="#111">Ni2p Scan</text>
<path d="M644.30 2261.30 Q625.70 2276.15 644.30 2291.00 L645.10 2291.00 Q628.65 2276.15 645.10 2261.30 Z" fill="#000"/>
<text x="651.47" y="2290.20" font-family='"Liberation Serif", serif' font-size="38.64" textLength="14.43" lengthAdjust="spacingAndGlyphs" fill="#111">f</text>
<path d="M669.00 2261.30 Q688.20 2276.15 669.00 2291.00 L668.20 2291.00 Q685.25 2276.15 668.20 2261.30 Z" fill="#000"/>
<text x="244.58" y="2038.50" font-family='"Liberation Sans", sans-serif' font-size="27.91" textLength="135.03" lengthAdjust="spacingAndGlyphs" fill="#111">Ni2p 870eV</text>
<text x="452.98" y="2053.90" font-family='"Liberation Sans", sans-serif' font-size="26.45" textLength="135.13" lengthAdjust="spacingAndGlyphs" fill="#111">Ni2p 868eV</text>
<text x="610.18" y="1816.80" font-family='"Liberation Sans", sans-serif' font-size="27.91" textLength="135.24" lengthAdjust="spacingAndGlyphs" fill="#111">Ni2p 852eV</text>
<text x="869.40" y="1893.70" font-family='"Liberation Sans", sans-serif' font-size="26.74" textLength="133.91" lengthAdjust="spacingAndGlyphs" fill="#111">Ni2p 849eV</text>
<line x1="286.50" y1="2055.20" x2="369.00" y2="2051.00" stroke="#3a3a3a" stroke-width="1.30"/>
<line x1="430.70" y1="2067.80" x2="512.80" y2="2063.50" stroke="#3a3a3a" stroke-width="1.30"/>
<line x1="711.80" y1="1829.30" x2="792.00" y2="1825.20" stroke="#3a3a3a" stroke-width="1.30"/>
<line x1="854.80" y1="1905.40" x2="940.50" y2="1902.50" stroke="#3a3a3a" stroke-width="1.30"/>
<path d="M237.0 2150.4 L266.0 2150.4 L266.5 2150.3 L267.0 2150.3 L267.5 2150.3 L268.0 2150.3 L268.5 2150.3 L269.0 2150.3 L269.5 2150.3 L270.0 2150.3 L270.5 2150.3 L271.0 2150.3 L271.5 2150.3 L272.0 2150.3 L272.5 2150.3 L273.0 2150.3 L273.5 2150.3 L274.0 2150.3 L274.5 2150.3 L275.0 2150.2 L275.5 2150.2 L276.0 2150.2 L276.5 2150.2 L277.0 2150.2 L277.5 2150.2 L278.0 2150.2 L278.5 2150.1 L279.0 2150.1 L279.5 2150.1 L280.0 2150.1 L280.5 2150.1 L281.0 2150.1 L281.5 2150.0 L282.0 2150.0 L282.5 2150.0 L283.0 2150.0 L283.5 2149.9 L284.0 2149.9 L284.5 2149.9 L285.0 2149.8 L285.5 2149.8 L286.0 2149.8 L286.5 2149.7 L287.0 2149.7 L287.5 2149.7 L288.0 2149.6 L288.5 2149.6 L289.0 2149.5 L289.5 2149.5 L290.0 2149.4 L290.5 2149.4 L291.0 2149.3 L291.5 2149.3 L292.0 2149.2 L292.5 2149.1 L293.0 2149.1 L293.5 2149.0 L294.0 2148.9 L294.5 2148.8 L295.0 2148.7 L295.5 2148.7 L296.0 2148.6 L296.5 2148.5 L297.0 2148.4 L297.5 2148.3 L298.0 2148.1 L298.5 2148.0 L299.0 2147.9 L299.5 2147.8 L300.0 2147.7 L300.5 2147.5 L301.0 2147.4 L301.5 2147.2 L302.0 2147.1 L302.5 2146.9 L303.0 2146.7 L303.5 2146.6 L304.0 2146.4 L304.5 2146.2 L305.0 2146.0 L305.5 2145.8 L306.0 2145.6 L306.5 2145.4 L307.0 2145.2 L307.5 2144.9 L308.0 2144.7 L308.5 2144.4 L309.0 2144.2 L309.5 2143.9 L310.0 2143.6 L310.5 2143.3 L311.0 2143.0 L311.5 2142.7 L312.0 2142.4 L312.5 2142.1 L313.0 2141.7 L313.5 2141.4 L314.0 2141.0 L314.5 2140.6 L315.0 2140.2 L315.5 2139.8 L316.0 2139.4 L316.5 2139.0 L317.0 2138.6 L317.5 2138.1 L318.0 2137.7 L318.5 2137.2 L319.0 2136.7 L319.5 2136.2 L320.0 2135.7 L320.5 2135.1 L321.0 2134.6 L321.5 2134.1 L322.0 2133.5 L322.5 2132.9 L323.0 2132.3 L323.5 2131.7 L324.0 2131.1 L324.5 2130.4 L325.0 2129.8 L325.5 2129.1 L326.0 2128.4 L326.5 2127.7 L327.0 2127.0 L327.5 2126.3 L328.0 2125.5 L328.5 2124.8 L329.0 2124.0 L329.5 2123.2 L330.0 2122.4 L330.5 2121.6 L331.0 2120.8 L331.5 2120.0 L332.0 2119.1 L332.5 2118.2 L333.0 2117.4 L333.5 2116.5 L334.0 2115.6 L334.5 2114.7 L335.0 2113.7 L335.5 2112.8 L336.0 2111.8 L336.5 2110.9 L337.0 2109.9 L337.5 2108.9 L338.0 2107.9 L338.5 2106.9 L339.0 2105.9 L339.5 2104.9 L340.0 2103.9 L340.5 2102.8 L341.0 2101.8 L341.5 2100.8 L342.0 2099.7 L342.5 2098.6 L343.0 2097.6 L343.5 2096.5 L344.0 2095.4 L344.5 2094.4 L345.0 2093.3 L345.5 2092.2 L346.0 2091.1 L346.5 2090.1 L347.0 2089.0 L347.5 2087.9 L348.0 2086.8 L348.5 2085.8 L349.0 2084.7 L349.5 2083.6 L350.0 2082.6 L350.5 2081.5 L351.0 2080.5 L351.5 2079.5 L352.0 2078.4 L352.5 2077.4 L353.0 2076.4 L353.5 2075.4 L354.0 2074.4 L354.5 2073.4 L355.0 2072.5 L355.5 2071.5 L356.0 2070.6 L356.5 2069.7 L357.0 2068.8 L357.5 2067.9 L358.0 2067.0 L358.5 2066.2 L359.0 2065.4 L359.5 2064.6 L360.0 2063.8 L360.5 2063.0 L361.0 2062.3 L361.5 2061.6 L362.0 2060.9 L362.5 2060.2 L363.0 2059.6 L363.5 2059.0 L364.0 2058.4 L364.5 2057.8 L365.0 2057.3 L365.5 2056.7 L366.0 2056.3 L366.5 2055.8 L367.0 2055.4 L367.5 2055.0 L368.0 2054.6 L368.5 2054.3 L369.0 2054.0 L369.5 2053.7 L370.0 2053.5 L370.5 2053.3 L371.0 2053.1 L371.5 2053.0 L372.0 2052.8 L372.5 2052.8 L373.0 2052.7 L373.5 2052.7 L374.0 2052.7 L374.5 2052.8 L375.0 2052.9 L375.5 2053.0 L376.0 2053.2 L376.5 2053.3 L377.0 2053.6 L377.5 2053.8 L378.0 2054.2 L378.5 2054.5 L379.0 2054.9 L379.5 2055.3 L380.0 2055.7 L380.5 2056.2 L381.0 2056.7 L381.5 2057.2 L382.0 2057.8 L382.5 2058.4 L383.0 2059.0 L383.5 2059.7 L384.0 2060.4 L384.5 2061.1 L385.0 2061.8 L385.5 2062.6 L386.0 2063.4 L386.5 2064.2 L387.0 2065.0 L387.5 2065.9 L388.0 2066.8 L388.5 2067.7 L389.0 2068.6 L389.5 2069.6 L390.0 2070.5 L390.5 2071.5 L391.0 2072.5 L391.5 2073.5 L392.0 2074.5 L392.5 2075.6 L393.0 2076.7 L393.5 2077.7 L394.0 2078.8 L394.5 2079.9 L395.0 2081.0 L395.5 2082.1 L396.0 2083.2 L396.5 2084.3 L397.0 2085.5 L397.5 2086.6 L398.0 2087.7 L398.5 2088.9 L399.0 2090.0 L399.5 2091.1 L400.0 2092.3 L400.5 2093.4 L401.0 2094.6 L401.5 2095.7 L402.0 2096.8 L402.5 2098.0 L403.0 2099.1 L403.5 2100.2 L404.0 2101.3 L404.5 2102.4 L405.0 2103.5 L405.5 2104.6 L406.0 2105.7 L406.5 2106.7 L407.0 2107.8 L407.5 2108.9 L408.0 2109.9 L408.5 2110.9 L409.0 2111.9 L409.5 2112.9 L410.0 2113.9 L410.5 2114.9 L411.0 2115.9 L411.5 2116.8 L412.0 2117.8 L412.5 2118.7 L413.0 2119.6 L413.5 2120.5 L414.0 2121.4 L414.5 2122.2 L415.0 2123.1 L415.5 2123.9 L416.0 2124.7 L416.5 2125.5 L417.0 2126.3 L417.5 2127.1 L418.0 2127.8 L418.5 2128.6 L419.0 2129.3 L419.5 2130.0 L420.0 2130.7 L420.5 2131.3 L421.0 2132.0 L421.5 2132.6 L422.0 2133.2 L422.5 2133.9 L423.0 2134.4 L423.5 2135.0 L424.0 2135.6 L424.5 2136.1 L425.0 2136.7 L425.5 2137.2 L426.0 2137.7 L426.5 2138.2 L427.0 2138.6 L427.5 2139.1 L428.0 2139.5 L428.5 2140.0 L429.0 2140.4 L429.5 2140.8 L430.0 2141.2 L430.5 2141.6 L431.0 2141.9 L431.5 2142.3 L432.0 2142.6 L432.5 2143.0 L433.0 2143.3 L433.5 2143.6 L434.0 2143.9 L434.5 2144.2 L435.0 2144.4 L435.5 2144.7 L436.0 2145.0 L436.5 2145.2 L437.0 2145.4 L437.5 2145.7 L438.0 2145.9 L438.5 2146.1 L439.0 2146.3 L439.5 2146.5 L440.0 2146.7 L440.5 2146.9 L441.0 2147.0 L441.5 2147.2 L442.0 2147.4 L442.5 2147.5 L443.0 2147.7 L443.5 2147.8 L444.0 2147.9 L444.5 2148.1 L445.0 2148.2 L445.5 2148.3 L446.0 2148.4 L446.5 2148.5 L447.0 2148.6 L447.5 2148.7 L448.0 2148.8 L448.5 2148.9 L449.0 2149.0 L449.5 2149.0 L450.0 2149.1 L450.5 2149.2 L451.0 2149.3 L451.5 2149.3 L452.0 2149.4 L452.5 2149.4 L453.0 2149.5 L453.5 2149.5 L454.0 2149.6 L454.5 2149.6 L455.0 2149.7 L455.5 2149.7 L456.0 2149.8 L456.5 2149.8 L457.0 2149.8 L457.5 2149.9 L458.0 2149.9 L458.5 2149.9 L459.0 2150.0 L459.5 2150.0 L460.0 2150.0 L460.5 2150.0 L461.0 2150.1 L461.5 2150.1 L462.0 2150.1 L462.5 2150.1 L463.0 2150.1 L463.5 2150.2 L464.0 2150.2 L464.5 2150.2 L465.0 2150.2 L465.5 2150.2 L466.0 2150.2 L466.5 2150.2 L467.0 2150.2 L467.5 2150.3 L468.0 2150.3 L468.5 2150.3 L469.0 2150.3 L469.5 2150.3 L470.0 2150.3 L470.5 2150.3 L471.0 2150.3 L471.5 2150.3 L472.0 2150.3 L472.5 2150.3 L473.0 2150.3 L473.5 2150.3 L474.0 2150.3 L474.5 2150.3 L475.0 2150.4 L1011.5 2150.4" fill="none" stroke="#000" stroke-width="2.45" stroke-linejoin="round" stroke-linecap="round"/>
<path d="M237.0 2150.4 L325.5 2150.4 L326.0 2150.3 L326.5 2150.3 L327.0 2150.3 L327.5 2150.3 L328.0 2150.3 L328.5 2150.3 L329.0 2150.3 L329.5 2150.3 L330.0 2150.3 L330.5 2150.3 L331.0 2150.3 L331.5 2150.3 L332.0 2150.3 L332.5 2150.3 L333.0 2150.3 L333.5 2150.3 L334.0 2150.2 L334.5 2150.2 L335.0 2150.2 L335.5 2150.2 L336.0 2150.2 L336.5 2150.2 L337.0 2150.2 L337.5 2150.2 L338.0 2150.1 L338.5 2150.1 L339.0 2150.1 L339.5 2150.1 L340.0 2150.1 L340.5 2150.1 L341.0 2150.0 L341.5 2150.0 L342.0 2150.0 L342.5 2150.0 L343.0 2149.9 L343.5 2149.9 L344.0 2149.9 L344.5 2149.8 L345.0 2149.8 L345.5 2149.8 L346.0 2149.7 L346.5 2149.7 L347.0 2149.6 L347.5 2149.6 L348.0 2149.6 L348.5 2149.5 L349.0 2149.5 L349.5 2149.4 L350.0 2149.3 L350.5 2149.3 L351.0 2149.2 L351.5 2149.2 L352.0 2149.1 L352.5 2149.0 L353.0 2148.9 L353.5 2148.9 L354.0 2148.8 L354.5 2148.7 L355.0 2148.6 L355.5 2148.5 L356.0 2148.4 L356.5 2148.3 L357.0 2148.2 L357.5 2148.1 L358.0 2148.0 L358.5 2147.9 L359.0 2147.7 L359.5 2147.6 L360.0 2147.5 L360.5 2147.3 L361.0 2147.2 L361.5 2147.0 L362.0 2146.9 L362.5 2146.7 L363.0 2146.5 L363.5 2146.3 L364.0 2146.1 L364.5 2145.9 L365.0 2145.7 L365.5 2145.5 L366.0 2145.3 L366.5 2145.1 L367.0 2144.9 L367.5 2144.6 L368.0 2144.4 L368.5 2144.1 L369.0 2143.8 L369.5 2143.6 L370.0 2143.3 L370.5 2143.0 L371.0 2142.7 L371.5 2142.3 L372.0 2142.0 L372.5 2141.7 L373.0 2141.3 L373.5 2141.0 L374.0 2140.6 L374.5 2140.2 L375.0 2139.8 L375.5 2139.4 L376.0 2139.0 L376.5 2138.6 L377.0 2138.1 L377.5 2137.7 L378.0 2137.2 L378.5 2136.8 L379.0 2136.3 L379.5 2135.8 L380.0 2135.3 L380.5 2134.7 L381.0 2134.2 L381.5 2133.7 L382.0 2133.1 L382.5 2132.5 L383.0 2131.9 L383.5 2131.3 L384.0 2130.7 L384.5 2130.1 L385.0 2129.5 L385.5 2128.8 L386.0 2128.2 L386.5 2127.5 L387.0 2126.8 L387.5 2126.1 L388.0 2125.4 L388.5 2124.7 L389.0 2123.9 L389.5 2123.2 L390.0 2122.4 L390.5 2121.7 L391.0 2120.9 L391.5 2120.1 L392.0 2119.3 L392.5 2118.5 L393.0 2117.7 L393.5 2116.8 L394.0 2116.0 L394.5 2115.1 L395.0 2114.3 L395.5 2113.4 L396.0 2112.5 L396.5 2111.7 L397.0 2110.8 L397.5 2109.9 L398.0 2109.0 L398.5 2108.1 L399.0 2107.2 L399.5 2106.2 L400.0 2105.3 L400.5 2104.4 L401.0 2103.5 L401.5 2102.5 L402.0 2101.6 L402.5 2100.7 L403.0 2099.7 L403.5 2098.8 L404.0 2097.9 L404.5 2097.0 L405.0 2096.0 L405.5 2095.1 L406.0 2094.2 L406.5 2093.3 L407.0 2092.4 L407.5 2091.5 L408.0 2090.6 L408.5 2089.7 L409.0 2088.8 L409.5 2087.9 L410.0 2087.0 L410.5 2086.2 L411.0 2085.3 L411.5 2084.5 L412.0 2083.7 L412.5 2082.9 L413.0 2082.1 L413.5 2081.3 L414.0 2080.5 L414.5 2079.8 L415.0 2079.1 L415.5 2078.3 L416.0 2077.7 L416.5 2077.0 L417.0 2076.3 L417.5 2075.7 L418.0 2075.1 L418.5 2074.5 L419.0 2073.9 L419.5 2073.3 L420.0 2072.8 L420.5 2072.3 L421.0 2071.8 L421.5 2071.3 L422.0 2070.9 L422.5 2070.5 L423.0 2070.1 L423.5 2069.7 L424.0 2069.4 L424.5 2069.1 L425.0 2068.8 L425.5 2068.5 L426.0 2068.3 L426.5 2068.1 L427.0 2067.9 L427.5 2067.8 L428.0 2067.7 L428.5 2067.6 L429.0 2067.5 L429.5 2067.5 L430.0 2067.5 L430.5 2067.5 L431.0 2067.6 L431.5 2067.7 L432.0 2067.8 L432.5 2067.9 L433.0 2068.1 L433.5 2068.3 L434.0 2068.5 L434.5 2068.7 L435.0 2069.0 L435.5 2069.3 L436.0 2069.7 L436.5 2070.0 L437.0 2070.4 L437.5 2070.8 L438.0 2071.2 L438.5 2071.7 L439.0 2072.2 L439.5 2072.7 L440.0 2073.2 L440.5 2073.8 L441.0 2074.3 L441.5 2074.9 L442.0 2075.5 L442.5 2076.2 L443.0 2076.8 L443.5 2077.5 L444.0 2078.2 L444.5 2078.9 L445.0 2079.6 L445.5 2080.4 L446.0 2081.2 L446.5 2081.9 L447.0 2082.7 L447.5 2083.5 L448.0 2084.3 L448.5 2085.2 L449.0 2086.0 L449.5 2086.9 L450.0 2087.7 L450.5 2088.6 L451.0 2089.5 L451.5 2090.4 L452.0 2091.3 L452.5 2092.2 L453.0 2093.1 L453.5 2094.0 L454.0 2094.9 L454.5 2095.8 L455.0 2096.8 L455.5 2097.7 L456.0 2098.6 L456.5 2099.6 L457.0 2100.5 L457.5 2101.4 L458.0 2102.4 L458.5 2103.3 L459.0 2104.2 L459.5 2105.1 L460.0 2106.1 L460.5 2107.0 L461.0 2107.9 L461.5 2108.8 L462.0 2109.7 L462.5 2110.6 L463.0 2111.5 L463.5 2112.4 L464.0 2113.2 L464.5 2114.1 L465.0 2115.0 L465.5 2115.8 L466.0 2116.7 L466.5 2117.5 L467.0 2118.3 L467.5 2119.1 L468.0 2119.9 L468.5 2120.7 L469.0 2121.5 L469.5 2122.3 L470.0 2123.0 L470.5 2123.8 L471.0 2124.5 L471.5 2125.2 L472.0 2126.0 L472.5 2126.7 L473.0 2127.4 L473.5 2128.0 L474.0 2128.7 L474.5 2129.3 L475.0 2130.0 L475.5 2130.6 L476.0 2131.2 L476.5 2131.8 L477.0 2132.4 L477.5 2133.0 L478.0 2133.6 L478.5 2134.1 L479.0 2134.6 L479.5 2135.2 L480.0 2135.7 L480.5 2136.2 L481.0 2136.7 L481.5 2137.1 L482.0 2137.6 L482.5 2138.1 L483.0 2138.5 L483.5 2138.9 L484.0 2139.3 L484.5 2139.8 L485.0 2140.1 L485.5 2140.5 L486.0 2140.9 L486.5 2141.3 L487.0 2141.6 L487.5 2141.9 L488.0 2142.3 L488.5 2142.6 L489.0 2142.9 L489.5 2143.2 L490.0 2143.5 L490.5 2143.8 L491.0 2144.0 L491.5 2144.3 L492.0 2144.6 L492.5 2144.8 L493.0 2145.0 L493.5 2145.3 L494.0 2145.5 L494.5 2145.7 L495.0 2145.9 L495.5 2146.1 L496.0 2146.3 L496.5 2146.5 L497.0 2146.7 L497.5 2146.8 L498.0 2147.0 L498.5 2147.1 L499.0 2147.3 L499.5 2147.4 L500.0 2147.6 L500.5 2147.7 L501.0 2147.8 L501.5 2148.0 L502.0 2148.1 L502.5 2148.2 L503.0 2148.3 L503.5 2148.4 L504.0 2148.5 L504.5 2148.6 L505.0 2148.7 L505.5 2148.8 L506.0 2148.9 L506.5 2148.9 L507.0 2149.0 L507.5 2149.1 L508.0 2149.1 L508.5 2149.2 L509.0 2149.3 L509.5 2149.3 L510.0 2149.4 L510.5 2149.4 L511.0 2149.5 L511.5 2149.5 L512.0 2149.6 L512.5 2149.6 L513.0 2149.7 L513.5 2149.7 L514.0 2149.8 L514.5 2149.8 L515.0 2149.8 L515.5 2149.9 L516.0 2149.9 L516.5 2149.9 L517.0 2149.9 L517.5 2150.0 L518.0 2150.0 L518.5 2150.0 L519.0 2150.0 L519.5 2150.1 L520.0 2150.1 L520.5 2150.1 L521.0 2150.1 L521.5 2150.1 L522.0 2150.2 L522.5 2150.2 L523.0 2150.2 L523.5 2150.2 L524.0 2150.2 L524.5 2150.2 L525.0 2150.2 L525.5 2150.2 L526.0 2150.3 L526.5 2150.3 L527.0 2150.3 L527.5 2150.3 L528.0 2150.3 L528.5 2150.3 L529.0 2150.3 L529.5 2150.3 L530.0 2150.3 L530.5 2150.3 L531.0 2150.3 L531.5 2150.3 L532.0 2150.3 L532.5 2150.3 L533.0 2150.3 L533.5 2150.3 L534.0 2150.4 L1011.5 2150.4" fill="none" stroke="#000" stroke-width="2.45" stroke-linejoin="round" stroke-linecap="round"/>
<path d="M237.0 2150.4 L685.0 2150.4 L685.5 2150.3 L686.0 2150.3 L686.5 2150.3 L687.0 2150.3 L687.5 2150.3 L688.0 2150.3 L688.5 2150.3 L689.0 2150.3 L689.5 2150.3 L690.0 2150.3 L690.5 2150.3 L691.0 2150.3 L691.5 2150.3 L692.0 2150.3 L692.5 2150.3 L693.0 2150.2 L693.5 2150.2 L694.0 2150.2 L694.5 2150.2 L695.0 2150.2 L695.5 2150.2 L696.0 2150.2 L696.5 2150.1 L697.0 2150.1 L697.5 2150.1 L698.0 2150.1 L698.5 2150.0 L699.0 2150.0 L699.5 2150.0 L700.0 2150.0 L700.5 2149.9 L701.0 2149.9 L701.5 2149.9 L702.0 2149.8 L702.5 2149.8 L703.0 2149.8 L703.5 2149.7 L704.0 2149.7 L704.5 2149.6 L705.0 2149.6 L705.5 2149.5 L706.0 2149.4 L706.5 2149.4 L707.0 2149.3 L707.5 2149.2 L708.0 2149.2 L708.5 2149.1 L709.0 2149.0 L709.5 2148.9 L710.0 2148.8 L710.5 2148.7 L711.0 2148.6 L711.5 2148.5 L712.0 2148.4 L712.5 2148.3 L713.0 2148.1 L713.5 2148.0 L714.0 2147.8 L714.5 2147.7 L715.0 2147.5 L715.5 2147.3 L716.0 2147.2 L716.5 2147.0 L717.0 2146.8 L717.5 2146.6 L718.0 2146.3 L718.5 2146.1 L719.0 2145.9 L719.5 2145.6 L720.0 2145.3 L720.5 2145.1 L721.0 2144.8 L721.5 2144.4 L722.0 2144.1 L722.5 2143.8 L723.0 2143.4 L723.5 2143.1 L724.0 2142.7 L724.5 2142.3 L725.0 2141.8 L725.5 2141.4 L726.0 2140.9 L726.5 2140.4 L727.0 2139.9 L727.5 2139.4 L728.0 2138.8 L728.5 2138.3 L729.0 2137.7 L729.5 2137.0 L730.0 2136.4 L730.5 2135.7 L731.0 2135.0 L731.5 2134.3 L732.0 2133.5 L732.5 2132.7 L733.0 2131.9 L733.5 2131.0 L734.0 2130.2 L734.5 2129.2 L735.0 2128.3 L735.5 2127.3 L736.0 2126.3 L736.5 2125.2 L737.0 2124.1 L737.5 2123.0 L738.0 2121.8 L738.5 2120.6 L739.0 2119.4 L739.5 2118.1 L740.0 2116.8 L740.5 2115.4 L741.0 2114.0 L741.5 2112.5 L742.0 2111.0 L742.5 2109.4 L743.0 2107.8 L743.5 2106.2 L744.0 2104.5 L744.5 2102.8 L745.0 2101.0 L745.5 2099.1 L746.0 2097.3 L746.5 2095.3 L747.0 2093.3 L747.5 2091.3 L748.0 2089.2 L748.5 2087.1 L749.0 2084.9 L749.5 2082.6 L750.0 2080.3 L750.5 2078.0 L751.0 2075.6 L751.5 2073.2 L752.0 2070.7 L752.5 2068.1 L753.0 2065.5 L753.5 2062.8 L754.0 2060.1 L754.5 2057.4 L755.0 2054.6 L755.5 2051.7 L756.0 2048.8 L756.5 2045.9 L757.0 2042.9 L757.5 2039.8 L758.0 2036.7 L758.5 2033.6 L759.0 2030.4 L759.5 2027.2 L760.0 2023.9 L760.5 2020.6 L761.0 2017.3 L761.5 2013.9 L762.0 2010.5 L762.5 2007.0 L763.0 2003.5 L763.5 2000.0 L764.0 1996.4 L764.5 1992.9 L765.0 1989.3 L765.5 1985.6 L766.0 1982.0 L766.5 1978.3 L767.0 1974.6 L767.5 1970.9 L768.0 1967.2 L768.5 1963.5 L769.0 1959.8 L769.5 1956.0 L770.0 1952.3 L770.5 1948.6 L771.0 1944.8 L771.5 1941.1 L772.0 1937.4 L772.5 1933.7 L773.0 1930.0 L773.5 1926.3 L774.0 1922.6 L774.5 1919.0 L775.0 1915.4 L775.5 1911.8 L776.0 1908.3 L776.5 1904.7 L777.0 1901.3 L777.5 1897.8 L778.0 1894.4 L778.5 1891.1 L779.0 1887.8 L779.5 1884.5 L780.0 1881.4 L780.5 1878.2 L781.0 1875.2 L781.5 1872.1 L782.0 1869.2 L782.5 1866.3 L783.0 1863.5 L783.5 1860.8 L784.0 1858.2 L784.5 1855.6 L785.0 1853.1 L785.5 1850.8 L786.0 1848.5 L786.5 1846.2 L787.0 1844.1 L787.5 1842.1 L788.0 1840.2 L788.5 1838.3 L789.0 1836.6 L789.5 1835.0 L790.0 1833.5 L790.5 1832.1 L791.0 1830.8 L791.5 1829.6 L792.0 1828.5 L792.5 1827.5 L793.0 1826.6 L793.5 1825.9 L794.0 1825.3 L794.5 1824.7 L795.0 1824.3 L795.5 1824.0 L796.0 1823.9 L796.5 1823.8 L797.0 1823.9 L797.5 1824.0 L798.0 1824.3 L798.5 1824.7 L799.0 1825.3 L799.5 1825.9 L800.0 1826.6 L800.5 1827.5 L801.0 1828.5 L801.5 1829.6 L802.0 1830.8 L802.5 1832.1 L803.0 1833.5 L803.5 1835.0 L804.0 1836.6 L804.5 1838.3 L805.0 1840.2 L805.5 1842.1 L806.0 1844.1 L806.5 1846.2 L807.0 1848.5 L807.5 1850.8 L808.0 1853.1 L808.5 1855.6 L809.0 1858.2 L809.5 1860.8 L810.0 1863.5 L810.5 1866.3 L811.0 1869.2 L811.5 1872.1 L812.0 1875.2 L812.5 1878.2 L813.0 1881.4 L813.5 1884.5 L814.0 1887.8 L814.5 1891.1 L815.0 1894.4 L815.5 1897.8 L816.0 1901.3 L816.5 1904.7 L817.0 1908.3 L817.5 1911.8 L818.0 1915.4 L818.5 1919.0 L819.0 1922.6 L819.5 1926.3 L820.0 1930.0 L820.5 1933.7 L821.0 1937.4 L821.5 1941.1 L822.0 1944.8 L822.5 1948.6 L823.0 1952.3 L823.5 1956.0 L824.0 1959.8 L824.5 1963.5 L825.0 1967.2 L825.5 1970.9 L826.0 1974.6 L826.5 1978.3 L827.0 1982.0 L827.5 1985.6 L828.0 1989.3 L828.5 1992.9 L829.0 1996.4 L829.5 2000.0 L830.0 2003.5 L830.5 2007.0 L831.0 2010.5 L831.5 2013.9 L832.0 2017.3 L832.5 2020.6 L833.0 2023.9 L833.5 2027.2 L834.0 2030.4 L834.5 2033.6 L835.0 2036.7 L835.5 2039.8 L836.0 2042.9 L836.5 2045.9 L837.0 2048.8 L837.5 2051.7 L838.0 2054.6 L838.5 2057.4 L839.0 2060.1 L839.5 2062.8 L840.0 2065.5 L840.5 2068.1 L841.0 2070.7 L841.5 2073.2 L842.0 2075.6 L842.5 2078.0 L843.0 2080.3 L843.5 2082.6 L844.0 2084.9 L844.5 2087.1 L845.0 2089.2 L845.5 2091.3 L846.0 2093.3 L846.5 2095.3 L847.0 2097.3 L847.5 2099.1 L848.0 2101.0 L848.5 2102.8 L849.0 2104.5 L849.5 2106.2 L850.0 2107.8 L850.5 2109.4 L851.0 2111.0 L851.5 2112.5 L852.0 2114.0 L852.5 2115.4 L853.0 2116.8 L853.5 2118.1 L854.0 2119.4 L854.5 2120.6 L855.0 2121.8 L855.5 2123.0 L856.0 2124.1 L856.5 2125.2 L857.0 2126.3 L857.5 2127.3 L858.0 2128.3 L858.5 2129.2 L859.0 2130.2 L859.5 2131.0 L860.0 2131.9 L860.5 2132.7 L861.0 2133.5 L861.5 2134.3 L862.0 2135.0 L862.5 2135.7 L863.0 2136.4 L863.5 2137.0 L864.0 2137.7 L864.5 2138.3 L865.0 2138.8 L865.5 2139.4 L866.0 2139.9 L866.5 2140.4 L867.0 2140.9 L867.5 2141.4 L868.0 2141.8 L868.5 2142.3 L869.0 2142.7 L869.5 2143.1 L870.0 2143.4 L870.5 2143.8 L871.0 2144.1 L871.5 2144.4 L872.0 2144.8 L872.5 2145.1 L873.0 2145.3 L873.5 2145.6 L874.0 2145.9 L874.5 2146.1 L875.0 2146.3 L875.5 2146.6 L876.0 2146.8 L876.5 2147.0 L877.0 2147.2 L877.5 2147.3 L878.0 2147.5 L878.5 2147.7 L879.0 2147.8 L879.5 2148.0 L880.0 2148.1 L880.5 2148.3 L881.0 2148.4 L881.5 2148.5 L882.0 2148.6 L882.5 2148.7 L883.0 2148.8 L883.5 2148.9 L884.0 2149.0 L884.5 2149.1 L885.0 2149.2 L885.5 2149.2 L886.0 2149.3 L886.5 2149.4 L887.0 2149.4 L887.5 2149.5 L888.0 2149.6 L888.5 2149.6 L889.0 2149.7 L889.5 2149.7 L890.0 2149.8 L890.5 2149.8 L891.0 2149.8 L891.5 2149.9 L892.0 2149.9 L892.5 2149.9 L893.0 2150.0 L893.5 2150.0 L894.0 2150.0 L894.5 2150.0 L895.0 2150.1 L895.5 2150.1 L896.0 2150.1 L896.5 2150.1 L897.0 2150.2 L897.5 2150.2 L898.0 2150.2 L898.5 2150.2 L899.0 2150.2 L899.5 2150.2 L900.0 2150.2 L900.5 2150.3 L901.0 2150.3 L901.5 2150.3 L902.0 2150.3 L902.5 2150.3 L903.0 2150.3 L903.5 2150.3 L904.0 2150.3 L904.5 2150.3 L905.0 2150.3 L905.5 2150.3 L906.0 2150.3 L906.5 2150.3 L907.0 2150.3 L907.5 2150.3 L908.0 2150.4 L1011.5 2150.4" fill="none" stroke="#000" stroke-width="2.45" stroke-linejoin="round" stroke-linecap="round"/>
<path d="M237.0 2150.4 L751.0 2150.4 L751.5 2150.3 L752.0 2150.3 L752.5 2150.3 L753.0 2150.3 L753.5 2150.3 L754.0 2150.3 L754.5 2150.3 L755.0 2150.3 L755.5 2150.3 L756.0 2150.3 L756.5 2150.3 L757.0 2150.3 L757.5 2150.3 L758.0 2150.3 L758.5 2150.2 L759.0 2150.2 L759.5 2150.2 L760.0 2150.2 L760.5 2150.2 L761.0 2150.2 L761.5 2150.2 L762.0 2150.1 L762.5 2150.1 L763.0 2150.1 L763.5 2150.1 L764.0 2150.0 L764.5 2150.0 L765.0 2150.0 L765.5 2150.0 L766.0 2149.9 L766.5 2149.9 L767.0 2149.9 L767.5 2149.8 L768.0 2149.8 L768.5 2149.7 L769.0 2149.7 L769.5 2149.6 L770.0 2149.6 L770.5 2149.5 L771.0 2149.5 L771.5 2149.4 L772.0 2149.3 L772.5 2149.3 L773.0 2149.2 L773.5 2149.1 L774.0 2149.0 L774.5 2149.0 L775.0 2148.9 L775.5 2148.8 L776.0 2148.7 L776.5 2148.5 L777.0 2148.4 L777.5 2148.3 L778.0 2148.2 L778.5 2148.0 L779.0 2147.9 L779.5 2147.7 L780.0 2147.6 L780.5 2147.4 L781.0 2147.2 L781.5 2147.0 L782.0 2146.8 L782.5 2146.6 L783.0 2146.4 L783.5 2146.2 L784.0 2145.9 L784.5 2145.7 L785.0 2145.4 L785.5 2145.1 L786.0 2144.8 L786.5 2144.5 L787.0 2144.2 L787.5 2143.9 L788.0 2143.5 L788.5 2143.1 L789.0 2142.8 L789.5 2142.4 L790.0 2141.9 L790.5 2141.5 L791.0 2141.0 L791.5 2140.6 L792.0 2140.1 L792.5 2139.5 L793.0 2139.0 L793.5 2138.4 L794.0 2137.8 L794.5 2137.2 L795.0 2136.6 L795.5 2135.9 L796.0 2135.2 L796.5 2134.5 L797.0 2133.8 L797.5 2133.0 L798.0 2132.2 L798.5 2131.4 L799.0 2130.5 L799.5 2129.6 L800.0 2128.7 L800.5 2127.7 L801.0 2126.7 L801.5 2125.7 L802.0 2124.6 L802.5 2123.6 L803.0 2122.4 L803.5 2121.3 L804.0 2120.1 L804.5 2118.8 L805.0 2117.5 L805.5 2116.2 L806.0 2114.9 L806.5 2113.5 L807.0 2112.0 L807.5 2110.6 L808.0 2109.1 L808.5 2107.5 L809.0 2105.9 L809.5 2104.3 L810.0 2102.6 L810.5 2100.9 L811.0 2099.1 L811.5 2097.3 L812.0 2095.4 L812.5 2093.5 L813.0 2091.6 L813.5 2089.6 L814.0 2087.6 L814.5 2085.5 L815.0 2083.4 L815.5 2081.3 L816.0 2079.1 L816.5 2076.9 L817.0 2074.6 L817.5 2072.3 L818.0 2069.9 L818.5 2067.5 L819.0 2065.1 L819.5 2062.6 L820.0 2060.1 L820.5 2057.6 L821.0 2055.0 L821.5 2052.4 L822.0 2049.8 L822.5 2047.1 L823.0 2044.4 L823.5 2041.7 L824.0 2038.9 L824.5 2036.2 L825.0 2033.4 L825.5 2030.5 L826.0 2027.7 L826.5 2024.8 L827.0 2021.9 L827.5 2019.0 L828.0 2016.1 L828.5 2013.2 L829.0 2010.2 L829.5 2007.3 L830.0 2004.3 L830.5 2001.4 L831.0 1998.4 L831.5 1995.5 L832.0 1992.5 L832.5 1989.6 L833.0 1986.6 L833.5 1983.7 L834.0 1980.8 L834.5 1977.9 L835.0 1975.0 L835.5 1972.2 L836.0 1969.3 L836.5 1966.5 L837.0 1963.7 L837.5 1961.0 L838.0 1958.2 L838.5 1955.6 L839.0 1952.9 L839.5 1950.3 L840.0 1947.7 L840.5 1945.2 L841.0 1942.8 L841.5 1940.3 L842.0 1938.0 L842.5 1935.7 L843.0 1933.4 L843.5 1931.2 L844.0 1929.1 L844.5 1927.0 L845.0 1925.0 L845.5 1923.1 L846.0 1921.3 L846.5 1919.5 L847.0 1917.8 L847.5 1916.2 L848.0 1914.6 L848.5 1913.2 L849.0 1911.8 L849.5 1910.5 L850.0 1909.3 L850.5 1908.1 L851.0 1907.1 L851.5 1906.2 L852.0 1905.3 L852.5 1904.5 L853.0 1903.9 L853.5 1903.3 L854.0 1902.8 L854.5 1902.4 L855.0 1902.1 L855.5 1901.9 L856.0 1901.8 L856.5 1901.8 L857.0 1901.9 L857.5 1902.1 L858.0 1902.4 L858.5 1902.8 L859.0 1903.3 L859.5 1903.9 L860.0 1904.6 L860.5 1905.4 L861.0 1906.3 L861.5 1907.3 L862.0 1908.4 L862.5 1909.6 L863.0 1910.9 L863.5 1912.3 L864.0 1913.8 L864.5 1915.3 L865.0 1917.0 L865.5 1918.7 L866.0 1920.5 L866.5 1922.4 L867.0 1924.4 L867.5 1926.5 L868.0 1928.6 L868.5 1930.8 L869.0 1933.1 L869.5 1935.4 L870.0 1937.8 L870.5 1940.2 L871.0 1942.8 L871.5 1945.3 L872.0 1947.9 L872.5 1950.6 L873.0 1953.3 L873.5 1956.1 L874.0 1958.9 L874.5 1961.7 L875.0 1964.6 L875.5 1967.5 L876.0 1970.5 L876.5 1973.4 L877.0 1976.4 L877.5 1979.4 L878.0 1982.5 L878.5 1985.5 L879.0 1988.6 L879.5 1991.6 L880.0 1994.7 L880.5 1997.8 L881.0 2000.8 L881.5 2003.9 L882.0 2007.0 L882.5 2010.1 L883.0 2013.1 L883.5 2016.2 L884.0 2019.2 L884.5 2022.2 L885.0 2025.2 L885.5 2028.2 L886.0 2031.2 L886.5 2034.1 L887.0 2037.0 L887.5 2039.9 L888.0 2042.8 L888.5 2045.6 L889.0 2048.4 L889.5 2051.1 L890.0 2053.9 L890.5 2056.6 L891.0 2059.2 L891.5 2061.8 L892.0 2064.4 L892.5 2066.9 L893.0 2069.4 L893.5 2071.9 L894.0 2074.3 L894.5 2076.7 L895.0 2079.0 L895.5 2081.3 L896.0 2083.5 L896.5 2085.7 L897.0 2087.8 L897.5 2089.9 L898.0 2092.0 L898.5 2094.0 L899.0 2096.0 L899.5 2097.9 L900.0 2099.7 L900.5 2101.6 L901.0 2103.3 L901.5 2105.1 L902.0 2106.8 L902.5 2108.4 L903.0 2110.0 L903.5 2111.5 L904.0 2113.0 L904.5 2114.5 L905.0 2115.9 L905.5 2117.3 L906.0 2118.6 L906.5 2119.9 L907.0 2121.2 L907.5 2122.4 L908.0 2123.6 L908.5 2124.7 L909.0 2125.8 L909.5 2126.9 L910.0 2127.9 L910.5 2128.9 L911.0 2129.8 L911.5 2130.8 L912.0 2131.6 L912.5 2132.5 L913.0 2133.3 L913.5 2134.1 L914.0 2134.9 L914.5 2135.6 L915.0 2136.3 L915.5 2137.0 L916.0 2137.6 L916.5 2138.3 L917.0 2138.8 L917.5 2139.4 L918.0 2140.0 L918.5 2140.5 L919.0 2141.0 L919.5 2141.5 L920.0 2141.9 L920.5 2142.4 L921.0 2142.8 L921.5 2143.2 L922.0 2143.6 L922.5 2143.9 L923.0 2144.3 L923.5 2144.6 L924.0 2144.9 L924.5 2145.2 L925.0 2145.5 L925.5 2145.8 L926.0 2146.1 L926.5 2146.3 L927.0 2146.5 L927.5 2146.8 L928.0 2147.0 L928.5 2147.2 L929.0 2147.4 L929.5 2147.5 L930.0 2147.7 L930.5 2147.9 L931.0 2148.0 L931.5 2148.2 L932.0 2148.3 L932.5 2148.4 L933.0 2148.5 L933.5 2148.7 L934.0 2148.8 L934.5 2148.9 L935.0 2149.0 L935.5 2149.1 L936.0 2149.1 L936.5 2149.2 L937.0 2149.3 L937.5 2149.4 L938.0 2149.4 L938.5 2149.5 L939.0 2149.6 L939.5 2149.6 L940.0 2149.7 L940.5 2149.7 L941.0 2149.8 L941.5 2149.8 L942.0 2149.9 L942.5 2149.9 L943.0 2149.9 L943.5 2150.0 L944.0 2150.0 L944.5 2150.0 L945.0 2150.0 L945.5 2150.1 L946.0 2150.1 L946.5 2150.1 L947.0 2150.1 L947.5 2150.2 L948.0 2150.2 L948.5 2150.2 L949.0 2150.2 L949.5 2150.2 L950.0 2150.2 L950.5 2150.2 L951.0 2150.3 L951.5 2150.3 L952.0 2150.3 L952.5 2150.3 L953.0 2150.3 L953.5 2150.3 L954.0 2150.3 L954.5 2150.3 L955.0 2150.3 L955.5 2150.3 L956.0 2150.3 L956.5 2150.3 L957.0 2150.3 L957.5 2150.4 L1011.5 2150.4" fill="none" stroke="#000" stroke-width="2.45" stroke-linejoin="round" stroke-linecap="round"/>
<path d="M237.0 2150.4 L266.0 2150.4 L266.5 2150.3 L267.0 2150.3 L267.5 2150.3 L268.0 2150.3 L268.5 2150.3 L269.0 2150.3 L269.5 2150.3 L270.0 2150.3 L270.5 2150.3 L271.0 2150.3 L271.5 2150.3 L272.0 2150.3 L272.5 2150.3 L273.0 2150.3 L273.5 2150.3 L274.0 2150.3 L274.5 2150.3 L275.0 2150.2 L275.5 2150.2 L276.0 2150.2 L276.5 2150.2 L277.0 2150.2 L277.5 2150.2 L278.0 2150.2 L278.5 2150.1 L279.0 2150.1 L279.5 2150.1 L280.0 2150.1 L280.5 2150.1 L281.0 2150.1 L281.5 2150.0 L282.0 2150.0 L282.5 2150.0 L283.0 2150.0 L283.5 2149.9 L284.0 2149.9 L284.5 2149.9 L285.0 2149.8 L285.5 2149.8 L286.0 2149.8 L286.5 2149.7 L287.0 2149.7 L287.5 2149.7 L288.0 2149.6 L288.5 2149.6 L289.0 2149.5 L289.5 2149.5 L290.0 2149.4 L290.5 2149.4 L291.0 2149.3 L291.5 2149.3 L292.0 2149.2 L292.5 2149.1 L293.0 2149.1 L293.5 2149.0 L294.0 2148.9 L294.5 2148.8 L295.0 2148.7 L295.5 2148.6 L296.0 2148.6 L296.5 2148.5 L297.0 2148.4 L297.5 2148.3 L298.0 2148.1 L298.5 2148.0 L299.0 2147.9 L299.5 2147.8 L300.0 2147.7 L300.5 2147.5 L301.0 2147.4 L301.5 2147.2 L302.0 2147.1 L302.5 2146.9 L303.0 2146.7 L303.5 2146.6 L304.0 2146.4 L304.5 2146.2 L305.0 2146.0 L305.5 2145.8 L306.0 2145.6 L306.5 2145.4 L307.0 2145.1 L307.5 2144.9 L308.0 2144.7 L308.5 2144.4 L309.0 2144.2 L309.5 2143.9 L310.0 2143.6 L310.5 2143.3 L311.0 2143.0 L311.5 2142.7 L312.0 2142.4 L312.5 2142.0 L313.0 2141.7 L313.5 2141.4 L314.0 2141.0 L314.5 2140.6 L315.0 2140.2 L315.5 2139.8 L316.0 2139.4 L316.5 2139.0 L317.0 2138.5 L317.5 2138.1 L318.0 2137.6 L318.5 2137.2 L319.0 2136.7 L319.5 2136.2 L320.0 2135.7 L320.5 2135.1 L321.0 2134.6 L321.5 2134.0 L322.0 2133.5 L322.5 2132.9 L323.0 2132.3 L323.5 2131.7 L324.0 2131.0 L324.5 2130.4 L325.0 2129.7 L325.5 2129.1 L326.0 2128.4 L326.5 2127.7 L327.0 2127.0 L327.5 2126.2 L328.0 2125.5 L328.5 2124.7 L329.0 2123.9 L329.5 2123.2 L330.0 2122.3 L330.5 2121.5 L331.0 2120.7 L331.5 2119.9 L332.0 2119.0 L332.5 2118.1 L333.0 2117.2 L333.5 2116.3 L334.0 2115.4 L334.5 2114.5 L335.0 2113.6 L335.5 2112.6 L336.0 2111.6 L336.5 2110.7 L337.0 2109.7 L337.5 2108.7 L338.0 2107.7 L338.5 2106.7 L339.0 2105.6 L339.5 2104.6 L340.0 2103.5 L340.5 2102.5 L341.0 2101.4 L341.5 2100.4 L342.0 2099.3 L342.5 2098.2 L343.0 2097.1 L343.5 2096.0 L344.0 2094.9 L344.5 2093.8 L345.0 2092.7 L345.5 2091.6 L346.0 2090.5 L346.5 2089.4 L347.0 2088.2 L347.5 2087.1 L348.0 2086.0 L348.5 2084.9 L349.0 2083.8 L349.5 2082.6 L350.0 2081.5 L350.5 2080.4 L351.0 2079.3 L351.5 2078.2 L352.0 2077.1 L352.5 2076.0 L353.0 2075.0 L353.5 2073.9 L354.0 2072.8 L354.5 2071.7 L355.0 2070.7 L355.5 2069.7 L356.0 2068.6 L356.5 2067.6 L357.0 2066.6 L357.5 2065.6 L358.0 2064.6 L358.5 2063.7 L359.0 2062.7 L359.5 2061.8 L360.0 2060.9 L360.5 2060.0 L361.0 2059.1 L361.5 2058.2 L362.0 2057.3 L362.5 2056.5 L363.0 2055.7 L363.5 2054.9 L364.0 2054.1 L364.5 2053.3 L365.0 2052.6 L365.5 2051.9 L366.0 2051.2 L366.5 2050.5 L367.0 2049.8 L367.5 2049.2 L368.0 2048.6 L368.5 2048.0 L369.0 2047.4 L369.5 2046.9 L370.0 2046.4 L370.5 2045.8 L371.0 2045.4 L371.5 2044.9 L372.0 2044.5 L372.5 2044.0 L373.0 2043.6 L373.5 2043.3 L374.0 2042.9 L374.5 2042.6 L375.0 2042.3 L375.5 2042.0 L376.0 2041.8 L376.5 2041.5 L377.0 2041.3 L377.5 2041.1 L378.0 2041.0 L378.5 2040.9 L379.0 2040.7 L379.5 2040.6 L380.0 2040.6 L380.5 2040.5 L381.0 2040.5 L381.5 2040.5 L382.0 2040.5 L382.5 2040.5 L383.0 2040.6 L383.5 2040.6 L384.0 2040.7 L384.5 2040.8 L385.0 2040.9 L385.5 2041.0 L386.0 2041.1 L386.5 2041.3 L387.0 2041.4 L387.5 2041.6 L388.0 2041.8 L388.5 2041.9 L389.0 2042.1 L389.5 2042.3 L390.0 2042.5 L390.5 2042.8 L391.0 2043.0 L391.5 2043.2 L392.0 2043.4 L392.5 2043.7 L393.0 2043.9 L393.5 2044.1 L394.0 2044.4 L394.5 2044.6 L395.0 2044.9 L395.5 2045.1 L396.0 2045.3 L396.5 2045.6 L397.0 2045.8 L397.5 2046.1 L398.0 2046.3 L398.5 2046.5 L399.0 2046.8 L399.5 2047.0 L400.0 2047.2 L400.5 2047.4 L401.0 2047.6 L401.5 2047.8 L402.0 2048.0 L402.5 2048.2 L403.0 2048.4 L403.5 2048.6 L404.0 2048.8 L404.5 2049.0 L405.0 2049.1 L405.5 2049.3 L406.0 2049.5 L406.5 2049.6 L407.0 2049.8 L407.5 2049.9 L408.0 2050.0 L408.5 2050.2 L409.0 2050.3 L409.5 2050.4 L410.0 2050.6 L410.5 2050.7 L411.0 2050.8 L411.5 2050.9 L412.0 2051.1 L412.5 2051.2 L413.0 2051.3 L413.5 2051.4 L414.0 2051.5 L414.5 2051.6 L415.0 2051.7 L415.5 2051.8 L416.0 2052.0 L416.5 2052.1 L417.0 2052.2 L417.5 2052.3 L418.0 2052.5 L418.5 2052.6 L419.0 2052.7 L419.5 2052.9 L420.0 2053.0 L420.5 2053.2 L421.0 2053.4 L421.5 2053.6 L422.0 2053.7 L422.5 2053.9 L423.0 2054.1 L423.5 2054.4 L424.0 2054.6 L424.5 2054.8 L425.0 2055.1 L425.5 2055.3 L426.0 2055.6 L426.5 2055.9 L427.0 2056.2 L427.5 2056.5 L428.0 2056.8 L428.5 2057.2 L429.0 2057.5 L429.5 2057.9 L430.0 2058.3 L430.5 2058.7 L431.0 2059.1 L431.5 2059.5 L432.0 2060.0 L432.5 2060.5 L433.0 2061.0 L433.5 2061.5 L434.0 2062.0 L434.5 2062.5 L435.0 2063.1 L435.5 2063.6 L436.0 2064.2 L436.5 2064.8 L437.0 2065.4 L437.5 2066.1 L438.0 2066.7 L438.5 2067.4 L439.0 2068.1 L439.5 2068.8 L440.0 2069.5 L440.5 2070.2 L441.0 2071.0 L441.5 2071.7 L442.0 2072.5 L442.5 2073.3 L443.0 2074.1 L443.5 2074.9 L444.0 2075.7 L444.5 2076.6 L445.0 2077.4 L445.5 2078.3 L446.0 2079.2 L446.5 2080.0 L447.0 2080.9 L447.5 2081.8 L448.0 2082.7 L448.5 2083.7 L449.0 2084.6 L449.5 2085.5 L450.0 2086.4 L450.5 2087.4 L451.0 2088.3 L451.5 2089.3 L452.0 2090.3 L452.5 2091.2 L453.0 2092.2 L453.5 2093.1 L454.0 2094.1 L454.5 2095.1 L455.0 2096.1 L455.5 2097.0 L456.0 2098.0 L456.5 2099.0 L457.0 2099.9 L457.5 2100.9 L458.0 2101.9 L458.5 2102.8 L459.0 2103.8 L459.5 2104.7 L460.0 2105.7 L460.5 2106.6 L461.0 2107.5 L461.5 2108.5 L462.0 2109.4 L462.5 2110.3 L463.0 2111.2 L463.5 2112.1 L464.0 2113.0 L464.5 2113.9 L465.0 2114.8 L465.5 2115.6 L466.0 2116.5 L466.5 2117.3 L467.0 2118.2 L467.5 2119.0 L468.0 2119.8 L468.5 2120.6 L469.0 2121.4 L469.5 2122.2 L470.0 2122.9 L470.5 2123.7 L471.0 2124.4 L471.5 2125.2 L472.0 2125.9 L472.5 2126.6 L473.0 2127.3 L473.5 2128.0 L474.0 2128.6 L474.5 2129.3 L475.0 2129.9 L475.5 2130.6 L476.0 2131.2 L476.5 2131.8 L477.0 2132.4 L477.5 2133.0 L478.0 2133.5 L478.5 2134.1 L479.0 2134.6 L479.5 2135.1 L480.0 2135.7 L480.5 2136.2 L481.0 2136.6 L481.5 2137.1 L482.0 2137.6 L482.5 2138.0 L483.0 2138.5 L483.5 2138.9 L484.0 2139.3 L484.5 2139.7 L485.0 2140.1 L485.5 2140.5 L486.0 2140.9 L486.5 2141.3 L487.0 2141.6 L487.5 2141.9 L488.0 2142.3 L488.5 2142.6 L489.0 2142.9 L489.5 2143.2 L490.0 2143.5 L490.5 2143.8 L491.0 2144.0 L491.5 2144.3 L492.0 2144.6 L492.5 2144.8 L493.0 2145.0 L493.5 2145.3 L494.0 2145.5 L494.5 2145.7 L495.0 2145.9 L495.5 2146.1 L496.0 2146.3 L496.5 2146.5 L497.0 2146.7 L497.5 2146.8 L498.0 2147.0 L498.5 2147.1 L499.0 2147.3 L499.5 2147.4 L500.0 2147.6 L500.5 2147.7 L501.0 2147.8 L501.5 2148.0 L502.0 2148.1 L502.5 2148.2 L503.0 2148.3 L503.5 2148.4 L504.0 2148.5 L504.5 2148.6 L505.0 2148.7 L505.5 2148.8 L506.0 2148.9 L506.5 2148.9 L507.0 2149.0 L507.5 2149.1 L508.0 2149.1 L508.5 2149.2 L509.0 2149.3 L509.5 2149.3 L510.0 2149.4 L510.5 2149.4 L511.0 2149.5 L511.5 2149.5 L512.0 2149.6 L512.5 2149.6 L513.0 2149.7 L513.5 2149.7 L514.0 2149.8 L514.5 2149.8 L515.0 2149.8 L515.5 2149.9 L516.0 2149.9 L516.5 2149.9 L517.0 2149.9 L517.5 2150.0 L518.0 2150.0 L518.5 2150.0 L519.0 2150.0 L519.5 2150.1 L520.0 2150.1 L520.5 2150.1 L521.0 2150.1 L521.5 2150.1 L522.0 2150.2 L522.5 2150.2 L523.0 2150.2 L523.5 2150.2 L524.0 2150.2 L524.5 2150.2 L525.0 2150.2 L525.5 2150.2 L526.0 2150.3 L526.5 2150.3 L527.0 2150.3 L527.5 2150.3 L528.0 2150.3 L528.5 2150.3 L529.0 2150.3 L529.5 2150.3 L530.0 2150.3 L530.5 2150.3 L531.0 2150.3 L531.5 2150.3 L532.0 2150.3 L532.5 2150.3 L533.0 2150.3 L533.5 2150.3 L534.0 2150.4 L1011.5 2150.4" fill="none" stroke="#000" stroke-width="2.45" stroke-linejoin="round" stroke-linecap="round"/>
<path d="M237.0 2150.4 L685.5 2150.4 L686.0 2150.3 L686.5 2150.3 L687.0 2150.3 L687.5 2150.3 L688.0 2150.3 L688.5 2150.3 L689.0 2150.3 L689.5 2150.3 L690.0 2150.3 L690.5 2150.3 L691.0 2150.3 L691.5 2150.3 L692.0 2150.3 L692.5 2150.3 L693.0 2150.2 L693.5 2150.2 L694.0 2150.2 L694.5 2150.2 L695.0 2150.2 L695.5 2150.2 L696.0 2150.2 L696.5 2150.1 L697.0 2150.1 L697.5 2150.1 L698.0 2150.1 L698.5 2150.1 L699.0 2150.0 L699.5 2150.0 L700.0 2150.0 L700.5 2150.0 L701.0 2149.9 L701.5 2149.9 L702.0 2149.9 L702.5 2149.8 L703.0 2149.8 L703.5 2149.7 L704.0 2149.7 L704.5 2149.6 L705.0 2149.6 L705.5 2149.5 L706.0 2149.5 L706.5 2149.4 L707.0 2149.3 L707.5 2149.3 L708.0 2149.2 L708.5 2149.1 L709.0 2149.0 L709.5 2149.0 L710.0 2148.9 L710.5 2148.8 L711.0 2148.7 L711.5 2148.5 L712.0 2148.4 L712.5 2148.3 L713.0 2148.2 L713.5 2148.0 L714.0 2147.9 L714.5 2147.8 L715.0 2147.6 L715.5 2147.4 L716.0 2147.2 L716.5 2147.1 L717.0 2146.9 L717.5 2146.7 L718.0 2146.4 L718.5 2146.2 L719.0 2146.0 L719.5 2145.7 L720.0 2145.5 L720.5 2145.2 L721.0 2144.9 L721.5 2144.6 L722.0 2144.3 L722.5 2143.9 L723.0 2143.6 L723.5 2143.2 L724.0 2142.8 L724.5 2142.4 L725.0 2142.0 L725.5 2141.6 L726.0 2141.1 L726.5 2140.6 L727.0 2140.1 L727.5 2139.6 L728.0 2139.1 L728.5 2138.5 L729.0 2137.9 L729.5 2137.3 L730.0 2136.7 L730.5 2136.0 L731.0 2135.3 L731.5 2134.6 L732.0 2133.8 L732.5 2133.1 L733.0 2132.2 L733.5 2131.4 L734.0 2130.5 L734.5 2129.6 L735.0 2128.7 L735.5 2127.7 L736.0 2126.7 L736.5 2125.7 L737.0 2124.6 L737.5 2123.5 L738.0 2122.3 L738.5 2121.1 L739.0 2119.9 L739.5 2118.6 L740.0 2117.3 L740.5 2115.9 L741.0 2114.5 L741.5 2113.1 L742.0 2111.6 L742.5 2110.0 L743.0 2108.5 L743.5 2106.8 L744.0 2105.1 L744.5 2103.4 L745.0 2101.6 L745.5 2099.8 L746.0 2098.0 L746.5 2096.0 L747.0 2094.1 L747.5 2092.0 L748.0 2090.0 L748.5 2087.8 L749.0 2085.6 L749.5 2083.4 L750.0 2081.1 L750.5 2078.8 L751.0 2076.4 L751.5 2074.0 L752.0 2071.5 L752.5 2068.9 L753.0 2066.3 L753.5 2063.7 L754.0 2061.0 L754.5 2058.2 L755.0 2055.4 L755.5 2052.6 L756.0 2049.7 L756.5 2046.7 L757.0 2043.7 L757.5 2040.6 L758.0 2037.5 L758.5 2034.4 L759.0 2031.2 L759.5 2028.0 L760.0 2024.7 L760.5 2021.4 L761.0 2018.0 L761.5 2014.6 L762.0 2011.2 L762.5 2007.7 L763.0 2004.2 L763.5 2000.6 L764.0 1997.0 L764.5 1993.4 L765.0 1989.8 L765.5 1986.1 L766.0 1982.4 L766.5 1978.7 L767.0 1975.0 L767.5 1971.2 L768.0 1967.5 L768.5 1963.7 L769.0 1959.9 L769.5 1956.1 L770.0 1952.3 L770.5 1948.5 L771.0 1944.6 L771.5 1940.8 L772.0 1937.0 L772.5 1933.2 L773.0 1929.4 L773.5 1925.6 L774.0 1921.9 L774.5 1918.1 L775.0 1914.4 L775.5 1910.6 L776.0 1907.0 L776.5 1903.3 L777.0 1899.7 L777.5 1896.1 L778.0 1892.5 L778.5 1889.0 L779.0 1885.5 L779.5 1882.1 L780.0 1878.7 L780.5 1875.3 L781.0 1872.0 L781.5 1868.8 L782.0 1865.6 L782.5 1862.5 L783.0 1859.4 L783.5 1856.4 L784.0 1853.5 L784.5 1850.7 L785.0 1847.9 L785.5 1845.2 L786.0 1842.5 L786.5 1840.0 L787.0 1837.5 L787.5 1835.1 L788.0 1832.8 L788.5 1830.5 L789.0 1828.4 L789.5 1826.3 L790.0 1824.3 L790.5 1822.4 L791.0 1820.6 L791.5 1818.9 L792.0 1817.3 L792.5 1815.7 L793.0 1814.3 L793.5 1813.0 L794.0 1811.7 L794.5 1810.5 L795.0 1809.5 L795.5 1808.5 L796.0 1807.6 L796.5 1806.8 L797.0 1806.1 L797.5 1805.5 L798.0 1804.9 L798.5 1804.5 L799.0 1804.1 L799.5 1803.9 L800.0 1803.7 L800.5 1803.6 L801.0 1803.5 L801.5 1803.6 L802.0 1803.7 L802.5 1803.9 L803.0 1804.2 L803.5 1804.6 L804.0 1805.0 L804.5 1805.5 L805.0 1806.0 L805.5 1806.6 L806.0 1807.3 L806.5 1808.0 L807.0 1808.8 L807.5 1809.7 L808.0 1810.5 L808.5 1811.5 L809.0 1812.4 L809.5 1813.5 L810.0 1814.5 L810.5 1815.6 L811.0 1816.7 L811.5 1817.8 L812.0 1819.0 L812.5 1820.2 L813.0 1821.4 L813.5 1822.6 L814.0 1823.9 L814.5 1825.1 L815.0 1826.4 L815.5 1827.6 L816.0 1828.9 L816.5 1830.1 L817.0 1831.4 L817.5 1832.7 L818.0 1833.9 L818.5 1835.1 L819.0 1836.3 L819.5 1837.5 L820.0 1838.7 L820.5 1839.9 L821.0 1841.0 L821.5 1842.1 L822.0 1843.2 L822.5 1844.3 L823.0 1845.3 L823.5 1846.3 L824.0 1847.3 L824.5 1848.2 L825.0 1849.1 L825.5 1850.0 L826.0 1850.8 L826.5 1851.6 L827.0 1852.3 L827.5 1853.0 L828.0 1853.7 L828.5 1854.3 L829.0 1854.9 L829.5 1855.5 L830.0 1856.0 L830.5 1856.5 L831.0 1856.9 L831.5 1857.3 L832.0 1857.7 L832.5 1858.1 L833.0 1858.4 L833.5 1858.6 L834.0 1858.9 L834.5 1859.1 L835.0 1859.3 L835.5 1859.4 L836.0 1859.5 L836.5 1859.7 L837.0 1859.7 L837.5 1859.8 L838.0 1859.8 L838.5 1859.9 L839.0 1859.9 L839.5 1859.9 L840.0 1859.9 L840.5 1859.9 L841.0 1859.9 L841.5 1859.9 L842.0 1859.8 L842.5 1859.8 L843.0 1859.8 L843.5 1859.8 L844.0 1859.9 L844.5 1859.9 L845.0 1859.9 L845.5 1860.0 L846.0 1860.1 L846.5 1860.2 L847.0 1860.3 L847.5 1860.5 L848.0 1860.7 L848.5 1860.9 L849.0 1861.2 L849.5 1861.5 L850.0 1861.9 L850.5 1862.3 L851.0 1862.7 L851.5 1863.2 L852.0 1863.7 L852.5 1864.3 L853.0 1864.9 L853.5 1865.6 L854.0 1866.4 L854.5 1867.2 L855.0 1868.0 L855.5 1868.9 L856.0 1869.9 L856.5 1871.0 L857.0 1872.1 L857.5 1873.3 L858.0 1874.5 L858.5 1875.8 L859.0 1877.2 L859.5 1878.7 L860.0 1880.3 L860.5 1881.9 L861.0 1883.6 L861.5 1885.4 L862.0 1887.2 L862.5 1889.2 L863.0 1891.2 L863.5 1893.2 L864.0 1895.4 L864.5 1897.6 L865.0 1899.8 L865.5 1902.2 L866.0 1904.6 L866.5 1907.1 L867.0 1909.6 L867.5 1912.2 L868.0 1914.9 L868.5 1917.6 L869.0 1920.3 L869.5 1923.1 L870.0 1926.0 L870.5 1928.9 L871.0 1931.9 L871.5 1934.9 L872.0 1937.9 L872.5 1941.0 L873.0 1944.1 L873.5 1947.3 L874.0 1950.5 L874.5 1953.7 L875.0 1956.9 L875.5 1960.2 L876.0 1963.5 L876.5 1966.8 L877.0 1970.1 L877.5 1973.4 L878.0 1976.7 L878.5 1980.1 L879.0 1983.4 L879.5 1986.8 L880.0 1990.1 L880.5 1993.4 L881.0 1996.8 L881.5 2000.1 L882.0 2003.4 L882.5 2006.7 L883.0 2010.0 L883.5 2013.2 L884.0 2016.5 L884.5 2019.7 L885.0 2022.9 L885.5 2026.1 L886.0 2029.2 L886.5 2032.3 L887.0 2035.4 L887.5 2038.5 L888.0 2041.5 L888.5 2044.5 L889.0 2047.4 L889.5 2050.3 L890.0 2053.2 L890.5 2056.0 L891.0 2058.8 L891.5 2061.5 L892.0 2064.2 L892.5 2066.8 L893.0 2069.4 L893.5 2072.0 L894.0 2074.5 L894.5 2076.9 L895.0 2079.3 L895.5 2081.7 L896.0 2084.0 L896.5 2086.2 L897.0 2088.4 L897.5 2090.6 L898.0 2092.7 L898.5 2094.7 L899.0 2096.8 L899.5 2098.7 L900.0 2100.6 L900.5 2102.5 L901.0 2104.3 L901.5 2106.0 L902.0 2107.7 L902.5 2109.4 L903.0 2111.0 L903.5 2112.6 L904.0 2114.1 L904.5 2115.6 L905.0 2117.0 L905.5 2118.4 L906.0 2119.7 L906.5 2121.0 L907.0 2122.3 L907.5 2123.5 L908.0 2124.6 L908.5 2125.8 L909.0 2126.9 L909.5 2127.9 L910.0 2128.9 L910.5 2129.9 L911.0 2130.8 L911.5 2131.7 L912.0 2132.6 L912.5 2133.5 L913.0 2134.3 L913.5 2135.0 L914.0 2135.8 L914.5 2136.5 L915.0 2137.2 L915.5 2137.8 L916.0 2138.5 L916.5 2139.1 L917.0 2139.6 L917.5 2140.2 L918.0 2140.7 L918.5 2141.2 L919.0 2141.7 L919.5 2142.2 L920.0 2142.6 L920.5 2143.0 L921.0 2143.4 L921.5 2143.8 L922.0 2144.2 L922.5 2144.5 L923.0 2144.8 L923.5 2145.2 L924.0 2145.5 L924.5 2145.7 L925.0 2146.0 L925.5 2146.3 L926.0 2146.5 L926.5 2146.7 L927.0 2146.9 L927.5 2147.1 L928.0 2147.3 L928.5 2147.5 L929.0 2147.7 L929.5 2147.9 L930.0 2148.0 L930.5 2148.2 L931.0 2148.3 L931.5 2148.4 L932.0 2148.6 L932.5 2148.7 L933.0 2148.8 L933.5 2148.9 L934.0 2149.0 L934.5 2149.1 L935.0 2149.2 L935.5 2149.3 L936.0 2149.3 L936.5 2149.4 L937.0 2149.5 L937.5 2149.5 L938.0 2149.6 L938.5 2149.6 L939.0 2149.7 L939.5 2149.7 L940.0 2149.8 L940.5 2149.8 L941.0 2149.9 L941.5 2149.9 L942.0 2149.9 L942.5 2150.0 L943.0 2150.0 L943.5 2150.0 L944.0 2150.1 L944.5 2150.1 L945.0 2150.1 L945.5 2150.1 L946.0 2150.2 L946.5 2150.2 L947.0 2150.2 L947.5 2150.2 L948.0 2150.2 L948.5 2150.2 L949.0 2150.2 L949.5 2150.3 L950.0 2150.3 L950.5 2150.3 L951.0 2150.3 L951.5 2150.3 L952.0 2150.3 L952.5 2150.3 L953.0 2150.3 L953.5 2150.3 L954.0 2150.3 L954.5 2150.3 L955.0 2150.3 L955.5 2150.3 L956.0 2150.4 L1011.5 2150.4" fill="none" stroke="#000" stroke-width="2.45" stroke-linejoin="round" stroke-linecap="round"/>
</svg>
</body></html>
